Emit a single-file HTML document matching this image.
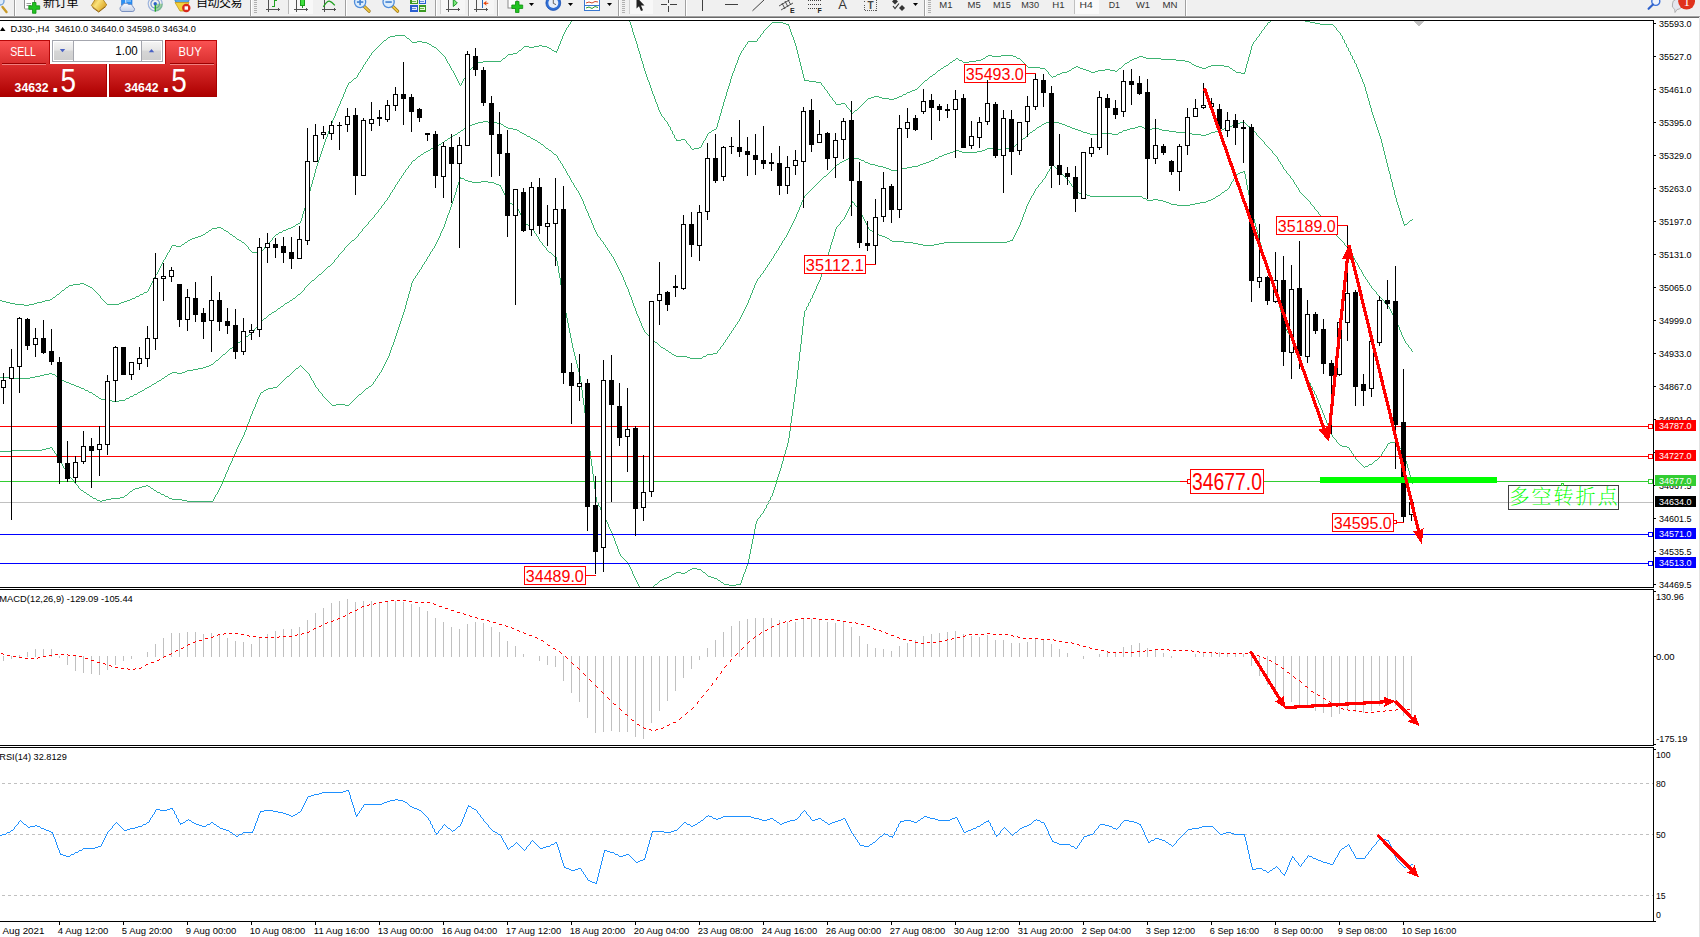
<!DOCTYPE html>
<html lang="zh"><head><meta charset="utf-8"><title>DJ30-,H4</title>
<style>
html,body{margin:0;padding:0;background:#fff;}
body{width:1700px;height:937px;overflow:hidden;position:relative;font-family:'Liberation Sans','Noto Sans CJK SC',sans-serif;}
text{white-space:pre;}
</style></head><body>
<svg width="1700" height="937" viewBox="0 0 1700 937" style="position:absolute;left:0;top:0;display:block" font-family="'Liberation Sans', sans-serif">
<defs><linearGradient id="gGold" x1="0" y1="0" x2="1" y2="0.6"><stop offset="0" stop-color="#c8901a"/><stop offset="0.45" stop-color="#fbe27a"/><stop offset="1" stop-color="#d9a322"/></linearGradient><linearGradient id="gCloud" x1="0" y1="0" x2="0" y2="1"><stop offset="0" stop-color="#fafcff"/><stop offset="1" stop-color="#c4d0e6"/></linearGradient><clipPath id="cpTb"><rect x="0" y="0" width="1700" height="16"/></clipPath><linearGradient id="gTop" x1="0" y1="0" x2="0" y2="1"><stop offset="0" stop-color="#fa5252"/><stop offset="1" stop-color="#d92f2f"/></linearGradient><linearGradient id="gBot" x1="0" y1="0" x2="0" y2="1"><stop offset="0" stop-color="#dc2e2e"/><stop offset="1" stop-color="#ad0000"/></linearGradient><linearGradient id="gBtn" x1="0" y1="0" x2="0" y2="1"><stop offset="0" stop-color="#f4f4f4"/><stop offset="0.45" stop-color="#e6e6e6"/><stop offset="0.5" stop-color="#d6d6d6"/><stop offset="1" stop-color="#cfcfcf"/></linearGradient><clipPath id="cpMain"><rect x="0" y="21" width="1653" height="566"/></clipPath></defs>
<g shape-rendering="crispEdges">
<rect x="0" y="0" width="1700" height="16" fill="#f0f0f0"/>
<rect x="0" y="15" width="1700" height="1" fill="#f4f4f4" />
<rect x="0" y="16" width="1700" height="1" fill="#a2a2a2" />
<rect x="0" y="17" width="1700" height="1" fill="#696969" />
<rect x="1699" y="17" width="1" height="920" fill="#e3e3e3"/>
<rect x="0" y="20" width="1654" height="1" fill="#000" />
<rect x="0" y="587" width="1654" height="1" fill="#000" />
<rect x="1653" y="20" width="1" height="568" fill="#000"/>
<rect x="0" y="589" width="1654" height="1" fill="#000" />
<rect x="0" y="745" width="1654" height="1" fill="#000" />
<rect x="1653" y="589" width="1" height="157" fill="#000"/>
<rect x="0" y="747" width="1654" height="1" fill="#000" />
<rect x="0" y="921" width="1654" height="1" fill="#000" />
<rect x="1653" y="747" width="1" height="175" fill="#000"/>
<g id="macdbars"><rect x="3" y="656" width="1" height="5" fill="#c0c0c0"/><rect x="11" y="656" width="1" height="3" fill="#c0c0c0"/><rect x="19" y="655" width="1" height="2" fill="#c0c0c0"/><rect x="27" y="652" width="1" height="5" fill="#c0c0c0"/><rect x="35" y="649" width="1" height="8" fill="#c0c0c0"/><rect x="43" y="649" width="1" height="8" fill="#c0c0c0"/><rect x="51" y="649" width="1" height="8" fill="#c0c0c0"/><rect x="59" y="656" width="1" height="2" fill="#c0c0c0"/><rect x="67" y="656" width="1" height="9" fill="#c0c0c0"/><rect x="75" y="656" width="1" height="15" fill="#c0c0c0"/><rect x="83" y="656" width="1" height="17" fill="#c0c0c0"/><rect x="91" y="656" width="1" height="18" fill="#c0c0c0"/><rect x="99" y="656" width="1" height="19" fill="#c0c0c0"/><rect x="107" y="656" width="1" height="14" fill="#c0c0c0"/><rect x="115" y="656" width="1" height="9" fill="#c0c0c0"/><rect x="123" y="656" width="1" height="5" fill="#c0c0c0"/><rect x="131" y="656" width="1" height="3" fill="#c0c0c0"/><rect x="147" y="652" width="1" height="5" fill="#c0c0c0"/><rect x="155" y="644" width="1" height="13" fill="#c0c0c0"/><rect x="163" y="638" width="1" height="19" fill="#c0c0c0"/><rect x="171" y="633" width="1" height="24" fill="#c0c0c0"/><rect x="179" y="633" width="1" height="24" fill="#c0c0c0"/><rect x="187" y="632" width="1" height="25" fill="#c0c0c0"/><rect x="195" y="632" width="1" height="25" fill="#c0c0c0"/><rect x="203" y="634" width="1" height="23" fill="#c0c0c0"/><rect x="211" y="633" width="1" height="24" fill="#c0c0c0"/><rect x="219" y="635" width="1" height="22" fill="#c0c0c0"/><rect x="227" y="638" width="1" height="19" fill="#c0c0c0"/><rect x="235" y="641" width="1" height="16" fill="#c0c0c0"/><rect x="243" y="642" width="1" height="15" fill="#c0c0c0"/><rect x="251" y="644" width="1" height="13" fill="#c0c0c0"/><rect x="259" y="638" width="1" height="19" fill="#c0c0c0"/><rect x="267" y="634" width="1" height="23" fill="#c0c0c0"/><rect x="275" y="631" width="1" height="26" fill="#c0c0c0"/><rect x="283" y="629" width="1" height="28" fill="#c0c0c0"/><rect x="291" y="629" width="1" height="28" fill="#c0c0c0"/><rect x="299" y="627" width="1" height="30" fill="#c0c0c0"/><rect x="307" y="620" width="1" height="37" fill="#c0c0c0"/><rect x="315" y="613" width="1" height="44" fill="#c0c0c0"/><rect x="323" y="608" width="1" height="49" fill="#c0c0c0"/><rect x="331" y="603" width="1" height="54" fill="#c0c0c0"/><rect x="339" y="601" width="1" height="56" fill="#c0c0c0"/><rect x="347" y="599" width="1" height="58" fill="#c0c0c0"/><rect x="355" y="602" width="1" height="55" fill="#c0c0c0"/><rect x="363" y="601" width="1" height="56" fill="#c0c0c0"/><rect x="371" y="601" width="1" height="56" fill="#c0c0c0"/><rect x="379" y="602" width="1" height="55" fill="#c0c0c0"/><rect x="387" y="601" width="1" height="56" fill="#c0c0c0"/><rect x="395" y="601" width="1" height="56" fill="#c0c0c0"/><rect x="403" y="602" width="1" height="55" fill="#c0c0c0"/><rect x="411" y="604" width="1" height="53" fill="#c0c0c0"/><rect x="419" y="607" width="1" height="50" fill="#c0c0c0"/><rect x="427" y="611" width="1" height="46" fill="#c0c0c0"/><rect x="435" y="618" width="1" height="39" fill="#c0c0c0"/><rect x="443" y="622" width="1" height="35" fill="#c0c0c0"/><rect x="451" y="627" width="1" height="30" fill="#c0c0c0"/><rect x="459" y="629" width="1" height="28" fill="#c0c0c0"/><rect x="467" y="624" width="1" height="33" fill="#c0c0c0"/><rect x="475" y="622" width="1" height="35" fill="#c0c0c0"/><rect x="483" y="623" width="1" height="34" fill="#c0c0c0"/><rect x="491" y="627" width="1" height="30" fill="#c0c0c0"/><rect x="499" y="632" width="1" height="25" fill="#c0c0c0"/><rect x="507" y="641" width="1" height="16" fill="#c0c0c0"/><rect x="515" y="646" width="1" height="11" fill="#c0c0c0"/><rect x="523" y="654" width="1" height="3" fill="#c0c0c0"/><rect x="539" y="656" width="1" height="5" fill="#c0c0c0"/><rect x="547" y="656" width="1" height="9" fill="#c0c0c0"/><rect x="555" y="656" width="1" height="11" fill="#c0c0c0"/><rect x="563" y="656" width="1" height="25" fill="#c0c0c0"/><rect x="571" y="656" width="1" height="37" fill="#c0c0c0"/><rect x="579" y="656" width="1" height="46" fill="#c0c0c0"/><rect x="587" y="656" width="1" height="62" fill="#c0c0c0"/><rect x="595" y="656" width="1" height="77" fill="#c0c0c0"/><rect x="603" y="656" width="1" height="76" fill="#c0c0c0"/><rect x="611" y="656" width="1" height="75" fill="#c0c0c0"/><rect x="619" y="656" width="1" height="76" fill="#c0c0c0"/><rect x="627" y="656" width="1" height="76" fill="#c0c0c0"/><rect x="635" y="656" width="1" height="81" fill="#c0c0c0"/><rect x="643" y="656" width="1" height="83" fill="#c0c0c0"/><rect x="651" y="656" width="1" height="67" fill="#c0c0c0"/><rect x="659" y="656" width="1" height="55" fill="#c0c0c0"/><rect x="667" y="656" width="1" height="45" fill="#c0c0c0"/><rect x="675" y="656" width="1" height="35" fill="#c0c0c0"/><rect x="683" y="656" width="1" height="22" fill="#c0c0c0"/><rect x="691" y="656" width="1" height="13" fill="#c0c0c0"/><rect x="699" y="656" width="1" height="4" fill="#c0c0c0"/><rect x="707" y="648" width="1" height="9" fill="#c0c0c0"/><rect x="715" y="640" width="1" height="17" fill="#c0c0c0"/><rect x="723" y="632" width="1" height="25" fill="#c0c0c0"/><rect x="731" y="626" width="1" height="31" fill="#c0c0c0"/><rect x="739" y="621" width="1" height="36" fill="#c0c0c0"/><rect x="747" y="619" width="1" height="38" fill="#c0c0c0"/><rect x="755" y="618" width="1" height="39" fill="#c0c0c0"/><rect x="763" y="618" width="1" height="39" fill="#c0c0c0"/><rect x="771" y="618" width="1" height="39" fill="#c0c0c0"/><rect x="779" y="620" width="1" height="37" fill="#c0c0c0"/><rect x="787" y="622" width="1" height="35" fill="#c0c0c0"/><rect x="795" y="622" width="1" height="35" fill="#c0c0c0"/><rect x="803" y="619" width="1" height="38" fill="#c0c0c0"/><rect x="811" y="619" width="1" height="38" fill="#c0c0c0"/><rect x="819" y="619" width="1" height="38" fill="#c0c0c0"/><rect x="827" y="622" width="1" height="35" fill="#c0c0c0"/><rect x="835" y="623" width="1" height="34" fill="#c0c0c0"/><rect x="843" y="621" width="1" height="36" fill="#c0c0c0"/><rect x="851" y="627" width="1" height="30" fill="#c0c0c0"/><rect x="859" y="636" width="1" height="21" fill="#c0c0c0"/><rect x="867" y="644" width="1" height="13" fill="#c0c0c0"/><rect x="875" y="648" width="1" height="9" fill="#c0c0c0"/><rect x="883" y="649" width="1" height="8" fill="#c0c0c0"/><rect x="891" y="651" width="1" height="6" fill="#c0c0c0"/><rect x="899" y="646" width="1" height="11" fill="#c0c0c0"/><rect x="907" y="643" width="1" height="14" fill="#c0c0c0"/><rect x="915" y="640" width="1" height="17" fill="#c0c0c0"/><rect x="923" y="636" width="1" height="21" fill="#c0c0c0"/><rect x="931" y="634" width="1" height="23" fill="#c0c0c0"/><rect x="939" y="633" width="1" height="24" fill="#c0c0c0"/><rect x="947" y="632" width="1" height="25" fill="#c0c0c0"/><rect x="955" y="631" width="1" height="26" fill="#c0c0c0"/><rect x="963" y="634" width="1" height="23" fill="#c0c0c0"/><rect x="971" y="636" width="1" height="21" fill="#c0c0c0"/><rect x="979" y="637" width="1" height="20" fill="#c0c0c0"/><rect x="987" y="635" width="1" height="22" fill="#c0c0c0"/><rect x="995" y="640" width="1" height="17" fill="#c0c0c0"/><rect x="1003" y="640" width="1" height="17" fill="#c0c0c0"/><rect x="1011" y="643" width="1" height="14" fill="#c0c0c0"/><rect x="1019" y="643" width="1" height="14" fill="#c0c0c0"/><rect x="1027" y="642" width="1" height="15" fill="#c0c0c0"/><rect x="1035" y="639" width="1" height="18" fill="#c0c0c0"/><rect x="1043" y="639" width="1" height="18" fill="#c0c0c0"/><rect x="1051" y="644" width="1" height="13" fill="#c0c0c0"/><rect x="1059" y="649" width="1" height="8" fill="#c0c0c0"/><rect x="1067" y="653" width="1" height="4" fill="#c0c0c0"/><rect x="1083" y="656" width="1" height="3" fill="#c0c0c0"/><rect x="1099" y="654" width="1" height="3" fill="#c0c0c0"/><rect x="1107" y="651" width="1" height="6" fill="#c0c0c0"/><rect x="1115" y="652" width="1" height="5" fill="#c0c0c0"/><rect x="1123" y="647" width="1" height="10" fill="#c0c0c0"/><rect x="1131" y="645" width="1" height="12" fill="#c0c0c0"/><rect x="1139" y="643" width="1" height="14" fill="#c0c0c0"/><rect x="1147" y="648" width="1" height="9" fill="#c0c0c0"/><rect x="1155" y="650" width="1" height="7" fill="#c0c0c0"/><rect x="1163" y="653" width="1" height="4" fill="#c0c0c0"/><rect x="1171" y="656" width="1" height="2" fill="#c0c0c0"/><rect x="1195" y="654" width="1" height="3" fill="#c0c0c0"/><rect x="1203" y="652" width="1" height="5" fill="#c0c0c0"/><rect x="1211" y="652" width="1" height="5" fill="#c0c0c0"/><rect x="1219" y="652" width="1" height="5" fill="#c0c0c0"/><rect x="1227" y="653" width="1" height="4" fill="#c0c0c0"/><rect x="1235" y="654" width="1" height="3" fill="#c0c0c0"/><rect x="1243" y="654" width="1" height="3" fill="#c0c0c0"/><rect x="1251" y="656" width="1" height="10" fill="#c0c0c0"/><rect x="1259" y="656" width="1" height="20" fill="#c0c0c0"/><rect x="1267" y="656" width="1" height="29" fill="#c0c0c0"/><rect x="1275" y="656" width="1" height="37" fill="#c0c0c0"/><rect x="1283" y="656" width="1" height="45" fill="#c0c0c0"/><rect x="1291" y="656" width="1" height="46" fill="#c0c0c0"/><rect x="1299" y="656" width="1" height="50" fill="#c0c0c0"/><rect x="1307" y="656" width="1" height="51" fill="#c0c0c0"/><rect x="1315" y="656" width="1" height="55" fill="#c0c0c0"/><rect x="1323" y="656" width="1" height="57" fill="#c0c0c0"/><rect x="1331" y="656" width="1" height="61" fill="#c0c0c0"/><rect x="1339" y="656" width="1" height="58" fill="#c0c0c0"/><rect x="1347" y="656" width="1" height="54" fill="#c0c0c0"/><rect x="1355" y="656" width="1" height="56" fill="#c0c0c0"/><rect x="1363" y="656" width="1" height="57" fill="#c0c0c0"/><rect x="1371" y="656" width="1" height="55" fill="#c0c0c0"/><rect x="1379" y="656" width="1" height="50" fill="#c0c0c0"/><rect x="1387" y="656" width="1" height="47" fill="#c0c0c0"/><rect x="1395" y="656" width="1" height="50" fill="#c0c0c0"/><rect x="1403" y="656" width="1" height="60" fill="#c0c0c0"/><rect x="1411" y="656" width="1" height="67" fill="#c0c0c0"/></g>
<g id="levels"><line x1="2" y1="783.5" x2="1653" y2="783.5" stroke="#c0c0c0" stroke-width="1" stroke-dasharray="3 3"/><line x1="2" y1="834.5" x2="1653" y2="834.5" stroke="#c0c0c0" stroke-width="1" stroke-dasharray="3 3"/><line x1="2" y1="895.5" x2="1653" y2="895.5" stroke="#c0c0c0" stroke-width="1" stroke-dasharray="3 3"/></g>
<g id="bands" clip-path="url(#cpMain)"><path d="M0.5 300v1M1.5 300v1M2.5 301v1M3.5 301v1M4.5 301v1M5.5 301v1M6.5 302v1M7.5 302v1M8.5 302v1M9.5 302v1M10.5 303v1M11.5 303v1M12.5 303v1M13.5 303v1M14.5 303v1M15.5 304v1M16.5 304v1M17.5 304v1M18.5 304v1M19.5 304v1M20.5 304v1M21.5 304v1M22.5 304v1M23.5 304v1M24.5 305v1M25.5 305v1M26.5 305v1M27.5 305v1M28.5 305v1M29.5 304v1M30.5 304v1M31.5 304v1M32.5 304v1M33.5 304v1M34.5 303v1M35.5 303v1M36.5 303v1M37.5 302v1M38.5 302v1M39.5 302v1M40.5 302v1M41.5 302v1M42.5 301v1M43.5 301v1M44.5 301v1M45.5 300v1M46.5 300v1M47.5 300v1M48.5 300v1M49.5 300v1M50.5 299v1M51.5 299v1M52.5 298v1M53.5 297v1M54.5 297v1M55.5 296v1M56.5 295v1M57.5 294v1M58.5 294v1M59.5 293v1M60.5 292v1M61.5 291v1M62.5 290v1M63.5 290v1M64.5 289v1M65.5 288v1M66.5 287v1M67.5 287v1M68.5 286v1M69.5 285v1M70.5 285v1M71.5 285v1M72.5 285v1M73.5 284v1M74.5 284v1M75.5 284v1M76.5 284v1M77.5 284v1M78.5 284v1M79.5 284v1M80.5 283v1M81.5 283v1M82.5 283v1M83.5 283v1M84.5 284v1M85.5 284v1M86.5 285v1M87.5 285v1M88.5 286v1M89.5 286v1M90.5 287v1M91.5 287v1M92.5 288v1M93.5 289v1M94.5 290v1M95.5 291v1M96.5 292v1M97.5 293v1M98.5 294v1M99.5 295v1M100.5 296v2M101.5 298v1M102.5 299v1M103.5 300v1M104.5 301v1M105.5 302v1M106.5 303v1M107.5 304v1M108.5 304v1M109.5 304v1M110.5 304v1M111.5 304v1M112.5 304v1M113.5 304v1M114.5 304v1M115.5 304v1M116.5 304v1M117.5 304v1M118.5 304v1M119.5 303v1M120.5 303v1M121.5 302v1M122.5 302v1M123.5 302v1M124.5 301v1M125.5 301v1M126.5 301v1M127.5 300v1M128.5 300v1M129.5 300v1M130.5 299v1M131.5 299v1M132.5 298v1M133.5 298v1M134.5 298v1M135.5 297v1M136.5 296v1M137.5 296v1M138.5 296v1M139.5 295v1M140.5 294v1M141.5 294v1M142.5 294v1M143.5 293v1M144.5 292v1M145.5 292v1M146.5 292v1M147.5 291v1M148.5 289v2M149.5 287v2M150.5 285v2M151.5 283v2M152.5 281v2M153.5 279v2M154.5 277v2M155.5 275v2M156.5 274v1M157.5 272v2M158.5 270v2M159.5 268v2M160.5 266v2M161.5 264v2M162.5 262v2M163.5 260v2M164.5 259v1M165.5 257v2M166.5 255v2M167.5 253v2M168.5 252v1M169.5 250v2M170.5 248v2M171.5 246v2M172.5 245v1M173.5 245v1M174.5 245v1M175.5 245v1M176.5 246v1M177.5 246v1M178.5 246v1M179.5 246v1M180.5 246v1M181.5 245v1M182.5 244v1M183.5 244v1M184.5 243v1M185.5 242v1M186.5 242v1M187.5 241v1M188.5 240v1M189.5 240v1M190.5 239v1M191.5 239v1M192.5 238v1M193.5 238v1M194.5 238v1M195.5 237v1M196.5 237v1M197.5 237v1M198.5 236v1M199.5 236v1M200.5 236v1M201.5 235v1M202.5 235v1M203.5 234v1M204.5 234v1M205.5 233v1M206.5 232v1M207.5 232v1M208.5 231v1M209.5 230v1M210.5 230v1M211.5 229v1M212.5 228v1M213.5 228v1M214.5 228v1M215.5 228v1M216.5 228v1M217.5 227v1M218.5 227v1M219.5 227v1M220.5 227v1M221.5 228v1M222.5 228v1M223.5 229v1M224.5 230v1M225.5 230v1M226.5 231v1M227.5 231v1M228.5 232v1M229.5 233v1M230.5 234v1M231.5 234v1M232.5 235v1M233.5 236v1M234.5 236v1M235.5 237v1M236.5 238v1M237.5 239v1M238.5 239v1M239.5 240v1M240.5 240v1M241.5 241v1M242.5 242v1M243.5 242v1M244.5 243v1M245.5 244v1M246.5 245v1M247.5 246v1M248.5 247v2M249.5 249v1M250.5 250v1M251.5 251v1M252.5 252v1M253.5 252v1M254.5 252v1M255.5 252v1M256.5 252v1M257.5 252v1M258.5 252v1M259.5 252v1M260.5 252v1M261.5 251v1M262.5 250v1M263.5 249v1M264.5 247v2M265.5 246v1M266.5 245v1M267.5 244v1M268.5 243v1M269.5 242v1M270.5 241v1M271.5 240v1M272.5 238v2M273.5 237v1M274.5 236v1M275.5 235v1M276.5 234v1M277.5 234v1M278.5 233v1M279.5 232v1M280.5 232v1M281.5 232v1M282.5 231v1M283.5 230v1M284.5 230v1M285.5 230v1M286.5 229v1M287.5 229v1M288.5 228v1M289.5 228v1M290.5 228v1M291.5 227v1M292.5 227v1M293.5 226v1M294.5 226v1M295.5 225v1M296.5 224v1M297.5 224v1M298.5 223v1M299.5 223v1M300.5 221v2M301.5 218v3M302.5 214v4M303.5 211v3M304.5 208v3M305.5 205v3M306.5 201v4M307.5 198v3M308.5 195v3M309.5 191v4M310.5 187v4M311.5 184v3M312.5 180v4M313.5 177v3M314.5 173v4M315.5 169v4M316.5 166v3M317.5 163v3M318.5 160v3M319.5 157v3M320.5 154v3M321.5 151v3M322.5 148v3M323.5 145v3M324.5 142v3M325.5 139v3M326.5 137v2M327.5 134v3M328.5 131v3M329.5 128v3M330.5 126v2M331.5 123v3M332.5 120v3M333.5 118v2M334.5 116v2M335.5 113v3M336.5 111v2M337.5 108v3M338.5 106v2M339.5 104v2M340.5 101v3M341.5 99v2M342.5 97v2M343.5 94v3M344.5 92v2M345.5 89v3M346.5 87v2M347.5 85v2M348.5 83v2M349.5 82v1M350.5 82v1M351.5 81v1M352.5 80v1M353.5 79v1M354.5 78v1M355.5 78v1M356.5 77v1M357.5 75v2M358.5 73v2M359.5 72v1M360.5 70v2M361.5 69v1M362.5 67v2M363.5 65v2M364.5 64v1M365.5 62v2M366.5 61v1M367.5 59v2M368.5 58v1M369.5 56v2M370.5 55v1M371.5 53v2M372.5 52v1M373.5 51v1M374.5 50v1M375.5 49v1M376.5 48v1M377.5 47v1M378.5 46v1M379.5 45v1M380.5 44v1M381.5 43v1M382.5 42v1M383.5 41v1M384.5 40v1M385.5 40v1M386.5 39v1M387.5 38v1M388.5 37v1M389.5 37v1M390.5 36v1M391.5 36v1M392.5 36v1M393.5 36v1M394.5 36v1M395.5 35v1M396.5 35v1M397.5 35v1M398.5 35v1M399.5 35v1M400.5 35v1M401.5 35v1M402.5 35v1M403.5 35v1M404.5 35v1M405.5 36v1M406.5 37v1M407.5 38v1M408.5 38v1M409.5 39v1M410.5 40v1M411.5 41v1M412.5 42v1M413.5 42v1M414.5 42v1M415.5 42v1M416.5 42v1M417.5 41v1M418.5 41v1M419.5 41v1M420.5 41v1M421.5 41v1M422.5 42v1M423.5 42v1M424.5 42v1M425.5 42v1M426.5 42v1M427.5 43v1M428.5 43v1M429.5 44v1M430.5 44v1M431.5 45v1M432.5 46v1M433.5 46v1M434.5 47v1M435.5 47v1M436.5 48v1M437.5 49v1M438.5 50v1M439.5 51v1M440.5 52v1M441.5 53v1M442.5 54v1M443.5 55v1M444.5 56v1M445.5 57v2M446.5 59v2M447.5 61v2M448.5 63v1M449.5 64v2M450.5 66v2M451.5 68v2M452.5 70v1M453.5 71v2M454.5 73v2M455.5 75v2M456.5 77v2M457.5 79v2M458.5 81v2M459.5 83v2M460.5 85v1M461.5 83v2M462.5 81v2M463.5 79v2M464.5 78v1M465.5 76v2M466.5 74v2M467.5 72v2M468.5 71v1M469.5 70v1M470.5 69v1M471.5 68v1M472.5 67v1M473.5 66v1M474.5 65v1M475.5 64v1M476.5 63v1M477.5 63v1M478.5 62v1M479.5 62v1M480.5 62v1M481.5 62v1M482.5 62v1M483.5 61v1M484.5 61v1M485.5 61v1M486.5 61v1M487.5 61v1M488.5 61v1M489.5 61v1M490.5 61v1M491.5 61v1M492.5 61v1M493.5 61v1M494.5 61v1M495.5 61v1M496.5 61v1M497.5 61v1M498.5 61v1M499.5 61v1M500.5 61v1M501.5 60v1M502.5 59v1M503.5 58v1M504.5 58v1M505.5 57v1M506.5 56v1M507.5 55v1M508.5 54v1M509.5 54v1M510.5 54v1M511.5 54v1M512.5 54v1M513.5 53v1M514.5 53v1M515.5 53v1M516.5 53v1M517.5 52v1M518.5 51v1M519.5 50v1M520.5 50v1M521.5 49v1M522.5 48v1M523.5 47v1M524.5 46v1M525.5 46v1M526.5 46v1M527.5 46v1M528.5 46v1M529.5 47v1M530.5 47v1M531.5 47v1M532.5 47v1M533.5 47v1M534.5 46v1M535.5 46v1M536.5 46v1M537.5 46v1M538.5 46v1M539.5 45v1M540.5 45v1M541.5 45v1M542.5 46v1M543.5 46v1M544.5 46v1M545.5 46v1M546.5 46v1M547.5 47v1M548.5 47v1M549.5 48v1M550.5 48v1M551.5 49v1M552.5 50v1M553.5 50v1M554.5 51v1M555.5 51v1M556.5 51v2M557.5 49v2M558.5 46v3M559.5 44v2M560.5 41v3M561.5 39v2M562.5 36v3M563.5 34v2M564.5 32v2M565.5 30v2M566.5 28v2M567.5 27v1M568.5 25v2M569.5 24v1M570.5 22v2M571.5 21v1M629.5 21v1M630.5 22v3M631.5 25v3M632.5 28v4M633.5 32v3M634.5 35v3M635.5 38v3M636.5 41v3M637.5 44v4M638.5 48v3M639.5 51v3M640.5 54v4M641.5 58v3M642.5 61v3M643.5 64v4M644.5 68v3M645.5 71v3M646.5 74v3M647.5 77v3M648.5 80v2M649.5 82v3M650.5 85v3M651.5 88v3M652.5 91v3M653.5 94v2M654.5 96v3M655.5 99v3M656.5 102v2M657.5 104v3M658.5 107v3M659.5 110v2M660.5 112v2M661.5 114v2M662.5 116v1M663.5 117v1M664.5 118v2M665.5 120v1M666.5 121v1M667.5 122v2M668.5 124v2M669.5 126v1M670.5 127v3M671.5 130v1M672.5 131v3M673.5 134v1M674.5 135v3M675.5 138v1M676.5 139v2M677.5 140v1M678.5 140v1M679.5 140v1M680.5 140v1M681.5 139v1M682.5 139v1M683.5 139v1M684.5 139v1M685.5 140v1M686.5 141v2M687.5 143v1M688.5 144v1M689.5 145v1M690.5 146v2M691.5 148v1M692.5 149v1M693.5 149v1M694.5 148v1M695.5 148v1M696.5 148v1M697.5 148v1M698.5 148v1M699.5 147v1M700.5 147v1M701.5 145v2M702.5 143v2M703.5 141v2M704.5 140v1M705.5 138v2M706.5 136v2M707.5 134v2M708.5 133v1M709.5 132v1M710.5 132v1M711.5 131v1M712.5 130v1M713.5 130v1M714.5 129v1M715.5 129v1M716.5 127v2M717.5 123v4M718.5 120v3M719.5 116v4M720.5 113v3M721.5 109v4M722.5 106v3M723.5 102v4M724.5 99v3M725.5 96v3M726.5 92v4M727.5 89v3M728.5 86v3M729.5 83v3M730.5 79v4M731.5 76v3M732.5 73v3M733.5 71v2M734.5 68v3M735.5 65v3M736.5 63v2M737.5 60v3M738.5 57v3M739.5 55v2M740.5 53v2M741.5 51v2M742.5 50v1M743.5 48v2M744.5 47v1M745.5 45v2M746.5 44v1M747.5 42v2M748.5 41v1M749.5 41v1M750.5 41v1M751.5 41v1M752.5 41v1M753.5 41v1M754.5 41v1M755.5 41v1M756.5 41v1M757.5 39v2M758.5 38v1M759.5 37v1M760.5 35v2M761.5 34v1M762.5 33v1M763.5 31v2M764.5 30v1M765.5 29v1M766.5 28v1M767.5 27v1M768.5 26v1M769.5 25v1M770.5 24v1M771.5 23v1M772.5 22v1M773.5 22v1M774.5 22v1M775.5 22v1M776.5 22v1M777.5 22v1M778.5 22v1M779.5 22v1M780.5 22v1M781.5 22v1M782.5 22v1M783.5 23v1M784.5 23v1M785.5 23v1M786.5 24v1M787.5 24v1M788.5 24v2M789.5 26v3M790.5 29v3M791.5 32v3M792.5 35v2M793.5 37v3M794.5 40v3M795.5 43v3M796.5 46v4M797.5 50v4M798.5 54v4M799.5 58v4M800.5 62v4M801.5 66v4M802.5 70v4M803.5 74v4M804.5 78v3M805.5 80v1M806.5 80v1M807.5 80v1M808.5 80v1M809.5 81v1M810.5 81v1M811.5 81v1M812.5 81v1M813.5 81v1M814.5 81v1M815.5 81v1M816.5 82v1M817.5 82v1M818.5 82v1M819.5 82v1M820.5 82v1M821.5 83v2M822.5 85v1M823.5 86v1M824.5 87v2M825.5 89v1M826.5 90v1M827.5 91v2M828.5 93v1M829.5 94v2M830.5 96v1M831.5 97v1M832.5 98v2M833.5 100v1M834.5 101v1M835.5 102v2M836.5 104v1M837.5 104v1M838.5 104v1M839.5 104v1M840.5 104v1M841.5 103v1M842.5 103v1M843.5 103v1M844.5 103v1M845.5 104v1M846.5 105v2M847.5 107v1M848.5 108v1M849.5 109v1M850.5 110v2M851.5 112v1M852.5 113v1M853.5 112v1M854.5 111v1M855.5 110v1M856.5 110v1M857.5 109v1M858.5 108v1M859.5 107v1M860.5 106v1M861.5 105v1M862.5 104v1M863.5 103v1M864.5 102v1M865.5 101v1M866.5 100v1M867.5 99v1M868.5 98v1M869.5 98v1M870.5 98v1M871.5 97v1M872.5 97v1M873.5 97v1M874.5 96v1M875.5 96v1M876.5 96v1M877.5 96v1M878.5 96v1M879.5 97v1M880.5 97v1M881.5 97v1M882.5 98v1M883.5 98v1M884.5 98v1M885.5 98v1M886.5 98v1M887.5 98v1M888.5 98v1M889.5 99v1M890.5 99v1M891.5 99v1M892.5 99v1M893.5 99v1M894.5 98v1M895.5 98v1M896.5 98v1M897.5 97v1M898.5 97v1M899.5 96v1M900.5 96v1M901.5 96v1M902.5 95v1M903.5 94v1M904.5 94v1M905.5 94v1M906.5 93v1M907.5 92v1M908.5 92v1M909.5 92v1M910.5 91v1M911.5 91v1M912.5 90v1M913.5 90v1M914.5 90v1M915.5 89v1M916.5 89v1M917.5 88v1M918.5 87v1M919.5 86v1M920.5 85v1M921.5 84v1M922.5 83v1M923.5 82v1M924.5 81v1M925.5 80v1M926.5 80v1M927.5 79v1M928.5 78v1M929.5 77v1M930.5 76v1M931.5 76v1M932.5 75v1M933.5 74v1M934.5 74v1M935.5 73v1M936.5 72v1M937.5 71v1M938.5 70v1M939.5 70v1M940.5 69v1M941.5 68v1M942.5 68v1M943.5 67v1M944.5 66v1M945.5 66v1M946.5 65v1M947.5 65v1M948.5 64v1M949.5 63v1M950.5 62v1M951.5 62v1M952.5 61v1M953.5 60v1M954.5 60v1M955.5 59v1M956.5 58v1M957.5 58v1M958.5 59v1M959.5 60v1M960.5 60v1M961.5 60v1M962.5 61v1M963.5 62v1M964.5 62v1M965.5 62v1M966.5 62v1M967.5 62v1M968.5 62v1M969.5 61v1M970.5 61v1M971.5 61v1M972.5 61v1M973.5 61v1M974.5 61v1M975.5 61v1M976.5 60v1M977.5 60v1M978.5 60v1M979.5 60v1M980.5 60v1M981.5 59v1M982.5 59v1M983.5 58v1M984.5 58v1M985.5 57v1M986.5 56v1M987.5 56v1M988.5 55v1M989.5 55v1M990.5 55v1M991.5 55v1M992.5 56v1M993.5 56v1M994.5 56v1M995.5 56v1M996.5 56v1M997.5 56v1M998.5 56v1M999.5 56v1M1000.5 56v1M1001.5 55v1M1002.5 55v1M1003.5 55v1M1004.5 55v1M1005.5 55v1M1006.5 55v1M1007.5 55v1M1008.5 55v1M1009.5 55v1M1010.5 55v1M1011.5 55v1M1012.5 55v1M1013.5 56v1M1014.5 56v1M1015.5 56v1M1016.5 57v1M1017.5 58v1M1018.5 58v1M1019.5 58v1M1020.5 59v1M1021.5 60v1M1022.5 61v1M1023.5 62v1M1024.5 63v1M1025.5 64v1M1026.5 65v1M1027.5 66v1M1028.5 67v1M1029.5 67v1M1030.5 67v1M1031.5 67v1M1032.5 67v1M1033.5 67v1M1034.5 67v1M1035.5 67v1M1036.5 67v1M1037.5 67v1M1038.5 67v1M1039.5 67v1M1040.5 68v1M1041.5 68v1M1042.5 68v1M1043.5 68v1M1044.5 68v1M1045.5 69v1M1046.5 70v1M1047.5 71v1M1048.5 72v2M1049.5 74v1M1050.5 75v1M1051.5 76v1M1052.5 77v1M1053.5 76v1M1054.5 76v1M1055.5 76v1M1056.5 75v1M1057.5 74v1M1058.5 74v1M1059.5 74v1M1060.5 73v1M1061.5 73v1M1062.5 72v1M1063.5 72v1M1064.5 72v1M1065.5 72v1M1066.5 72v1M1067.5 71v1M1068.5 71v1M1069.5 70v1M1070.5 70v1M1071.5 69v1M1072.5 68v1M1073.5 68v1M1074.5 67v1M1075.5 67v1M1076.5 66v1M1077.5 66v1M1078.5 67v1M1079.5 67v1M1080.5 68v1M1081.5 68v1M1082.5 68v1M1083.5 69v1M1084.5 69v1M1085.5 69v1M1086.5 70v1M1087.5 70v1M1088.5 70v1M1089.5 71v1M1090.5 71v1M1091.5 72v1M1092.5 72v1M1093.5 72v1M1094.5 72v1M1095.5 71v1M1096.5 71v1M1097.5 71v1M1098.5 70v1M1099.5 70v1M1100.5 70v1M1101.5 70v1M1102.5 70v1M1103.5 70v1M1104.5 70v1M1105.5 69v1M1106.5 69v1M1107.5 69v1M1108.5 69v1M1109.5 69v1M1110.5 70v1M1111.5 70v1M1112.5 70v1M1113.5 70v1M1114.5 70v1M1115.5 71v1M1116.5 71v1M1117.5 70v1M1118.5 69v1M1119.5 68v1M1120.5 68v1M1121.5 67v1M1122.5 66v1M1123.5 65v1M1124.5 64v1M1125.5 63v1M1126.5 63v1M1127.5 62v1M1128.5 62v1M1129.5 61v1M1130.5 60v1M1131.5 60v1M1132.5 59v1M1133.5 59v1M1134.5 58v1M1135.5 58v1M1136.5 58v1M1137.5 57v1M1138.5 57v1M1139.5 56v1M1140.5 56v1M1141.5 56v1M1142.5 56v1M1143.5 57v1M1144.5 57v1M1145.5 57v1M1146.5 58v1M1147.5 58v1M1148.5 58v1M1149.5 58v1M1150.5 58v1M1151.5 58v1M1152.5 58v1M1153.5 58v1M1154.5 58v1M1155.5 58v1M1156.5 58v1M1157.5 58v1M1158.5 58v1M1159.5 58v1M1160.5 58v1M1161.5 59v1M1162.5 59v1M1163.5 59v1M1164.5 59v1M1165.5 59v1M1166.5 59v1M1167.5 59v1M1168.5 59v1M1169.5 59v1M1170.5 59v1M1171.5 59v1M1172.5 59v1M1173.5 59v1M1174.5 59v1M1175.5 59v1M1176.5 60v1M1177.5 60v1M1178.5 60v1M1179.5 60v1M1180.5 60v1M1181.5 60v1M1182.5 60v1M1183.5 60v1M1184.5 60v1M1185.5 61v1M1186.5 61v1M1187.5 61v1M1188.5 61v1M1189.5 62v1M1190.5 62v1M1191.5 63v1M1192.5 64v1M1193.5 64v1M1194.5 65v1M1195.5 65v1M1196.5 66v1M1197.5 66v1M1198.5 66v1M1199.5 67v1M1200.5 67v1M1201.5 67v1M1202.5 68v1M1203.5 68v1M1204.5 68v1M1205.5 68v1M1206.5 67v1M1207.5 67v1M1208.5 66v1M1209.5 66v1M1210.5 66v1M1211.5 65v1M1212.5 65v1M1213.5 65v1M1214.5 65v1M1215.5 65v1M1216.5 65v1M1217.5 65v1M1218.5 65v1M1219.5 65v1M1220.5 65v1M1221.5 65v1M1222.5 65v1M1223.5 65v1M1224.5 66v1M1225.5 66v1M1226.5 66v1M1227.5 66v1M1228.5 66v1M1229.5 67v1M1230.5 68v1M1231.5 68v1M1232.5 69v1M1233.5 70v1M1234.5 70v1M1235.5 71v1M1236.5 72v1M1237.5 72v1M1238.5 72v1M1239.5 72v1M1240.5 72v1M1241.5 73v1M1242.5 73v1M1243.5 73v1M1244.5 72v2M1245.5 68v4M1246.5 64v4M1247.5 61v3M1248.5 57v4M1249.5 54v3M1250.5 50v4M1251.5 46v4M1252.5 44v2M1253.5 42v2M1254.5 41v1M1255.5 40v1M1256.5 38v2M1257.5 37v1M1258.5 36v1M1259.5 34v2M1260.5 33v1M1261.5 31v2M1262.5 30v1M1263.5 29v1M1264.5 27v2M1265.5 26v1M1266.5 25v1M1267.5 23v2M1268.5 22v1M1269.5 22v1M1270.5 21v1M1305.5 21v1M1306.5 21v1M1307.5 21v1M1308.5 21v1M1309.5 21v1M1310.5 22v1M1311.5 22v1M1312.5 22v1M1313.5 22v1M1314.5 22v1M1315.5 23v1M1316.5 23v1M1317.5 23v1M1318.5 23v1M1319.5 23v1M1320.5 24v1M1321.5 24v1M1322.5 24v1M1323.5 24v1M1324.5 24v1M1325.5 24v1M1326.5 24v1M1327.5 24v1M1328.5 24v1M1329.5 24v1M1330.5 24v1M1331.5 24v1M1332.5 24v1M1333.5 25v1M1334.5 26v1M1335.5 27v1M1336.5 28v2M1337.5 30v1M1338.5 31v1M1339.5 32v1M1340.5 33v2M1341.5 35v1M1342.5 36v3M1343.5 39v1M1344.5 40v3M1345.5 43v1M1346.5 44v3M1347.5 47v1M1348.5 48v3M1349.5 51v1M1350.5 52v3M1351.5 55v1M1352.5 56v3M1353.5 59v1M1354.5 60v3M1355.5 63v1M1356.5 64v3M1357.5 67v2M1358.5 69v3M1359.5 72v2M1360.5 74v3M1361.5 77v2M1362.5 79v3M1363.5 82v2M1364.5 84v3M1365.5 87v4M1366.5 91v3M1367.5 94v4M1368.5 98v3M1369.5 101v4M1370.5 105v3M1371.5 108v4M1372.5 112v3M1373.5 115v3M1374.5 118v3M1375.5 121v3M1376.5 124v3M1377.5 127v3M1378.5 130v3M1379.5 133v3M1380.5 136v3M1381.5 139v4M1382.5 143v4M1383.5 147v4M1384.5 151v4M1385.5 155v4M1386.5 159v4M1387.5 163v4M1388.5 167v4M1389.5 171v3M1390.5 174v5M1391.5 179v3M1392.5 182v5M1393.5 187v3M1394.5 190v5M1395.5 195v3M1396.5 198v4M1397.5 202v3M1398.5 205v3M1399.5 208v3M1400.5 211v4M1401.5 215v3M1402.5 218v3M1403.5 221v3M1404.5 224v2M1405.5 224v1M1406.5 224v1M1407.5 223v1M1408.5 222v1M1409.5 221v1M1410.5 220v1M1411.5 220v1M1412.5 219v1" stroke="#3CB371" stroke-width="1" fill="none"/><path d="M0.5 377v1M1.5 377v1M2.5 377v1M3.5 377v1M4.5 377v1M5.5 377v1M6.5 377v1M7.5 377v1M8.5 377v1M9.5 377v1M10.5 377v1M11.5 377v1M12.5 377v1M13.5 377v1M14.5 378v1M15.5 378v1M16.5 378v1M17.5 378v1M18.5 378v1M19.5 378v1M20.5 378v1M21.5 378v1M22.5 378v1M23.5 378v1M24.5 378v1M25.5 378v1M26.5 378v1M27.5 378v1M28.5 378v1M29.5 378v1M30.5 377v1M31.5 377v1M32.5 377v1M33.5 377v1M34.5 377v1M35.5 376v1M36.5 376v1M37.5 376v1M38.5 376v1M39.5 376v1M40.5 375v1M41.5 375v1M42.5 375v1M43.5 375v1M44.5 374v1M45.5 374v1M46.5 374v1M47.5 374v1M48.5 374v1M49.5 373v1M50.5 373v1M51.5 373v1M52.5 374v1M53.5 374v1M54.5 374v1M55.5 375v1M56.5 376v1M57.5 376v1M58.5 377v1M59.5 377v1M60.5 378v1M61.5 379v1M62.5 380v1M63.5 380v1M64.5 381v1M65.5 381v1M66.5 382v1M67.5 382v1M68.5 382v1M69.5 383v1M70.5 383v1M71.5 384v1M72.5 384v1M73.5 384v1M74.5 385v1M75.5 385v1M76.5 386v1M77.5 386v1M78.5 386v1M79.5 387v1M80.5 387v1M81.5 388v1M82.5 388v1M83.5 388v1M84.5 389v1M85.5 390v1M86.5 390v1M87.5 390v1M88.5 391v1M89.5 392v1M90.5 392v1M91.5 392v1M92.5 393v1M93.5 394v1M94.5 394v1M95.5 395v1M96.5 396v1M97.5 396v1M98.5 397v1M99.5 398v1M100.5 398v1M101.5 399v1M102.5 399v1M103.5 399v1M104.5 399v1M105.5 400v1M106.5 400v1M107.5 400v1M108.5 400v1M109.5 400v1M110.5 400v1M111.5 400v1M112.5 401v1M113.5 401v1M114.5 401v1M115.5 401v1M116.5 401v1M117.5 401v1M118.5 401v1M119.5 400v1M120.5 400v1M121.5 400v1M122.5 400v1M123.5 400v1M124.5 400v1M125.5 399v1M126.5 398v1M127.5 398v1M128.5 398v1M129.5 397v1M130.5 396v1M131.5 396v1M132.5 396v1M133.5 395v1M134.5 394v1M135.5 394v1M136.5 394v1M137.5 393v1M138.5 392v1M139.5 392v1M140.5 391v1M141.5 391v1M142.5 390v1M143.5 390v1M144.5 389v1M145.5 388v1M146.5 388v1M147.5 387v1M148.5 387v1M149.5 386v1M150.5 386v1M151.5 385v1M152.5 384v1M153.5 384v1M154.5 383v1M155.5 383v1M156.5 382v1M157.5 381v1M158.5 381v1M159.5 380v1M160.5 380v1M161.5 379v1M162.5 378v1M163.5 378v1M164.5 377v1M165.5 376v1M166.5 376v1M167.5 375v1M168.5 374v1M169.5 374v1M170.5 373v1M171.5 373v1M172.5 372v1M173.5 372v1M174.5 372v1M175.5 372v1M176.5 372v1M177.5 373v1M178.5 373v1M179.5 373v1M180.5 373v1M181.5 373v1M182.5 372v1M183.5 372v1M184.5 372v1M185.5 371v1M186.5 371v1M187.5 370v1M188.5 370v1M189.5 370v1M190.5 370v1M191.5 370v1M192.5 370v1M193.5 369v1M194.5 369v1M195.5 369v1M196.5 369v1M197.5 369v1M198.5 368v1M199.5 368v1M200.5 368v1M201.5 368v1M202.5 368v1M203.5 367v1M204.5 367v1M205.5 367v1M206.5 366v1M207.5 366v1M208.5 366v1M209.5 365v1M210.5 365v1M211.5 364v1M212.5 364v1M213.5 363v1M214.5 362v1M215.5 361v1M216.5 360v1M217.5 360v1M218.5 359v1M219.5 358v1M220.5 357v1M221.5 356v1M222.5 355v1M223.5 354v1M224.5 354v1M225.5 353v1M226.5 352v1M227.5 351v1M228.5 350v1M229.5 349v1M230.5 348v1M231.5 348v1M232.5 347v1M233.5 346v1M234.5 346v1M235.5 345v1M236.5 344v1M237.5 343v1M238.5 342v1M239.5 342v1M240.5 341v1M241.5 340v1M242.5 340v1M243.5 339v1M244.5 338v1M245.5 337v1M246.5 336v1M247.5 336v1M248.5 335v1M249.5 334v1M250.5 334v1M251.5 333v1M252.5 332v1M253.5 331v1M254.5 329v2M255.5 328v1M256.5 327v1M257.5 326v1M258.5 324v2M259.5 323v1M260.5 322v1M261.5 321v1M262.5 320v1M263.5 319v1M264.5 318v1M265.5 318v1M266.5 317v1M267.5 316v1M268.5 315v1M269.5 314v1M270.5 314v1M271.5 313v1M272.5 312v1M273.5 312v1M274.5 311v1M275.5 311v1M276.5 310v1M277.5 309v1M278.5 308v1M279.5 308v1M280.5 307v1M281.5 306v1M282.5 306v1M283.5 305v1M284.5 304v1M285.5 303v1M286.5 303v1M287.5 302v1M288.5 302v1M289.5 301v1M290.5 300v1M291.5 300v1M292.5 299v1M293.5 298v1M294.5 298v1M295.5 297v1M296.5 296v1M297.5 295v1M298.5 294v1M299.5 294v1M300.5 293v1M301.5 292v1M302.5 291v1M303.5 290v1M304.5 288v2M305.5 287v1M306.5 286v1M307.5 285v1M308.5 284v1M309.5 283v1M310.5 282v1M311.5 281v1M312.5 280v1M313.5 280v1M314.5 279v1M315.5 278v1M316.5 277v1M317.5 276v1M318.5 275v1M319.5 274v1M320.5 274v1M321.5 273v1M322.5 272v1M323.5 271v1M324.5 270v1M325.5 269v1M326.5 268v1M327.5 267v1M328.5 266v1M329.5 266v1M330.5 265v1M331.5 264v1M332.5 263v1M333.5 262v1M334.5 260v2M335.5 259v1M336.5 258v1M337.5 257v1M338.5 255v2M339.5 254v1M340.5 253v1M341.5 252v1M342.5 251v1M343.5 250v1M344.5 248v2M345.5 247v1M346.5 246v1M347.5 245v1M348.5 244v1M349.5 243v1M350.5 242v1M351.5 241v1M352.5 240v1M353.5 240v1M354.5 239v1M355.5 238v1M356.5 237v1M357.5 236v1M358.5 234v2M359.5 233v1M360.5 232v1M361.5 231v1M362.5 229v2M363.5 228v1M364.5 227v1M365.5 226v1M366.5 225v1M367.5 224v1M368.5 222v2M369.5 221v1M370.5 220v1M371.5 219v1M372.5 218v1M373.5 217v1M374.5 215v2M375.5 214v1M376.5 213v1M377.5 212v1M378.5 210v2M379.5 209v1M380.5 208v1M381.5 206v2M382.5 205v1M383.5 204v1M384.5 202v2M385.5 201v1M386.5 200v1M387.5 198v2M388.5 197v1M389.5 195v2M390.5 193v2M391.5 192v1M392.5 190v2M393.5 189v1M394.5 187v2M395.5 185v2M396.5 184v1M397.5 182v2M398.5 181v1M399.5 179v2M400.5 178v1M401.5 176v2M402.5 175v1M403.5 173v2M404.5 172v1M405.5 170v2M406.5 169v1M407.5 168v1M408.5 166v2M409.5 165v1M410.5 164v1M411.5 162v2M412.5 161v1M413.5 160v1M414.5 160v1M415.5 159v1M416.5 158v1M417.5 157v1M418.5 156v1M419.5 156v1M420.5 155v1M421.5 154v1M422.5 154v1M423.5 153v1M424.5 152v1M425.5 152v1M426.5 151v1M427.5 151v1M428.5 150v1M429.5 150v1M430.5 149v1M431.5 148v1M432.5 148v1M433.5 148v1M434.5 147v1M435.5 146v1M436.5 146v1M437.5 145v1M438.5 145v1M439.5 144v1M440.5 144v1M441.5 143v1M442.5 142v1M443.5 142v1M444.5 141v1M445.5 140v1M446.5 140v1M447.5 139v1M448.5 138v1M449.5 138v1M450.5 137v1M451.5 137v1M452.5 136v1M453.5 135v1M454.5 135v1M455.5 134v1M456.5 134v1M457.5 133v1M458.5 132v1M459.5 132v1M460.5 131v1M461.5 130v1M462.5 130v1M463.5 129v1M464.5 128v1M465.5 128v1M466.5 127v1M467.5 127v1M468.5 126v1M469.5 126v1M470.5 125v1M471.5 125v1M472.5 124v1M473.5 124v1M474.5 124v1M475.5 123v1M476.5 123v1M477.5 123v1M478.5 122v1M479.5 122v1M480.5 122v1M481.5 122v1M482.5 122v1M483.5 121v1M484.5 121v1M485.5 121v1M486.5 121v1M487.5 121v1M488.5 122v1M489.5 122v1M490.5 122v1M491.5 122v1M492.5 122v1M493.5 122v1M494.5 122v1M495.5 122v1M496.5 122v1M497.5 123v1M498.5 123v1M499.5 123v1M500.5 123v1M501.5 124v1M502.5 124v1M503.5 125v1M504.5 126v1M505.5 126v1M506.5 127v1M507.5 127v1M508.5 128v1M509.5 128v1M510.5 128v1M511.5 128v1M512.5 128v1M513.5 129v1M514.5 129v1M515.5 129v1M516.5 129v1M517.5 130v1M518.5 130v1M519.5 131v1M520.5 132v1M521.5 132v1M522.5 133v1M523.5 133v1M524.5 134v1M525.5 134v1M526.5 135v1M527.5 136v1M528.5 136v1M529.5 136v1M530.5 137v1M531.5 138v1M532.5 138v1M533.5 139v1M534.5 139v1M535.5 140v1M536.5 140v1M537.5 141v1M538.5 142v1M539.5 142v1M540.5 143v1M541.5 144v1M542.5 144v1M543.5 145v1M544.5 146v1M545.5 147v1M546.5 148v1M547.5 148v1M548.5 149v1M549.5 150v1M550.5 150v1M551.5 151v1M552.5 152v1M553.5 153v1M554.5 154v1M555.5 154v1M556.5 155v1M557.5 156v2M558.5 158v2M559.5 160v1M560.5 161v2M561.5 163v1M562.5 164v2M563.5 166v2M564.5 168v1M565.5 169v2M566.5 171v2M567.5 173v2M568.5 175v1M569.5 176v2M570.5 178v2M571.5 180v2M572.5 182v1M573.5 183v2M574.5 185v2M575.5 187v1M576.5 188v2M577.5 190v1M578.5 191v2M579.5 193v2M580.5 195v2M581.5 197v2M582.5 199v2M583.5 201v3M584.5 204v2M585.5 206v3M586.5 209v2M587.5 211v2M588.5 213v3M589.5 216v2M590.5 218v2M591.5 220v3M592.5 223v2M593.5 225v3M594.5 228v2M595.5 230v2M596.5 232v2M597.5 234v2M598.5 236v1M599.5 237v1M600.5 238v2M601.5 240v1M602.5 241v1M603.5 242v2M604.5 244v1M605.5 245v2M606.5 247v1M607.5 248v2M608.5 250v1M609.5 251v2M610.5 253v1M611.5 254v2M612.5 256v1M613.5 257v2M614.5 259v2M615.5 261v2M616.5 263v2M617.5 265v2M618.5 267v2M619.5 269v2M620.5 271v2M621.5 273v2M622.5 275v2M623.5 277v3M624.5 280v2M625.5 282v3M626.5 285v2M627.5 287v2M628.5 289v3M629.5 292v3M630.5 295v2M631.5 297v3M632.5 300v3M633.5 303v3M634.5 306v2M635.5 308v3M636.5 311v3M637.5 314v2M638.5 316v2M639.5 318v3M640.5 321v2M641.5 323v3M642.5 326v2M643.5 328v2M644.5 330v2M645.5 332v1M646.5 333v1M647.5 334v1M648.5 335v1M649.5 336v1M650.5 337v1M651.5 338v1M652.5 339v1M653.5 340v1M654.5 341v1M655.5 342v1M656.5 342v1M657.5 343v1M658.5 344v1M659.5 345v1M660.5 346v1M661.5 347v1M662.5 347v1M663.5 348v1M664.5 348v1M665.5 349v1M666.5 350v1M667.5 350v1M668.5 351v1M669.5 352v1M670.5 352v1M671.5 353v1M672.5 354v1M673.5 354v1M674.5 355v1M675.5 355v1M676.5 356v1M677.5 356v1M678.5 356v1M679.5 356v1M680.5 356v1M681.5 356v1M682.5 356v1M683.5 356v1M684.5 356v1M685.5 356v1M686.5 356v1M687.5 357v1M688.5 357v1M689.5 357v1M690.5 358v1M691.5 358v1M692.5 358v1M693.5 358v1M694.5 358v1M695.5 358v1M696.5 358v1M697.5 358v1M698.5 358v1M699.5 358v1M700.5 358v1M701.5 358v1M702.5 357v1M703.5 356v1M704.5 356v1M705.5 356v1M706.5 355v1M707.5 354v1M708.5 354v1M709.5 354v1M710.5 354v1M711.5 354v1M712.5 354v1M713.5 353v1M714.5 353v1M715.5 353v1M716.5 353v1M717.5 351v2M718.5 350v1M719.5 349v1M720.5 347v2M721.5 346v1M722.5 345v1M723.5 343v2M724.5 342v1M725.5 340v2M726.5 339v1M727.5 337v2M728.5 336v1M729.5 334v2M730.5 333v1M731.5 331v2M732.5 330v1M733.5 328v2M734.5 327v1M735.5 325v2M736.5 324v1M737.5 322v2M738.5 321v1M739.5 319v2M740.5 317v2M741.5 315v2M742.5 313v2M743.5 311v2M744.5 309v2M745.5 307v2M746.5 305v2M747.5 303v2M748.5 300v3M749.5 298v2M750.5 295v3M751.5 293v2M752.5 290v3M753.5 288v2M754.5 285v3M755.5 283v2M756.5 281v2M757.5 279v2M758.5 278v1M759.5 277v1M760.5 275v2M761.5 274v1M762.5 273v1M763.5 271v2M764.5 270v1M765.5 268v2M766.5 267v1M767.5 265v2M768.5 264v1M769.5 262v2M770.5 261v1M771.5 259v2M772.5 258v1M773.5 256v2M774.5 254v2M775.5 253v1M776.5 251v2M777.5 250v1M778.5 248v2M779.5 246v2M780.5 245v1M781.5 243v2M782.5 241v2M783.5 240v1M784.5 238v2M785.5 237v1M786.5 235v2M787.5 233v2M788.5 231v2M789.5 229v2M790.5 227v2M791.5 225v2M792.5 223v2M793.5 221v2M794.5 219v2M795.5 217v2M796.5 214v3M797.5 212v2M798.5 210v2M799.5 207v3M800.5 205v2M801.5 202v3M802.5 200v2M803.5 198v2M804.5 196v2M805.5 195v1M806.5 194v1M807.5 193v1M808.5 192v1M809.5 191v1M810.5 190v1M811.5 189v1M812.5 188v1M813.5 187v1M814.5 186v1M815.5 185v1M816.5 184v1M817.5 183v1M818.5 182v1M819.5 181v1M820.5 180v1M821.5 179v1M822.5 178v1M823.5 177v1M824.5 176v1M825.5 176v1M826.5 175v1M827.5 174v1M828.5 173v1M829.5 172v1M830.5 171v1M831.5 170v1M832.5 169v1M833.5 168v1M834.5 167v1M835.5 166v1M836.5 165v1M837.5 164v1M838.5 164v1M839.5 163v1M840.5 162v1M841.5 162v1M842.5 161v1M843.5 161v1M844.5 160v1M845.5 160v1M846.5 159v1M847.5 159v1M848.5 158v1M849.5 158v1M850.5 158v1M851.5 157v1M852.5 157v1M853.5 157v1M854.5 158v1M855.5 158v1M856.5 158v1M857.5 158v1M858.5 158v1M859.5 159v1M860.5 159v1M861.5 160v1M862.5 160v1M863.5 160v1M864.5 161v1M865.5 162v1M866.5 162v1M867.5 162v1M868.5 163v1M869.5 163v1M870.5 164v1M871.5 164v1M872.5 164v1M873.5 164v1M874.5 164v1M875.5 165v1M876.5 165v1M877.5 165v1M878.5 166v1M879.5 166v1M880.5 166v1M881.5 166v1M882.5 166v1M883.5 167v1M884.5 167v1M885.5 167v1M886.5 168v1M887.5 168v1M888.5 168v1M889.5 169v1M890.5 169v1M891.5 170v1M892.5 170v1M893.5 170v1M894.5 170v1M895.5 170v1M896.5 170v1M897.5 169v1M898.5 169v1M899.5 169v1M900.5 169v1M901.5 169v1M902.5 168v1M903.5 168v1M904.5 168v1M905.5 168v1M906.5 168v1M907.5 167v1M908.5 167v1M909.5 167v1M910.5 167v1M911.5 167v1M912.5 166v1M913.5 166v1M914.5 166v1M915.5 166v1M916.5 166v1M917.5 166v1M918.5 165v1M919.5 165v1M920.5 164v1M921.5 164v1M922.5 164v1M923.5 163v1M924.5 163v1M925.5 163v1M926.5 162v1M927.5 162v1M928.5 162v1M929.5 161v1M930.5 161v1M931.5 160v1M932.5 160v1M933.5 160v1M934.5 159v1M935.5 158v1M936.5 158v1M937.5 158v1M938.5 157v1M939.5 156v1M940.5 156v1M941.5 156v1M942.5 155v1M943.5 155v1M944.5 154v1M945.5 154v1M946.5 154v1M947.5 153v1M948.5 153v1M949.5 153v1M950.5 152v1M951.5 152v1M952.5 152v1M953.5 151v1M954.5 151v1M955.5 150v1M956.5 150v1M957.5 150v1M958.5 150v1M959.5 151v1M960.5 151v1M961.5 151v1M962.5 152v1M963.5 152v1M964.5 152v1M965.5 152v1M966.5 152v1M967.5 152v1M968.5 152v1M969.5 152v1M970.5 152v1M971.5 152v1M972.5 152v1M973.5 152v1M974.5 152v1M975.5 152v1M976.5 152v1M977.5 151v1M978.5 151v1M979.5 151v1M980.5 151v1M981.5 151v1M982.5 150v1M983.5 150v1M984.5 150v1M985.5 149v1M986.5 149v1M987.5 148v1M988.5 148v1M989.5 148v1M990.5 148v1M991.5 148v1M992.5 148v1M993.5 149v1M994.5 149v1M995.5 149v1M996.5 149v1M997.5 149v1M998.5 149v1M999.5 149v1M1000.5 149v1M1001.5 149v1M1002.5 149v1M1003.5 149v1M1004.5 149v1M1005.5 149v1M1006.5 148v1M1007.5 148v1M1008.5 148v1M1009.5 148v1M1010.5 148v1M1011.5 147v1M1012.5 147v1M1013.5 146v1M1014.5 146v1M1015.5 145v1M1016.5 144v1M1017.5 143v1M1018.5 142v1M1019.5 142v1M1020.5 141v1M1021.5 140v1M1022.5 139v1M1023.5 138v1M1024.5 138v1M1025.5 137v1M1026.5 136v1M1027.5 135v1M1028.5 134v1M1029.5 133v1M1030.5 132v1M1031.5 132v1M1032.5 131v1M1033.5 130v1M1034.5 130v1M1035.5 129v1M1036.5 128v1M1037.5 127v1M1038.5 127v1M1039.5 126v1M1040.5 126v1M1041.5 125v1M1042.5 124v1M1043.5 124v1M1044.5 123v1M1045.5 123v1M1046.5 122v1M1047.5 122v1M1048.5 122v1M1049.5 122v1M1050.5 122v1M1051.5 121v1M1052.5 121v1M1053.5 121v1M1054.5 122v1M1055.5 122v1M1056.5 122v1M1057.5 122v1M1058.5 122v1M1059.5 123v1M1060.5 123v1M1061.5 123v1M1062.5 124v1M1063.5 124v1M1064.5 124v1M1065.5 125v1M1066.5 125v1M1067.5 126v1M1068.5 126v1M1069.5 126v1M1070.5 127v1M1071.5 127v1M1072.5 128v1M1073.5 128v1M1074.5 128v1M1075.5 129v1M1076.5 129v1M1077.5 129v1M1078.5 130v1M1079.5 130v1M1080.5 130v1M1081.5 131v1M1082.5 131v1M1083.5 132v1M1084.5 132v1M1085.5 132v1M1086.5 132v1M1087.5 133v1M1088.5 133v1M1089.5 133v1M1090.5 134v1M1091.5 134v1M1092.5 134v1M1093.5 134v1M1094.5 134v1M1095.5 134v1M1096.5 134v1M1097.5 133v1M1098.5 133v1M1099.5 133v1M1100.5 133v1M1101.5 133v1M1102.5 133v1M1103.5 133v1M1104.5 133v1M1105.5 133v1M1106.5 133v1M1107.5 133v1M1108.5 133v1M1109.5 133v1M1110.5 133v1M1111.5 133v1M1112.5 134v1M1113.5 134v1M1114.5 134v1M1115.5 134v1M1116.5 134v1M1117.5 134v1M1118.5 133v1M1119.5 132v1M1120.5 132v1M1121.5 132v1M1122.5 131v1M1123.5 130v1M1124.5 130v1M1125.5 130v1M1126.5 130v1M1127.5 129v1M1128.5 129v1M1129.5 129v1M1130.5 128v1M1131.5 128v1M1132.5 128v1M1133.5 128v1M1134.5 128v1M1135.5 127v1M1136.5 127v1M1137.5 127v1M1138.5 126v1M1139.5 126v1M1140.5 126v1M1141.5 126v1M1142.5 127v1M1143.5 127v1M1144.5 128v1M1145.5 128v1M1146.5 128v1M1147.5 129v1M1148.5 129v1M1149.5 129v1M1150.5 129v1M1151.5 129v1M1152.5 128v1M1153.5 128v1M1154.5 128v1M1155.5 128v1M1156.5 128v1M1157.5 128v1M1158.5 128v1M1159.5 129v1M1160.5 129v1M1161.5 129v1M1162.5 130v1M1163.5 130v1M1164.5 130v1M1165.5 130v1M1166.5 130v1M1167.5 130v1M1168.5 130v1M1169.5 131v1M1170.5 131v1M1171.5 131v1M1172.5 131v1M1173.5 131v1M1174.5 131v1M1175.5 131v1M1176.5 132v1M1177.5 132v1M1178.5 132v1M1179.5 132v1M1180.5 132v1M1181.5 132v1M1182.5 132v1M1183.5 132v1M1184.5 132v1M1185.5 133v1M1186.5 133v1M1187.5 133v1M1188.5 133v1M1189.5 133v1M1190.5 133v1M1191.5 133v1M1192.5 134v1M1193.5 134v1M1194.5 134v1M1195.5 134v1M1196.5 134v1M1197.5 134v1M1198.5 134v1M1199.5 134v1M1200.5 134v1M1201.5 135v1M1202.5 135v1M1203.5 135v1M1204.5 135v1M1205.5 135v1M1206.5 134v1M1207.5 134v1M1208.5 134v1M1209.5 133v1M1210.5 133v1M1211.5 132v1M1212.5 132v1M1213.5 132v1M1214.5 132v1M1215.5 131v1M1216.5 131v1M1217.5 131v1M1218.5 130v1M1219.5 130v1M1220.5 130v1M1221.5 130v1M1222.5 129v1M1223.5 129v1M1224.5 128v1M1225.5 128v1M1226.5 128v1M1227.5 127v1M1228.5 127v1M1229.5 126v1M1230.5 126v1M1231.5 126v1M1232.5 125v1M1233.5 124v1M1234.5 124v1M1235.5 124v1M1236.5 123v1M1237.5 123v1M1238.5 123v1M1239.5 123v1M1240.5 122v1M1241.5 122v1M1242.5 122v1M1243.5 122v1M1244.5 122v1M1245.5 123v1M1246.5 124v1M1247.5 125v1M1248.5 126v1M1249.5 126v1M1250.5 127v1M1251.5 128v1M1252.5 129v1M1253.5 130v1M1254.5 131v1M1255.5 132v1M1256.5 133v2M1257.5 135v1M1258.5 136v1M1259.5 137v1M1260.5 138v1M1261.5 139v1M1262.5 140v1M1263.5 141v1M1264.5 142v2M1265.5 144v1M1266.5 145v1M1267.5 146v1M1268.5 147v1M1269.5 148v1M1270.5 149v1M1271.5 150v1M1272.5 151v2M1273.5 153v1M1274.5 154v1M1275.5 155v1M1276.5 156v1M1277.5 157v2M1278.5 159v2M1279.5 161v1M1280.5 162v2M1281.5 164v1M1282.5 165v2M1283.5 167v2M1284.5 169v1M1285.5 170v1M1286.5 171v2M1287.5 173v1M1288.5 174v1M1289.5 175v1M1290.5 176v2M1291.5 178v1M1292.5 179v1M1293.5 180v2M1294.5 182v2M1295.5 184v1M1296.5 185v2M1297.5 187v1M1298.5 188v2M1299.5 190v2M1300.5 192v1M1301.5 193v1M1302.5 194v1M1303.5 195v1M1304.5 196v1M1305.5 197v1M1306.5 198v1M1307.5 199v1M1308.5 200v1M1309.5 201v1M1310.5 202v2M1311.5 204v1M1312.5 205v1M1313.5 206v1M1314.5 207v2M1315.5 209v1M1316.5 210v1M1317.5 211v1M1318.5 212v2M1319.5 214v1M1320.5 215v1M1321.5 216v1M1322.5 217v2M1323.5 219v1M1324.5 220v1M1325.5 221v1M1326.5 222v2M1327.5 224v1M1328.5 225v1M1329.5 226v1M1330.5 227v2M1331.5 229v1M1332.5 230v1M1333.5 231v1M1334.5 232v1M1335.5 233v1M1336.5 234v2M1337.5 236v1M1338.5 237v1M1339.5 238v1M1340.5 239v1M1341.5 240v1M1342.5 241v1M1343.5 242v1M1344.5 243v2M1345.5 245v1M1346.5 246v1M1347.5 247v1M1348.5 248v1M1349.5 249v2M1350.5 251v2M1351.5 253v2M1352.5 255v1M1353.5 256v2M1354.5 258v2M1355.5 260v2M1356.5 262v1M1357.5 263v2M1358.5 265v2M1359.5 267v2M1360.5 269v1M1361.5 270v2M1362.5 272v2M1363.5 274v2M1364.5 276v1M1365.5 277v2M1366.5 279v1M1367.5 280v2M1368.5 282v1M1369.5 283v2M1370.5 285v1M1371.5 286v2M1372.5 288v1M1373.5 289v1M1374.5 290v1M1375.5 291v1M1376.5 292v2M1377.5 294v1M1378.5 295v1M1379.5 296v1M1380.5 297v1M1381.5 298v1M1382.5 299v1M1383.5 300v1M1384.5 301v2M1385.5 303v1M1386.5 304v1M1387.5 305v1M1388.5 306v1M1389.5 307v2M1390.5 309v2M1391.5 311v2M1392.5 313v2M1393.5 315v2M1394.5 317v2M1395.5 319v2M1396.5 321v2M1397.5 323v2M1398.5 325v2M1399.5 327v3M1400.5 330v2M1401.5 332v3M1402.5 335v2M1403.5 337v2M1404.5 339v2M1405.5 341v2M1406.5 343v1M1407.5 344v1M1408.5 345v2M1409.5 347v1M1410.5 348v1M1411.5 349v2M1412.5 351v1" stroke="#3CB371" stroke-width="1" fill="none"/><path d="M0.5 451v1M1.5 451v1M2.5 451v1M3.5 451v1M4.5 451v1M5.5 451v1M6.5 451v1M7.5 451v1M8.5 451v1M9.5 451v1M10.5 451v1M11.5 451v1M12.5 450v1M13.5 450v1M14.5 450v1M15.5 450v1M16.5 450v1M17.5 450v1M18.5 450v1M19.5 450v1M20.5 450v1M21.5 450v1M22.5 450v1M23.5 450v1M24.5 450v1M25.5 450v1M26.5 450v1M27.5 450v1M28.5 450v1M29.5 450v1M30.5 450v1M31.5 450v1M32.5 450v1M33.5 450v1M34.5 450v1M35.5 450v1M36.5 450v1M37.5 450v1M38.5 450v1M39.5 450v1M40.5 450v1M41.5 450v1M42.5 449v1M43.5 449v1M44.5 449v1M45.5 449v1M46.5 448v1M47.5 448v1M48.5 448v1M49.5 448v1M50.5 447v1M51.5 447v1M52.5 448v2M53.5 450v1M54.5 451v2M55.5 453v1M56.5 454v2M57.5 456v1M58.5 457v2M59.5 459v2M60.5 461v1M61.5 462v2M62.5 464v2M63.5 466v2M64.5 468v1M65.5 469v2M66.5 471v2M67.5 473v1M68.5 474v1M69.5 475v2M70.5 477v1M71.5 478v1M72.5 479v1M73.5 480v1M74.5 481v2M75.5 483v1M76.5 484v1M77.5 485v1M78.5 486v2M79.5 488v1M80.5 489v1M81.5 490v1M82.5 490v1M83.5 491v1M84.5 492v1M85.5 492v1M86.5 493v1M87.5 494v1M88.5 494v1M89.5 495v1M90.5 496v1M91.5 496v1M92.5 497v1M93.5 498v1M94.5 498v1M95.5 498v1M96.5 499v1M97.5 500v1M98.5 500v1M99.5 500v1M100.5 501v1M101.5 501v1M102.5 500v1M103.5 500v1M104.5 500v1M105.5 500v1M106.5 499v1M107.5 499v1M108.5 499v1M109.5 499v1M110.5 499v1M111.5 498v1M112.5 498v1M113.5 498v1M114.5 498v1M115.5 498v1M116.5 498v1M117.5 498v1M118.5 498v1M119.5 498v1M120.5 497v1M121.5 497v1M122.5 497v1M123.5 497v1M124.5 496v1M125.5 495v1M126.5 495v1M127.5 494v1M128.5 493v1M129.5 492v1M130.5 491v1M131.5 491v1M132.5 490v1M133.5 489v1M134.5 489v1M135.5 488v1M136.5 488v1M137.5 488v1M138.5 488v1M139.5 487v1M140.5 487v1M141.5 487v1M142.5 486v1M143.5 486v1M144.5 486v1M145.5 486v1M146.5 485v1M147.5 485v1M148.5 486v1M149.5 486v1M150.5 487v1M151.5 488v1M152.5 488v1M153.5 489v1M154.5 490v1M155.5 490v1M156.5 491v1M157.5 492v1M158.5 492v1M159.5 492v1M160.5 493v1M161.5 494v1M162.5 494v1M163.5 494v1M164.5 495v1M165.5 496v1M166.5 496v1M167.5 496v1M168.5 497v1M169.5 498v1M170.5 498v1M171.5 498v1M172.5 499v1M173.5 499v1M174.5 499v1M175.5 499v1M176.5 499v1M177.5 499v1M178.5 499v1M179.5 499v1M180.5 499v1M181.5 499v1M182.5 500v1M183.5 500v1M184.5 500v1M185.5 500v1M186.5 500v1M187.5 501v1M188.5 501v1M189.5 501v1M190.5 501v1M191.5 501v1M192.5 501v1M193.5 501v1M194.5 501v1M195.5 501v1M196.5 501v1M197.5 501v1M198.5 501v1M199.5 501v1M200.5 501v1M201.5 501v1M202.5 501v1M203.5 501v1M204.5 501v1M205.5 501v1M206.5 501v1M207.5 501v1M208.5 501v1M209.5 501v1M210.5 501v1M211.5 501v1M212.5 501v1M213.5 499v2M214.5 497v2M215.5 495v2M216.5 494v1M217.5 492v2M218.5 490v2M219.5 488v2M220.5 486v2M221.5 484v2M222.5 482v2M223.5 479v3M224.5 477v2M225.5 474v3M226.5 472v2M227.5 470v2M228.5 467v3M229.5 465v2M230.5 463v2M231.5 461v2M232.5 458v3M233.5 456v2M234.5 454v2M235.5 452v2M236.5 449v3M237.5 447v2M238.5 445v2M239.5 443v2M240.5 441v2M241.5 439v2M242.5 437v2M243.5 435v2M244.5 432v3M245.5 430v2M246.5 427v3M247.5 424v3M248.5 422v2M249.5 419v3M250.5 416v3M251.5 414v2M252.5 411v3M253.5 409v2M254.5 407v2M255.5 404v3M256.5 402v2M257.5 399v3M258.5 397v2M259.5 395v2M260.5 393v2M261.5 392v1M262.5 392v1M263.5 391v1M264.5 390v1M265.5 390v1M266.5 389v1M267.5 389v1M268.5 388v1M269.5 388v1M270.5 388v1M271.5 388v1M272.5 388v1M273.5 387v1M274.5 387v1M275.5 387v1M276.5 387v1M277.5 386v1M278.5 385v1M279.5 384v1M280.5 383v1M281.5 382v1M282.5 381v1M283.5 380v1M284.5 379v1M285.5 378v1M286.5 377v1M287.5 376v1M288.5 376v1M289.5 375v1M290.5 374v1M291.5 373v1M292.5 372v1M293.5 371v1M294.5 370v1M295.5 369v1M296.5 368v1M297.5 368v1M298.5 367v1M299.5 366v1M300.5 365v1M301.5 366v1M302.5 367v1M303.5 368v1M304.5 369v1M305.5 370v1M306.5 371v1M307.5 372v1M308.5 373v1M309.5 374v2M310.5 376v2M311.5 378v2M312.5 380v1M313.5 381v2M314.5 383v2M315.5 385v2M316.5 387v1M317.5 388v1M318.5 389v2M319.5 391v1M320.5 392v1M321.5 393v1M322.5 394v2M323.5 396v1M324.5 397v1M325.5 398v1M326.5 399v1M327.5 400v1M328.5 401v1M329.5 402v1M330.5 403v1M331.5 404v1M332.5 405v1M333.5 405v1M334.5 405v1M335.5 405v1M336.5 404v1M337.5 404v1M338.5 404v1M339.5 404v1M340.5 404v1M341.5 404v1M342.5 404v1M343.5 404v1M344.5 404v1M345.5 405v1M346.5 405v1M347.5 405v1M348.5 405v1M349.5 404v1M350.5 403v1M351.5 402v1M352.5 401v1M353.5 400v1M354.5 399v1M355.5 398v1M356.5 397v1M357.5 396v1M358.5 395v1M359.5 394v1M360.5 394v1M361.5 393v1M362.5 392v1M363.5 391v1M364.5 390v1M365.5 389v1M366.5 388v1M367.5 388v1M368.5 387v1M369.5 386v1M370.5 386v1M371.5 385v1M372.5 384v1M373.5 382v2M374.5 381v1M375.5 379v2M376.5 378v1M377.5 376v2M378.5 375v1M379.5 373v2M380.5 372v1M381.5 370v2M382.5 368v2M383.5 366v2M384.5 364v2M385.5 362v2M386.5 360v2M387.5 358v2M388.5 356v2M389.5 353v3M390.5 350v3M391.5 347v3M392.5 345v2M393.5 342v3M394.5 339v3M395.5 336v3M396.5 333v3M397.5 330v3M398.5 327v3M399.5 324v3M400.5 321v3M401.5 318v3M402.5 315v3M403.5 312v3M404.5 309v3M405.5 305v4M406.5 301v4M407.5 298v3M408.5 294v4M409.5 291v3M410.5 287v4M411.5 283v4M412.5 281v2M413.5 279v2M414.5 278v1M415.5 276v2M416.5 275v1M417.5 273v2M418.5 272v1M419.5 270v2M420.5 269v1M421.5 267v2M422.5 265v2M423.5 264v1M424.5 262v2M425.5 261v1M426.5 259v2M427.5 257v2M428.5 256v1M429.5 254v2M430.5 252v2M431.5 251v1M432.5 249v2M433.5 248v1M434.5 246v2M435.5 244v2M436.5 242v2M437.5 240v2M438.5 238v2M439.5 236v2M440.5 233v3M441.5 231v2M442.5 229v2M443.5 227v2M444.5 224v3M445.5 221v3M446.5 218v3M447.5 215v3M448.5 213v2M449.5 210v3M450.5 207v3M451.5 204v3M452.5 201v3M453.5 198v3M454.5 195v3M455.5 192v3M456.5 188v4M457.5 185v3M458.5 182v3M459.5 179v3M460.5 177v2M461.5 178v1M462.5 178v1M463.5 178v1M464.5 179v1M465.5 180v1M466.5 180v1M467.5 180v1M468.5 181v1M469.5 181v1M470.5 181v1M471.5 181v1M472.5 182v1M473.5 182v1M474.5 182v1M475.5 182v1M476.5 182v1M477.5 182v1M478.5 182v1M479.5 182v1M480.5 182v1M481.5 181v1M482.5 181v1M483.5 181v1M484.5 181v1M485.5 181v1M486.5 181v1M487.5 181v1M488.5 182v1M489.5 182v1M490.5 182v1M491.5 182v1M492.5 182v1M493.5 182v1M494.5 183v1M495.5 183v1M496.5 184v1M497.5 184v1M498.5 184v1M499.5 185v1M500.5 185v2M501.5 187v2M502.5 189v2M503.5 191v2M504.5 193v2M505.5 195v2M506.5 197v2M507.5 199v2M508.5 201v2M509.5 202v1M510.5 203v1M511.5 203v1M512.5 204v1M513.5 204v1M514.5 204v1M515.5 205v1M516.5 205v2M517.5 207v2M518.5 209v2M519.5 211v2M520.5 213v2M521.5 215v2M522.5 217v2M523.5 219v2M524.5 221v2M525.5 223v1M526.5 224v1M527.5 224v1M528.5 225v1M529.5 226v1M530.5 226v1M531.5 227v1M532.5 228v1M533.5 229v2M534.5 231v2M535.5 233v1M536.5 234v2M537.5 236v1M538.5 237v2M539.5 239v2M540.5 241v1M541.5 242v1M542.5 243v2M543.5 245v1M544.5 246v1M545.5 247v1M546.5 248v2M547.5 250v1M548.5 251v1M549.5 252v1M550.5 252v1M551.5 253v1M552.5 254v1M553.5 255v1M554.5 256v1M555.5 256v1M556.5 257v4M557.5 261v5M558.5 266v7M559.5 273v5M560.5 278v7M561.5 285v5M562.5 290v7M563.5 297v5M564.5 302v6M565.5 308v5M566.5 313v5M567.5 318v5M568.5 323v5M569.5 328v5M570.5 333v5M571.5 338v5M572.5 343v5M573.5 348v4M574.5 352v4M575.5 356v4M576.5 360v4M577.5 364v4M578.5 368v4M579.5 372v4M580.5 376v6M581.5 382v8M582.5 390v8M583.5 398v7M584.5 405v8M585.5 413v7M586.5 420v8M587.5 428v8M588.5 436v7M589.5 443v8M590.5 451v8M591.5 459v7M592.5 466v8M593.5 474v7M594.5 481v8M595.5 489v8M596.5 497v5M597.5 502v1M598.5 503v3M599.5 506v1M600.5 507v3M601.5 510v1M602.5 511v3M603.5 514v1M604.5 515v3M605.5 518v2M606.5 520v2M607.5 522v2M608.5 524v3M609.5 527v2M610.5 529v2M611.5 531v2M612.5 533v3M613.5 536v2M614.5 538v3M615.5 541v3M616.5 544v2M617.5 546v3M618.5 549v3M619.5 552v2M620.5 554v2M621.5 556v1M622.5 557v1M623.5 558v1M624.5 559v1M625.5 560v1M626.5 561v1M627.5 562v1M628.5 563v2M629.5 565v2M630.5 567v2M631.5 569v2M632.5 571v3M633.5 574v2M634.5 576v2M635.5 578v2M636.5 580v2M637.5 582v2M638.5 584v2M639.5 586v1M653.5 586v1M654.5 585v1M655.5 584v1M656.5 584v1M657.5 583v1M658.5 582v1M659.5 581v1M660.5 580v1M661.5 580v1M662.5 579v1M663.5 579v1M664.5 578v1M665.5 578v1M666.5 578v1M667.5 577v1M668.5 577v1M669.5 576v1M670.5 576v1M671.5 575v1M672.5 574v1M673.5 574v1M674.5 573v1M675.5 573v1M676.5 572v1M677.5 572v1M678.5 572v1M679.5 572v1M680.5 572v1M681.5 573v1M682.5 573v1M683.5 573v1M684.5 573v1M685.5 572v1M686.5 572v1M687.5 571v1M688.5 570v1M689.5 570v1M690.5 569v1M691.5 569v1M692.5 568v1M693.5 568v1M694.5 568v1M695.5 568v1M696.5 568v1M697.5 569v1M698.5 569v1M699.5 569v1M700.5 569v1M701.5 570v1M702.5 571v1M703.5 572v1M704.5 572v1M705.5 573v1M706.5 574v1M707.5 575v1M708.5 576v1M709.5 576v1M710.5 576v1M711.5 577v1M712.5 577v1M713.5 577v1M714.5 578v1M715.5 578v1M716.5 578v1M717.5 579v1M718.5 580v1M719.5 580v1M720.5 581v1M721.5 582v1M722.5 582v1M723.5 583v1M724.5 584v1M725.5 584v1M726.5 584v1M727.5 584v1M728.5 584v1M729.5 585v1M730.5 585v1M731.5 585v1M732.5 585v1M733.5 585v1M734.5 585v1M735.5 585v1M736.5 584v1M737.5 584v1M738.5 584v1M739.5 584v1M740.5 583v2M741.5 580v3M742.5 577v3M743.5 574v3M744.5 572v2M745.5 569v3M746.5 566v3M747.5 563v3M748.5 559v4M749.5 554v5M750.5 549v5M751.5 544v5M752.5 539v5M753.5 534v5M754.5 529v5M755.5 524v5M756.5 521v3M757.5 519v2M758.5 518v1M759.5 517v1M760.5 515v2M761.5 514v1M762.5 513v1M763.5 511v2M764.5 509v2M765.5 508v1M766.5 505v3M767.5 504v1M768.5 501v3M769.5 500v1M770.5 497v3M771.5 496v1M772.5 493v3M773.5 490v3M774.5 487v3M775.5 484v3M776.5 480v4M777.5 477v3M778.5 474v3M779.5 471v3M780.5 468v3M781.5 464v4M782.5 461v3M783.5 457v4M784.5 454v3M785.5 450v4M786.5 447v3M787.5 443v4M788.5 438v5M789.5 431v7M790.5 423v8M791.5 416v7M792.5 409v7M793.5 402v7M794.5 394v8M795.5 387v7M796.5 379v8M797.5 370v9M798.5 361v9M799.5 352v9M800.5 344v8M801.5 335v9M802.5 326v9M803.5 317v9M804.5 311v6M805.5 310v1M806.5 307v3M807.5 306v1M808.5 303v3M809.5 302v1M810.5 299v3M811.5 298v1M812.5 295v3M813.5 293v2M814.5 291v2M815.5 289v2M816.5 286v3M817.5 284v2M818.5 282v2M819.5 280v2M820.5 277v3M821.5 274v3M822.5 271v3M823.5 268v3M824.5 264v4M825.5 261v3M826.5 258v3M827.5 255v3M828.5 252v3M829.5 249v3M830.5 245v4M831.5 242v3M832.5 239v3M833.5 236v3M834.5 232v4M835.5 229v3M836.5 227v2M837.5 226v1M838.5 225v1M839.5 224v1M840.5 222v2M841.5 221v1M842.5 220v1M843.5 219v1M844.5 217v2M845.5 215v2M846.5 213v2M847.5 211v2M848.5 209v2M849.5 207v2M850.5 205v2M851.5 203v2M852.5 201v2M853.5 202v1M854.5 203v2M855.5 205v1M856.5 206v1M857.5 207v1M858.5 208v2M859.5 210v1M860.5 211v2M861.5 213v2M862.5 215v2M863.5 217v2M864.5 219v2M865.5 221v2M866.5 223v2M867.5 225v2M868.5 227v2M869.5 229v1M870.5 230v1M871.5 230v1M872.5 231v1M873.5 232v1M874.5 232v1M875.5 233v1M876.5 234v1M877.5 234v1M878.5 234v1M879.5 235v1M880.5 235v1M881.5 235v1M882.5 236v1M883.5 236v1M884.5 236v1M885.5 237v1M886.5 237v1M887.5 238v1M888.5 238v1M889.5 239v1M890.5 240v1M891.5 240v1M892.5 241v1M893.5 241v1M894.5 241v1M895.5 241v1M896.5 241v1M897.5 241v1M898.5 241v1M899.5 241v1M900.5 241v1M901.5 241v1M902.5 241v1M903.5 241v1M904.5 242v1M905.5 242v1M906.5 242v1M907.5 242v1M908.5 242v1M909.5 242v1M910.5 242v1M911.5 242v1M912.5 242v1M913.5 243v1M914.5 243v1M915.5 243v1M916.5 243v1M917.5 243v1M918.5 244v1M919.5 244v1M920.5 244v1M921.5 244v1M922.5 244v1M923.5 245v1M924.5 245v1M925.5 245v1M926.5 245v1M927.5 245v1M928.5 245v1M929.5 245v1M930.5 245v1M931.5 245v1M932.5 245v1M933.5 245v1M934.5 244v1M935.5 244v1M936.5 244v1M937.5 244v1M938.5 244v1M939.5 243v1M940.5 243v1M941.5 243v1M942.5 243v1M943.5 243v1M944.5 242v1M945.5 242v1M946.5 242v1M947.5 242v1M948.5 242v1M949.5 242v1M950.5 242v1M951.5 242v1M952.5 242v1M953.5 242v1M954.5 242v1M955.5 242v1M956.5 242v1M957.5 242v1M958.5 242v1M959.5 242v1M960.5 242v1M961.5 242v1M962.5 242v1M963.5 242v1M964.5 242v1M965.5 242v1M966.5 242v1M967.5 242v1M968.5 242v1M969.5 242v1M970.5 242v1M971.5 242v1M972.5 242v1M973.5 242v1M974.5 242v1M975.5 242v1M976.5 242v1M977.5 242v1M978.5 242v1M979.5 242v1M980.5 242v1M981.5 242v1M982.5 242v1M983.5 242v1M984.5 242v1M985.5 242v1M986.5 242v1M987.5 242v1M988.5 242v1M989.5 242v1M990.5 242v1M991.5 242v1M992.5 242v1M993.5 242v1M994.5 242v1M995.5 242v1M996.5 242v1M997.5 242v1M998.5 242v1M999.5 242v1M1000.5 242v1M1001.5 242v1M1002.5 242v1M1003.5 242v1M1004.5 242v1M1005.5 242v1M1006.5 242v1M1007.5 241v1M1008.5 241v1M1009.5 241v1M1010.5 240v1M1011.5 240v1M1012.5 239v2M1013.5 237v2M1014.5 235v2M1015.5 233v2M1016.5 231v2M1017.5 229v2M1018.5 227v2M1019.5 225v2M1020.5 222v3M1021.5 220v2M1022.5 217v3M1023.5 214v3M1024.5 212v2M1025.5 209v3M1026.5 206v3M1027.5 204v2M1028.5 202v2M1029.5 200v2M1030.5 198v2M1031.5 196v2M1032.5 195v1M1033.5 193v2M1034.5 191v2M1035.5 189v2M1036.5 188v1M1037.5 187v1M1038.5 185v2M1039.5 184v1M1040.5 183v1M1041.5 182v1M1042.5 180v2M1043.5 179v1M1044.5 178v1M1045.5 176v2M1046.5 174v2M1047.5 172v2M1048.5 171v1M1049.5 169v2M1050.5 167v2M1051.5 165v2M1052.5 164v1M1053.5 165v1M1054.5 166v1M1055.5 167v1M1056.5 168v1M1057.5 169v1M1058.5 170v1M1059.5 171v1M1060.5 172v1M1061.5 173v1M1062.5 174v1M1063.5 175v1M1064.5 176v1M1065.5 177v1M1066.5 178v1M1067.5 179v1M1068.5 180v1M1069.5 181v2M1070.5 183v1M1071.5 184v2M1072.5 186v1M1073.5 187v2M1074.5 189v1M1075.5 190v2M1076.5 192v1M1077.5 192v1M1078.5 192v1M1079.5 193v1M1080.5 193v1M1081.5 193v1M1082.5 194v1M1083.5 194v1M1084.5 194v1M1085.5 194v1M1086.5 194v1M1087.5 195v1M1088.5 195v1M1089.5 195v1M1090.5 196v1M1091.5 196v1M1092.5 196v1M1093.5 196v1M1094.5 196v1M1095.5 196v1M1096.5 196v1M1097.5 196v1M1098.5 196v1M1099.5 196v1M1100.5 196v1M1101.5 196v1M1102.5 196v1M1103.5 196v1M1104.5 196v1M1105.5 196v1M1106.5 196v1M1107.5 196v1M1108.5 196v1M1109.5 196v1M1110.5 196v1M1111.5 196v1M1112.5 196v1M1113.5 196v1M1114.5 196v1M1115.5 196v1M1116.5 196v1M1117.5 196v1M1118.5 196v1M1119.5 196v1M1120.5 196v1M1121.5 196v1M1122.5 196v1M1123.5 196v1M1124.5 196v1M1125.5 196v1M1126.5 196v1M1127.5 196v1M1128.5 196v1M1129.5 196v1M1130.5 196v1M1131.5 196v1M1132.5 196v1M1133.5 196v1M1134.5 196v1M1135.5 196v1M1136.5 196v1M1137.5 196v1M1138.5 196v1M1139.5 196v1M1140.5 196v1M1141.5 196v1M1142.5 197v1M1143.5 198v1M1144.5 198v1M1145.5 198v1M1146.5 199v1M1147.5 200v1M1148.5 200v1M1149.5 200v1M1150.5 200v1M1151.5 200v1M1152.5 200v1M1153.5 199v1M1154.5 199v1M1155.5 199v1M1156.5 199v1M1157.5 199v1M1158.5 200v1M1159.5 200v1M1160.5 200v1M1161.5 200v1M1162.5 200v1M1163.5 201v1M1164.5 201v1M1165.5 201v1M1166.5 202v1M1167.5 202v1M1168.5 202v1M1169.5 203v1M1170.5 203v1M1171.5 204v1M1172.5 204v1M1173.5 204v1M1174.5 204v1M1175.5 204v1M1176.5 204v1M1177.5 205v1M1178.5 205v1M1179.5 205v1M1180.5 205v1M1181.5 205v1M1182.5 205v1M1183.5 205v1M1184.5 205v1M1185.5 205v1M1186.5 205v1M1187.5 205v1M1188.5 205v1M1189.5 205v1M1190.5 204v1M1191.5 204v1M1192.5 204v1M1193.5 204v1M1194.5 204v1M1195.5 203v1M1196.5 203v1M1197.5 203v1M1198.5 203v1M1199.5 203v1M1200.5 202v1M1201.5 202v1M1202.5 202v1M1203.5 202v1M1204.5 202v1M1205.5 202v1M1206.5 201v1M1207.5 201v1M1208.5 200v1M1209.5 200v1M1210.5 200v1M1211.5 199v1M1212.5 199v1M1213.5 198v1M1214.5 198v1M1215.5 197v1M1216.5 196v1M1217.5 196v1M1218.5 195v1M1219.5 195v1M1220.5 194v1M1221.5 193v1M1222.5 192v1M1223.5 192v1M1224.5 191v1M1225.5 190v1M1226.5 190v1M1227.5 189v1M1228.5 188v1M1229.5 186v2M1230.5 184v2M1231.5 182v2M1232.5 181v1M1233.5 179v2M1234.5 177v2M1235.5 175v2M1236.5 174v1M1237.5 174v1M1238.5 173v1M1239.5 173v1M1240.5 172v1M1241.5 172v1M1242.5 172v1M1243.5 171v1M1244.5 171v3M1245.5 174v5M1246.5 179v6M1247.5 185v5M1248.5 190v5M1249.5 195v5M1250.5 200v6M1251.5 206v5M1252.5 211v4M1253.5 215v4M1254.5 219v4M1255.5 223v4M1256.5 227v3M1257.5 230v4M1258.5 234v4M1259.5 238v4M1260.5 242v3M1261.5 245v4M1262.5 249v4M1263.5 253v4M1264.5 257v3M1265.5 260v4M1266.5 264v4M1267.5 268v4M1268.5 272v3M1269.5 275v2M1270.5 277v3M1271.5 280v2M1272.5 282v3M1273.5 285v2M1274.5 287v3M1275.5 290v2M1276.5 292v4M1277.5 296v4M1278.5 300v4M1279.5 304v4M1280.5 308v4M1281.5 312v4M1282.5 316v4M1283.5 320v4M1284.5 324v3M1285.5 327v2M1286.5 329v2M1287.5 331v2M1288.5 333v1M1289.5 334v2M1290.5 336v2M1291.5 338v2M1292.5 340v2M1293.5 342v3M1294.5 345v3M1295.5 348v3M1296.5 351v4M1297.5 355v3M1298.5 358v3M1299.5 361v3M1300.5 364v2M1301.5 366v2M1302.5 368v2M1303.5 370v2M1304.5 372v2M1305.5 374v2M1306.5 376v2M1307.5 378v2M1308.5 380v2M1309.5 382v1M1310.5 383v3M1311.5 386v1M1312.5 387v3M1313.5 390v1M1314.5 391v3M1315.5 394v1M1316.5 395v3M1317.5 398v2M1318.5 400v3M1319.5 403v2M1320.5 405v3M1321.5 408v2M1322.5 410v3M1323.5 413v2M1324.5 415v3M1325.5 418v2M1326.5 420v3M1327.5 423v2M1328.5 425v3M1329.5 428v2M1330.5 430v3M1331.5 433v2M1332.5 435v2M1333.5 437v1M1334.5 438v1M1335.5 439v1M1336.5 440v2M1337.5 442v1M1338.5 443v1M1339.5 444v1M1340.5 445v1M1341.5 445v1M1342.5 446v1M1343.5 446v1M1344.5 446v1M1345.5 446v1M1346.5 446v1M1347.5 447v1M1348.5 447v1M1349.5 448v2M1350.5 450v1M1351.5 451v2M1352.5 453v1M1353.5 454v2M1354.5 456v1M1355.5 457v2M1356.5 459v1M1357.5 460v1M1358.5 461v1M1359.5 462v1M1360.5 463v1M1361.5 464v1M1362.5 465v1M1363.5 466v1M1364.5 467v1M1365.5 466v1M1366.5 466v1M1367.5 466v1M1368.5 465v1M1369.5 464v1M1370.5 464v1M1371.5 464v1M1372.5 463v1M1373.5 462v1M1374.5 461v1M1375.5 460v1M1376.5 460v1M1377.5 459v1M1378.5 458v1M1379.5 457v1M1380.5 456v1M1381.5 454v2M1382.5 452v2M1383.5 451v1M1384.5 449v2M1385.5 448v1M1386.5 446v2M1387.5 444v2M1388.5 443v1M1389.5 443v1M1390.5 442v1M1391.5 442v1M1392.5 442v1M1393.5 442v1M1394.5 442v1M1395.5 441v1M1396.5 441v1M1397.5 442v2M1398.5 444v2M1399.5 446v2M1400.5 448v1M1401.5 449v2M1402.5 451v2M1403.5 453v2M1404.5 455v2M1405.5 457v4M1406.5 461v3M1407.5 464v4M1408.5 468v3M1409.5 471v4M1410.5 475v3M1411.5 478v4M1412.5 482v2" stroke="#3CB371" stroke-width="1" fill="none"/></g>
<g id="hl"><rect x="0" y="426" width="1653" height="1" fill="#ff0000" /><rect x="0" y="456" width="1653" height="1" fill="#ff0000" /><rect x="0" y="481" width="1653" height="1" fill="#32cd32" /><rect x="0" y="534" width="1653" height="1" fill="#0000ff" /><rect x="0" y="563" width="1653" height="1" fill="#0000ff" /><rect x="0" y="502" width="1653" height="1" fill="#c0c0c0" /></g>
<g id="cand" fill="#000"><rect x="3" y="373" width="1" height="31"/><rect x="1" y="380" width="5" height="8"/><rect x="2" y="381" width="3" height="6" fill="#fff"/><rect x="11" y="349" width="1" height="171"/><rect x="9" y="367" width="5" height="12"/><rect x="10" y="368" width="3" height="10" fill="#fff"/><rect x="19" y="317" width="1" height="76"/><rect x="17" y="318" width="5" height="49"/><rect x="18" y="319" width="3" height="47" fill="#fff"/><rect x="27" y="318" width="1" height="32"/><rect x="25" y="319" width="5" height="27"/><rect x="35" y="328" width="1" height="29"/><rect x="33" y="338" width="5" height="7"/><rect x="34" y="339" width="3" height="5" fill="#fff"/><rect x="43" y="320" width="1" height="34"/><rect x="41" y="338" width="5" height="15"/><rect x="51" y="329" width="1" height="36"/><rect x="49" y="351" width="5" height="11"/><rect x="59" y="357" width="1" height="127"/><rect x="57" y="362" width="5" height="101"/><rect x="67" y="441" width="1" height="41"/><rect x="65" y="463" width="5" height="16"/><rect x="75" y="456" width="1" height="27"/><rect x="73" y="462" width="5" height="16"/><rect x="74" y="463" width="3" height="14" fill="#fff"/><rect x="83" y="431" width="1" height="33"/><rect x="81" y="446" width="5" height="16"/><rect x="82" y="447" width="3" height="14" fill="#fff"/><rect x="91" y="438" width="1" height="50"/><rect x="89" y="446" width="5" height="5"/><rect x="99" y="426" width="1" height="50"/><rect x="97" y="444" width="5" height="6"/><rect x="98" y="445" width="3" height="4" fill="#fff"/><rect x="107" y="375" width="1" height="80"/><rect x="105" y="381" width="5" height="64"/><rect x="106" y="382" width="3" height="62" fill="#fff"/><rect x="115" y="346" width="1" height="56"/><rect x="113" y="347" width="5" height="34"/><rect x="114" y="348" width="3" height="32" fill="#fff"/><rect x="123" y="347" width="1" height="28"/><rect x="121" y="347" width="5" height="28"/><rect x="131" y="362" width="1" height="18"/><rect x="129" y="362" width="5" height="13"/><rect x="130" y="363" width="3" height="11" fill="#fff"/><rect x="139" y="347" width="1" height="23"/><rect x="137" y="358" width="5" height="6"/><rect x="138" y="359" width="3" height="4" fill="#fff"/><rect x="147" y="326" width="1" height="41"/><rect x="145" y="338" width="5" height="21"/><rect x="146" y="339" width="3" height="19" fill="#fff"/><rect x="155" y="253" width="1" height="97"/><rect x="153" y="278" width="5" height="61"/><rect x="154" y="279" width="3" height="59" fill="#fff"/><rect x="163" y="263" width="1" height="38"/><rect x="161" y="276" width="5" height="3"/><rect x="162" y="277" width="3" height="1" fill="#fff"/><rect x="171" y="267" width="1" height="15"/><rect x="169" y="270" width="5" height="7"/><rect x="170" y="271" width="3" height="5" fill="#fff"/><rect x="179" y="284" width="1" height="43"/><rect x="177" y="284" width="5" height="36"/><rect x="187" y="289" width="1" height="42"/><rect x="185" y="297" width="5" height="23"/><rect x="186" y="298" width="3" height="21" fill="#fff"/><rect x="195" y="282" width="1" height="40"/><rect x="193" y="298" width="5" height="17"/><rect x="203" y="308" width="1" height="31"/><rect x="201" y="313" width="5" height="9"/><rect x="211" y="276" width="1" height="76"/><rect x="209" y="300" width="5" height="21"/><rect x="210" y="301" width="3" height="19" fill="#fff"/><rect x="219" y="292" width="1" height="39"/><rect x="217" y="300" width="5" height="22"/><rect x="227" y="308" width="1" height="26"/><rect x="225" y="321" width="5" height="5"/><rect x="235" y="309" width="1" height="50"/><rect x="233" y="325" width="5" height="27"/><rect x="243" y="318" width="1" height="37"/><rect x="241" y="331" width="5" height="21"/><rect x="242" y="332" width="3" height="19" fill="#fff"/><rect x="251" y="324" width="1" height="16"/><rect x="249" y="330" width="5" height="3"/><rect x="250" y="331" width="3" height="1" fill="#fff"/><rect x="259" y="238" width="1" height="99"/><rect x="257" y="247" width="5" height="83"/><rect x="258" y="248" width="3" height="81" fill="#fff"/><rect x="267" y="233" width="1" height="30"/><rect x="265" y="243" width="5" height="5"/><rect x="266" y="244" width="3" height="3" fill="#fff"/><rect x="275" y="238" width="1" height="20"/><rect x="273" y="244" width="5" height="4"/><rect x="283" y="237" width="1" height="26"/><rect x="281" y="246" width="5" height="7"/><rect x="291" y="237" width="1" height="32"/><rect x="289" y="252" width="5" height="7"/><rect x="299" y="226" width="1" height="33"/><rect x="297" y="239" width="5" height="20"/><rect x="298" y="240" width="3" height="18" fill="#fff"/><rect x="307" y="128" width="1" height="117"/><rect x="305" y="161" width="5" height="80"/><rect x="306" y="162" width="3" height="78" fill="#fff"/><rect x="315" y="124" width="1" height="38"/><rect x="313" y="135" width="5" height="27"/><rect x="314" y="136" width="3" height="25" fill="#fff"/><rect x="323" y="126" width="1" height="13"/><rect x="321" y="132" width="5" height="3"/><rect x="322" y="133" width="3" height="1" fill="#fff"/><rect x="331" y="121" width="1" height="19"/><rect x="329" y="125" width="5" height="9"/><rect x="330" y="126" width="3" height="7" fill="#fff"/><rect x="339" y="122" width="1" height="28"/><rect x="337" y="125" width="5" height="1"/><rect x="347" y="108" width="1" height="24"/><rect x="345" y="116" width="5" height="9"/><rect x="346" y="117" width="3" height="7" fill="#fff"/><rect x="355" y="108" width="1" height="87"/><rect x="353" y="115" width="5" height="61"/><rect x="363" y="118" width="1" height="58"/><rect x="361" y="120" width="5" height="56"/><rect x="362" y="121" width="3" height="54" fill="#fff"/><rect x="371" y="102" width="1" height="29"/><rect x="369" y="119" width="5" height="5"/><rect x="370" y="120" width="3" height="3" fill="#fff"/><rect x="379" y="110" width="1" height="16"/><rect x="377" y="117" width="5" height="2"/><rect x="387" y="100" width="1" height="22"/><rect x="385" y="105" width="5" height="15"/><rect x="386" y="106" width="3" height="13" fill="#fff"/><rect x="395" y="87" width="1" height="24"/><rect x="393" y="94" width="5" height="12"/><rect x="394" y="95" width="3" height="10" fill="#fff"/><rect x="403" y="62" width="1" height="63"/><rect x="401" y="94" width="5" height="5"/><rect x="411" y="94" width="1" height="38"/><rect x="409" y="97" width="5" height="15"/><rect x="419" y="108" width="1" height="14"/><rect x="417" y="109" width="5" height="9"/><rect x="427" y="133" width="1" height="8"/><rect x="425" y="133" width="5" height="2"/><rect x="435" y="131" width="1" height="57"/><rect x="433" y="134" width="5" height="42"/><rect x="443" y="142" width="1" height="56"/><rect x="441" y="146" width="5" height="31"/><rect x="442" y="147" width="3" height="29" fill="#fff"/><rect x="451" y="134" width="1" height="69"/><rect x="449" y="147" width="5" height="17"/><rect x="459" y="137" width="1" height="111"/><rect x="457" y="145" width="5" height="19"/><rect x="458" y="146" width="3" height="17" fill="#fff"/><rect x="467" y="51" width="1" height="95"/><rect x="465" y="54" width="5" height="92"/><rect x="466" y="55" width="3" height="90" fill="#fff"/><rect x="475" y="48" width="1" height="28"/><rect x="473" y="56" width="5" height="14"/><rect x="483" y="67" width="1" height="39"/><rect x="481" y="70" width="5" height="33"/><rect x="491" y="96" width="1" height="81"/><rect x="489" y="103" width="5" height="32"/><rect x="499" y="112" width="1" height="64"/><rect x="497" y="134" width="5" height="20"/><rect x="507" y="130" width="1" height="107"/><rect x="505" y="153" width="5" height="63"/><rect x="515" y="189" width="1" height="116"/><rect x="513" y="189" width="5" height="27"/><rect x="514" y="190" width="3" height="25" fill="#fff"/><rect x="523" y="188" width="1" height="44"/><rect x="521" y="192" width="5" height="39"/><rect x="531" y="182" width="1" height="54"/><rect x="529" y="187" width="5" height="43"/><rect x="530" y="188" width="3" height="41" fill="#fff"/><rect x="539" y="178" width="1" height="56"/><rect x="537" y="187" width="5" height="39"/><rect x="547" y="205" width="1" height="41"/><rect x="545" y="223" width="5" height="4"/><rect x="546" y="224" width="3" height="2" fill="#fff"/><rect x="555" y="178" width="1" height="88"/><rect x="553" y="209" width="5" height="15"/><rect x="554" y="210" width="3" height="13" fill="#fff"/><rect x="563" y="186" width="1" height="198"/><rect x="561" y="209" width="5" height="164"/><rect x="571" y="363" width="1" height="61"/><rect x="569" y="372" width="5" height="14"/><rect x="579" y="354" width="1" height="47"/><rect x="577" y="383" width="5" height="4"/><rect x="578" y="384" width="3" height="2" fill="#fff"/><rect x="587" y="379" width="1" height="152"/><rect x="585" y="383" width="5" height="124"/><rect x="595" y="476" width="1" height="98"/><rect x="593" y="505" width="5" height="47"/><rect x="603" y="360" width="1" height="212"/><rect x="601" y="380" width="5" height="168"/><rect x="602" y="381" width="3" height="166" fill="#fff"/><rect x="611" y="355" width="1" height="147"/><rect x="609" y="380" width="5" height="25"/><rect x="619" y="383" width="1" height="63"/><rect x="617" y="406" width="5" height="32"/><rect x="627" y="388" width="1" height="84"/><rect x="625" y="429" width="5" height="8"/><rect x="626" y="430" width="3" height="6" fill="#fff"/><rect x="635" y="426" width="1" height="110"/><rect x="633" y="428" width="5" height="81"/><rect x="643" y="455" width="1" height="66"/><rect x="641" y="492" width="5" height="16"/><rect x="642" y="493" width="3" height="14" fill="#fff"/><rect x="651" y="301" width="1" height="196"/><rect x="649" y="301" width="5" height="191"/><rect x="650" y="302" width="3" height="189" fill="#fff"/><rect x="659" y="262" width="1" height="63"/><rect x="657" y="294" width="5" height="7"/><rect x="658" y="295" width="3" height="5" fill="#fff"/><rect x="667" y="291" width="1" height="20"/><rect x="665" y="292" width="5" height="13"/><rect x="675" y="275" width="1" height="22"/><rect x="673" y="286" width="5" height="2"/><rect x="683" y="215" width="1" height="75"/><rect x="681" y="224" width="5" height="65"/><rect x="682" y="225" width="3" height="63" fill="#fff"/><rect x="691" y="212" width="1" height="45"/><rect x="689" y="224" width="5" height="21"/><rect x="699" y="205" width="1" height="56"/><rect x="697" y="212" width="5" height="34"/><rect x="698" y="213" width="3" height="32" fill="#fff"/><rect x="707" y="143" width="1" height="77"/><rect x="705" y="158" width="5" height="54"/><rect x="706" y="159" width="3" height="52" fill="#fff"/><rect x="715" y="134" width="1" height="49"/><rect x="713" y="158" width="5" height="23"/><rect x="723" y="146" width="1" height="35"/><rect x="721" y="147" width="5" height="30"/><rect x="722" y="148" width="3" height="28" fill="#fff"/><rect x="731" y="137" width="1" height="17"/><rect x="729" y="146" width="5" height="1"/><rect x="739" y="120" width="1" height="37"/><rect x="737" y="147" width="5" height="5"/><rect x="747" y="137" width="1" height="39"/><rect x="745" y="151" width="5" height="4"/><rect x="755" y="134" width="1" height="41"/><rect x="753" y="155" width="5" height="5"/><rect x="763" y="126" width="1" height="43"/><rect x="761" y="160" width="5" height="4"/><rect x="771" y="153" width="1" height="18"/><rect x="769" y="162" width="5" height="2"/><rect x="779" y="146" width="1" height="49"/><rect x="777" y="163" width="5" height="23"/><rect x="787" y="156" width="1" height="38"/><rect x="785" y="167" width="5" height="19"/><rect x="786" y="168" width="3" height="17" fill="#fff"/><rect x="795" y="150" width="1" height="25"/><rect x="793" y="160" width="5" height="6"/><rect x="794" y="161" width="3" height="4" fill="#fff"/><rect x="803" y="107" width="1" height="101"/><rect x="801" y="111" width="5" height="51"/><rect x="802" y="112" width="3" height="49" fill="#fff"/><rect x="811" y="99" width="1" height="53"/><rect x="809" y="110" width="5" height="35"/><rect x="819" y="120" width="1" height="23"/><rect x="817" y="134" width="5" height="9"/><rect x="818" y="135" width="3" height="7" fill="#fff"/><rect x="827" y="132" width="1" height="38"/><rect x="825" y="133" width="5" height="26"/><rect x="835" y="133" width="1" height="45"/><rect x="833" y="140" width="5" height="18"/><rect x="834" y="141" width="3" height="16" fill="#fff"/><rect x="843" y="118" width="1" height="41"/><rect x="841" y="121" width="5" height="19"/><rect x="842" y="122" width="3" height="17" fill="#fff"/><rect x="851" y="101" width="1" height="115"/><rect x="849" y="120" width="5" height="61"/><rect x="859" y="162" width="1" height="86"/><rect x="857" y="181" width="5" height="62"/><rect x="867" y="221" width="1" height="30"/><rect x="865" y="243" width="5" height="3"/><rect x="875" y="199" width="1" height="65"/><rect x="873" y="217" width="5" height="29"/><rect x="874" y="218" width="3" height="27" fill="#fff"/><rect x="883" y="172" width="1" height="50"/><rect x="881" y="188" width="5" height="29"/><rect x="882" y="189" width="3" height="27" fill="#fff"/><rect x="891" y="184" width="1" height="39"/><rect x="889" y="186" width="5" height="24"/><rect x="899" y="115" width="1" height="103"/><rect x="897" y="128" width="5" height="82"/><rect x="898" y="129" width="3" height="80" fill="#fff"/><rect x="907" y="108" width="1" height="30"/><rect x="905" y="122" width="5" height="7"/><rect x="906" y="123" width="3" height="5" fill="#fff"/><rect x="915" y="115" width="1" height="16"/><rect x="913" y="118" width="5" height="12"/><rect x="923" y="89" width="1" height="25"/><rect x="921" y="101" width="5" height="11"/><rect x="922" y="102" width="3" height="9" fill="#fff"/><rect x="931" y="94" width="1" height="46"/><rect x="929" y="100" width="5" height="8"/><rect x="939" y="104" width="1" height="17"/><rect x="937" y="106" width="5" height="4"/><rect x="947" y="104" width="1" height="14"/><rect x="945" y="109" width="5" height="2"/><rect x="955" y="90" width="1" height="68"/><rect x="953" y="99" width="5" height="11"/><rect x="954" y="100" width="3" height="9" fill="#fff"/><rect x="963" y="94" width="1" height="54"/><rect x="961" y="98" width="5" height="50"/><rect x="971" y="121" width="1" height="28"/><rect x="969" y="136" width="5" height="10"/><rect x="970" y="137" width="3" height="8" fill="#fff"/><rect x="979" y="117" width="1" height="31"/><rect x="977" y="122" width="5" height="16"/><rect x="978" y="123" width="3" height="14" fill="#fff"/><rect x="987" y="80" width="1" height="45"/><rect x="985" y="103" width="5" height="19"/><rect x="986" y="104" width="3" height="17" fill="#fff"/><rect x="995" y="102" width="1" height="56"/><rect x="993" y="104" width="5" height="52"/><rect x="1003" y="110" width="1" height="83"/><rect x="1001" y="118" width="5" height="38"/><rect x="1002" y="119" width="3" height="36" fill="#fff"/><rect x="1011" y="110" width="1" height="65"/><rect x="1009" y="119" width="5" height="33"/><rect x="1019" y="122" width="1" height="33"/><rect x="1017" y="122" width="5" height="29"/><rect x="1018" y="123" width="3" height="27" fill="#fff"/><rect x="1027" y="96" width="1" height="41"/><rect x="1025" y="106" width="5" height="16"/><rect x="1026" y="107" width="3" height="14" fill="#fff"/><rect x="1035" y="73" width="1" height="37"/><rect x="1033" y="79" width="5" height="28"/><rect x="1034" y="80" width="3" height="26" fill="#fff"/><rect x="1043" y="74" width="1" height="33"/><rect x="1041" y="80" width="5" height="13"/><rect x="1051" y="86" width="1" height="102"/><rect x="1049" y="93" width="5" height="73"/><rect x="1059" y="134" width="1" height="51"/><rect x="1057" y="165" width="5" height="10"/><rect x="1067" y="167" width="1" height="18"/><rect x="1065" y="173" width="5" height="4"/><rect x="1075" y="166" width="1" height="46"/><rect x="1073" y="177" width="5" height="22"/><rect x="1083" y="152" width="1" height="47"/><rect x="1081" y="152" width="5" height="47"/><rect x="1082" y="153" width="3" height="45" fill="#fff"/><rect x="1091" y="138" width="1" height="19"/><rect x="1089" y="147" width="5" height="7"/><rect x="1090" y="148" width="3" height="5" fill="#fff"/><rect x="1099" y="91" width="1" height="59"/><rect x="1097" y="97" width="5" height="51"/><rect x="1098" y="98" width="3" height="49" fill="#fff"/><rect x="1107" y="94" width="1" height="61"/><rect x="1105" y="98" width="5" height="10"/><rect x="1115" y="100" width="1" height="19"/><rect x="1113" y="108" width="5" height="7"/><rect x="1123" y="70" width="1" height="47"/><rect x="1121" y="81" width="5" height="31"/><rect x="1122" y="82" width="3" height="29" fill="#fff"/><rect x="1131" y="69" width="1" height="36"/><rect x="1129" y="81" width="5" height="4"/><rect x="1139" y="76" width="1" height="19"/><rect x="1137" y="83" width="5" height="11"/><rect x="1147" y="79" width="1" height="120"/><rect x="1145" y="92" width="5" height="67"/><rect x="1155" y="119" width="1" height="45"/><rect x="1153" y="145" width="5" height="14"/><rect x="1154" y="146" width="3" height="12" fill="#fff"/><rect x="1163" y="144" width="1" height="11"/><rect x="1161" y="146" width="5" height="7"/><rect x="1171" y="160" width="1" height="15"/><rect x="1169" y="161" width="5" height="11"/><rect x="1179" y="144" width="1" height="47"/><rect x="1177" y="146" width="5" height="26"/><rect x="1178" y="147" width="3" height="24" fill="#fff"/><rect x="1187" y="108" width="1" height="47"/><rect x="1185" y="117" width="5" height="29"/><rect x="1186" y="118" width="3" height="27" fill="#fff"/><rect x="1195" y="99" width="1" height="18"/><rect x="1193" y="108" width="5" height="9"/><rect x="1194" y="109" width="3" height="7" fill="#fff"/><rect x="1203" y="83" width="1" height="26"/><rect x="1201" y="105" width="5" height="3"/><rect x="1202" y="106" width="3" height="1" fill="#fff"/><rect x="1211" y="98" width="1" height="9"/><rect x="1209" y="103" width="5" height="4"/><rect x="1210" y="104" width="3" height="2" fill="#fff"/><rect x="1219" y="104" width="1" height="26"/><rect x="1217" y="109" width="5" height="20"/><rect x="1227" y="112" width="1" height="25"/><rect x="1225" y="120" width="5" height="11"/><rect x="1226" y="121" width="3" height="9" fill="#fff"/><rect x="1235" y="114" width="1" height="31"/><rect x="1233" y="120" width="5" height="8"/><rect x="1243" y="120" width="1" height="43"/><rect x="1241" y="127" width="5" height="2"/><rect x="1251" y="124" width="1" height="178"/><rect x="1249" y="127" width="5" height="154"/><rect x="1259" y="224" width="1" height="64"/><rect x="1257" y="277" width="5" height="5"/><rect x="1258" y="278" width="3" height="3" fill="#fff"/><rect x="1267" y="276" width="1" height="29"/><rect x="1265" y="277" width="5" height="24"/><rect x="1275" y="252" width="1" height="51"/><rect x="1273" y="280" width="5" height="22"/><rect x="1274" y="281" width="3" height="20" fill="#fff"/><rect x="1283" y="256" width="1" height="110"/><rect x="1281" y="280" width="5" height="72"/><rect x="1291" y="265" width="1" height="114"/><rect x="1289" y="289" width="5" height="64"/><rect x="1290" y="290" width="3" height="62" fill="#fff"/><rect x="1299" y="241" width="1" height="128"/><rect x="1297" y="288" width="5" height="68"/><rect x="1307" y="300" width="1" height="63"/><rect x="1305" y="314" width="5" height="43"/><rect x="1306" y="315" width="3" height="41" fill="#fff"/><rect x="1315" y="312" width="1" height="22"/><rect x="1313" y="314" width="5" height="17"/><rect x="1323" y="319" width="1" height="55"/><rect x="1321" y="329" width="5" height="35"/><rect x="1331" y="360" width="1" height="74"/><rect x="1329" y="363" width="5" height="13"/><rect x="1339" y="322" width="1" height="54"/><rect x="1337" y="322" width="5" height="53"/><rect x="1338" y="323" width="3" height="51" fill="#fff"/><rect x="1347" y="225" width="1" height="116"/><rect x="1345" y="293" width="5" height="30"/><rect x="1346" y="294" width="3" height="28" fill="#fff"/><rect x="1355" y="290" width="1" height="116"/><rect x="1353" y="292" width="5" height="95"/><rect x="1363" y="374" width="1" height="32"/><rect x="1361" y="384" width="5" height="7"/><rect x="1371" y="341" width="1" height="56"/><rect x="1369" y="341" width="5" height="48"/><rect x="1370" y="342" width="3" height="46" fill="#fff"/><rect x="1379" y="296" width="1" height="50"/><rect x="1377" y="300" width="5" height="43"/><rect x="1378" y="301" width="3" height="41" fill="#fff"/><rect x="1387" y="280" width="1" height="29"/><rect x="1385" y="300" width="5" height="4"/><rect x="1395" y="266" width="1" height="203"/><rect x="1393" y="301" width="5" height="124"/><rect x="1403" y="369" width="1" height="153"/><rect x="1401" y="422" width="5" height="95"/><rect x="1411" y="499" width="1" height="22"/><rect x="1409" y="502" width="5" height="13"/><rect x="1410" y="503" width="3" height="11" fill="#fff"/></g>
<g id="ind"><path d="M1.5 653v1M2.5 653v1M3.5 654v1M7.5 655v1M8.5 655v1M9.5 655v1M13.5 656v1M14.5 656v1M15.5 656v1M19.5 657v1M20.5 657v1M21.5 657v1M25.5 658v1M26.5 658v1M27.5 658v1M31.5 658v1M32.5 658v1M33.5 658v1M37.5 658v1M38.5 657v1M39.5 657v1M43.5 656v1M44.5 656v1M45.5 656v1M49.5 655v1M50.5 655v1M51.5 655v1M55.5 654v1M56.5 654v1M57.5 654v1M61.5 654v1M62.5 654v1M63.5 654v1M67.5 654v1M68.5 655v1M69.5 655v1M73.5 655v1M74.5 655v1M75.5 655v1M79.5 656v1M80.5 656v1M81.5 656v1M85.5 658v1M86.5 658v1M87.5 658v1M91.5 660v1M92.5 660v1M93.5 660v1M97.5 662v1M98.5 662v1M99.5 662v1M103.5 663v1M104.5 663v1M105.5 664v1M109.5 665v1M110.5 665v1M111.5 666v1M115.5 667v1M116.5 667v1M117.5 667v1M121.5 668v1M122.5 668v1M123.5 668v1M127.5 668v1M128.5 669v1M129.5 669v1M133.5 669v1M134.5 669v1M135.5 668v1M139.5 668v1M140.5 668v1M141.5 667v1M145.5 665v1M146.5 664v1M147.5 664v1M151.5 662v1M152.5 662v1M153.5 662v1M157.5 660v1M158.5 660v1M159.5 659v1M163.5 657v1M164.5 656v1M165.5 656v1M169.5 654v1M170.5 654v1M171.5 653v1M175.5 651v1M176.5 650v1M177.5 650v1M181.5 648v1M182.5 648v1M183.5 647v1M187.5 645v1M188.5 644v1M189.5 644v1M193.5 642v1M194.5 642v1M195.5 641v1M199.5 640v1M200.5 640v1M201.5 640v1M205.5 638v1M206.5 638v1M207.5 638v1M211.5 637v1M212.5 637v1M213.5 636v1M217.5 635v1M218.5 634v1M219.5 634v1M223.5 634v1M224.5 633v1M225.5 633v1M229.5 633v1M230.5 633v1M231.5 633v1M235.5 633v1M236.5 633v1M237.5 633v1M241.5 634v1M242.5 634v1M243.5 634v1M247.5 635v1M248.5 635v1M249.5 636v1M253.5 636v1M254.5 636v1M255.5 636v1M259.5 637v1M260.5 637v1M261.5 637v1M265.5 637v1M266.5 637v1M267.5 637v1M271.5 637v1M272.5 637v1M273.5 637v1M277.5 637v1M278.5 637v1M279.5 636v1M283.5 636v1M284.5 636v1M285.5 636v1M289.5 636v1M290.5 636v1M291.5 636v1M295.5 635v1M296.5 635v1M297.5 634v1M301.5 634v1M302.5 633v1M303.5 633v1M307.5 632v1M308.5 632v1M309.5 631v1M313.5 629v1M314.5 628v1M315.5 628v1M319.5 626v1M320.5 626v1M321.5 625v1M325.5 623v1M326.5 623v1M327.5 622v1M331.5 621v1M332.5 621v1M333.5 620v1M337.5 619v1M338.5 618v1M339.5 618v1M343.5 616v1M344.5 616v1M345.5 615v1M349.5 613v1M350.5 612v1M351.5 612v1M355.5 610v1M356.5 610v1M357.5 609v1M361.5 607v1M362.5 606v1M363.5 606v1M367.5 605v1M368.5 605v1M369.5 604v1M373.5 604v1M374.5 603v1M375.5 603v1M379.5 602v1M380.5 602v1M381.5 602v1M385.5 601v1M386.5 601v1M387.5 601v1M391.5 600v1M392.5 600v1M393.5 600v1M397.5 600v1M398.5 600v1M399.5 600v1M403.5 600v1M404.5 600v1M405.5 600v1M409.5 601v1M410.5 601v1M411.5 601v1M415.5 602v1M416.5 602v1M417.5 602v1M421.5 602v1M422.5 602v1M423.5 602v1M427.5 602v1M428.5 602v1M429.5 602v1M433.5 603v1M434.5 604v1M435.5 604v1M439.5 606v1M440.5 606v1M441.5 606v1M445.5 608v1M446.5 608v1M447.5 608v1M451.5 610v1M452.5 610v1M453.5 610v1M457.5 612v1M458.5 612v1M459.5 612v1M463.5 613v1M464.5 614v1M465.5 614v1M469.5 615v1M470.5 616v1M471.5 616v1M475.5 617v1M476.5 617v1M477.5 618v1M481.5 619v1M482.5 619v1M483.5 619v1M487.5 620v1M488.5 620v1M489.5 621v1M493.5 622v1M494.5 622v1M495.5 622v1M499.5 624v1M500.5 624v1M501.5 624v1M505.5 625v1M506.5 626v1M507.5 626v1M511.5 627v1M512.5 628v1M513.5 628v1M517.5 630v1M518.5 630v1M519.5 631v1M523.5 632v1M524.5 633v1M525.5 633v1M529.5 635v1M530.5 635v1M531.5 635v1M535.5 637v1M536.5 637v1M537.5 638v1M541.5 640v1M542.5 640v1M543.5 641v1M547.5 644v1M548.5 645v1M549.5 645v1M553.5 648v1M554.5 648v1M555.5 649v1M559.5 651v1M560.5 652v1M561.5 653v1M565.5 656v1M566.5 657v1M567.5 658v1M571.5 662v1M572.5 663v1M573.5 664v1M577.5 667v1M578.5 668v1M579.5 669v1M583.5 673v1M584.5 674v1M585.5 675v1M589.5 679v1M590.5 680v1M591.5 681v1M595.5 685v1M596.5 686v1M597.5 687v1M601.5 691v1M602.5 692v1M603.5 693v1M607.5 697v1M608.5 698v1M609.5 699v1M613.5 703v1M614.5 704v1M615.5 704v1M619.5 708v1M620.5 709v1M621.5 710v1M625.5 714v1M626.5 714v1M627.5 715v1M631.5 719v1M632.5 720v1M633.5 720v1M637.5 724v1M638.5 724v1M639.5 725v1M643.5 727v1M644.5 728v1M645.5 728v1M649.5 729v1M650.5 729v1M651.5 730v1M655.5 730v1M656.5 729v1M657.5 729v1M661.5 728v1M662.5 728v1M663.5 727v1M667.5 725v1M668.5 725v1M669.5 724v1M673.5 722v1M674.5 722v1M675.5 722v1M679.5 719v1M680.5 718v1M681.5 717v1M685.5 714v1M686.5 713v1M687.5 712v1M691.5 709v1M692.5 708v1M693.5 707v1M697.5 702v2M698.5 701v1M701.5 697v1M702.5 696v1M703.5 695v1M706.5 691v1M707.5 690v1M708.5 689v1M711.5 685v1M712.5 683v2M716.5 678v2M717.5 677v1M720.5 673v1M721.5 671v2M724.5 667v1M725.5 666v1M726.5 665v1M730.5 660v2M731.5 659v1M735.5 655v1M736.5 654v1M737.5 653v1M741.5 649v1M742.5 648v1M743.5 647v1M747.5 643v1M748.5 642v1M749.5 641v1M753.5 638v1M754.5 637v1M755.5 636v1M759.5 634v1M760.5 633v1M761.5 632v1M765.5 630v1M766.5 630v1M767.5 629v1M771.5 627v1M772.5 626v1M773.5 626v1M777.5 624v1M778.5 624v1M779.5 623v1M783.5 622v1M784.5 622v1M785.5 621v1M789.5 621v1M790.5 620v1M791.5 620v1M795.5 619v1M796.5 619v1M797.5 619v1M801.5 618v1M802.5 618v1M803.5 618v1M807.5 618v1M808.5 618v1M809.5 618v1M813.5 618v1M814.5 618v1M815.5 618v1M819.5 619v1M820.5 619v1M821.5 619v1M825.5 619v1M826.5 619v1M827.5 619v1M831.5 619v1M832.5 619v1M833.5 619v1M837.5 620v1M838.5 620v1M839.5 620v1M843.5 621v1M844.5 621v1M845.5 621v1M849.5 622v1M850.5 622v1M851.5 622v1M855.5 622v1M856.5 623v1M857.5 623v1M861.5 624v1M862.5 624v1M863.5 624v1M867.5 626v1M868.5 626v1M869.5 626v1M873.5 628v1M874.5 629v1M875.5 629v1M879.5 630v1M880.5 630v1M881.5 631v1M885.5 632v1M886.5 633v1M887.5 633v1M891.5 635v1M892.5 635v1M893.5 635v1M897.5 637v1M898.5 637v1M899.5 638v1M903.5 639v1M904.5 639v1M905.5 639v1M909.5 640v1M910.5 640v1M911.5 640v1M915.5 642v1M916.5 642v1M917.5 642v1M921.5 643v1M922.5 643v1M923.5 643v1M927.5 642v1M928.5 642v1M929.5 642v1M933.5 642v1M934.5 642v1M935.5 642v1M939.5 641v1M940.5 641v1M941.5 641v1M945.5 640v1M946.5 640v1M947.5 639v1M951.5 639v1M952.5 638v1M953.5 638v1M957.5 637v1M958.5 637v1M959.5 637v1M963.5 636v1M964.5 636v1M965.5 635v1M969.5 634v1M970.5 634v1M971.5 634v1M975.5 634v1M976.5 634v1M977.5 634v1M981.5 634v1M982.5 634v1M983.5 634v1M987.5 633v1M988.5 633v1M989.5 633v1M993.5 634v1M994.5 634v1M995.5 634v1M999.5 634v1M1000.5 634v1M1001.5 634v1M1005.5 634v1M1006.5 634v1M1007.5 634v1M1011.5 635v1M1012.5 635v1M1013.5 636v1M1017.5 636v1M1018.5 637v1M1019.5 637v1M1023.5 638v1M1024.5 638v1M1025.5 638v1M1029.5 638v1M1030.5 638v1M1031.5 638v1M1035.5 638v1M1036.5 638v1M1037.5 638v1M1041.5 639v1M1042.5 639v1M1043.5 639v1M1047.5 639v1M1048.5 639v1M1049.5 639v1M1053.5 639v1M1054.5 640v1M1055.5 640v1M1059.5 641v1M1060.5 641v1M1061.5 641v1M1065.5 642v1M1066.5 642v1M1067.5 642v1M1071.5 642v1M1072.5 643v1M1073.5 643v1M1077.5 644v1M1078.5 644v1M1079.5 645v1M1083.5 646v1M1084.5 646v1M1085.5 646v1M1089.5 647v1M1090.5 648v1M1091.5 648v1M1095.5 649v1M1096.5 649v1M1097.5 649v1M1101.5 650v1M1102.5 650v1M1103.5 650v1M1107.5 651v1M1108.5 652v1M1109.5 652v1M1113.5 652v1M1114.5 652v1M1115.5 652v1M1119.5 652v1M1120.5 652v1M1121.5 652v1M1125.5 652v1M1126.5 652v1M1127.5 652v1M1131.5 652v1M1132.5 652v1M1133.5 652v1M1137.5 651v1M1138.5 651v1M1139.5 651v1M1143.5 651v1M1144.5 651v1M1145.5 650v1M1149.5 650v1M1150.5 650v1M1151.5 650v1M1155.5 649v1M1156.5 649v1M1157.5 649v1M1161.5 649v1M1162.5 649v1M1163.5 649v1M1167.5 649v1M1168.5 649v1M1169.5 650v1M1173.5 650v1M1174.5 650v1M1175.5 650v1M1179.5 650v1M1180.5 650v1M1181.5 650v1M1185.5 650v1M1186.5 650v1M1187.5 650v1M1191.5 650v1M1192.5 651v1M1193.5 651v1M1197.5 651v1M1198.5 651v1M1199.5 652v1M1203.5 652v1M1204.5 652v1M1205.5 652v1M1209.5 652v1M1210.5 652v1M1211.5 652v1M1215.5 652v1M1216.5 653v1M1217.5 653v1M1221.5 653v1M1222.5 653v1M1223.5 653v1M1227.5 653v1M1228.5 653v1M1229.5 653v1M1233.5 653v1M1234.5 653v1M1235.5 653v1M1239.5 653v1M1240.5 653v1M1241.5 653v1M1245.5 653v1M1246.5 653v1M1247.5 653v1M1251.5 653v1M1252.5 654v1M1253.5 654v1M1257.5 655v1M1258.5 655v1M1259.5 656v1M1263.5 657v1M1264.5 658v1M1265.5 658v1M1269.5 660v1M1270.5 660v1M1271.5 661v1M1275.5 663v1M1276.5 664v1M1277.5 664v1M1281.5 667v1M1282.5 668v1M1283.5 668v1M1287.5 672v1M1288.5 672v1M1289.5 673v1M1293.5 676v1M1294.5 677v1M1295.5 678v1M1299.5 680v1M1300.5 681v1M1301.5 682v1M1305.5 686v1M1306.5 686v1M1307.5 687v1M1311.5 691v1M1312.5 691v1M1313.5 692v1M1317.5 694v1M1318.5 695v1M1319.5 695v1M1323.5 698v1M1324.5 698v1M1325.5 699v1M1329.5 701v1M1330.5 702v1M1331.5 703v1M1335.5 705v1M1336.5 706v1M1337.5 706v1M1341.5 708v1M1342.5 708v1M1343.5 709v1M1347.5 709v1M1348.5 710v1M1349.5 710v1M1353.5 710v1M1354.5 710v1M1355.5 710v1M1359.5 711v1M1360.5 711v1M1361.5 711v1M1365.5 712v1M1366.5 712v1M1367.5 712v1M1371.5 712v1M1372.5 712v1M1373.5 712v1M1377.5 711v1M1378.5 711v1M1379.5 711v1M1383.5 711v1M1384.5 711v1M1385.5 710v1M1389.5 710v1M1390.5 710v1M1391.5 710v1M1395.5 710v1M1396.5 709v1M1397.5 709v1M1401.5 709v1M1402.5 709v1M1403.5 709v1M1407.5 709v1M1408.5 709v1M1409.5 709v1" stroke="#ff0000" stroke-width="1" fill="none"/><path d="M0.5 835v1M1.5 835v1M2.5 834v1M3.5 834v1M4.5 834v1M5.5 834v1M6.5 833v1M7.5 832v1M8.5 832v1M9.5 832v1M10.5 831v1M11.5 830v1M12.5 830v1M13.5 829v1M14.5 827v2M15.5 826v1M16.5 825v1M17.5 824v1M18.5 822v2M19.5 821v1M20.5 820v1M21.5 821v1M22.5 822v1M23.5 823v1M24.5 824v1M25.5 824v1M26.5 825v1M27.5 826v1M28.5 827v1M29.5 827v1M30.5 826v1M31.5 826v1M32.5 826v1M33.5 826v1M34.5 826v1M35.5 825v1M36.5 825v1M37.5 826v1M38.5 826v1M39.5 826v1M40.5 827v1M41.5 828v1M42.5 828v1M43.5 828v1M44.5 829v1M45.5 829v1M46.5 830v1M47.5 830v1M48.5 830v1M49.5 831v1M50.5 831v1M51.5 832v1M52.5 832v2M53.5 834v3M54.5 837v2M55.5 839v3M56.5 842v3M57.5 845v3M58.5 848v2M59.5 850v3M60.5 853v2M61.5 854v1M62.5 854v1M63.5 855v1M64.5 855v1M65.5 855v1M66.5 856v1M67.5 856v1M68.5 856v1M69.5 856v1M70.5 855v1M71.5 854v1M72.5 854v1M73.5 854v1M74.5 853v1M75.5 852v1M76.5 852v1M77.5 852v1M78.5 851v1M79.5 850v1M80.5 850v1M81.5 850v1M82.5 849v1M83.5 848v1M84.5 848v1M85.5 848v1M86.5 848v1M87.5 848v1M88.5 848v1M89.5 848v1M90.5 848v1M91.5 848v1M92.5 848v1M93.5 848v1M94.5 848v1M95.5 847v1M96.5 847v1M97.5 847v1M98.5 846v1M99.5 846v1M100.5 846v1M101.5 844v2M102.5 842v2M103.5 840v2M104.5 838v2M105.5 836v2M106.5 834v2M107.5 832v2M108.5 831v1M109.5 830v1M110.5 829v1M111.5 828v1M112.5 826v2M113.5 825v1M114.5 824v1M115.5 823v1M116.5 822v1M117.5 823v1M118.5 824v1M119.5 825v1M120.5 826v1M121.5 827v1M122.5 828v1M123.5 829v1M124.5 830v1M125.5 830v1M126.5 830v1M127.5 829v1M128.5 829v1M129.5 829v1M130.5 828v1M131.5 828v1M132.5 828v1M133.5 828v1M134.5 828v1M135.5 827v1M136.5 827v1M137.5 827v1M138.5 826v1M139.5 826v1M140.5 826v1M141.5 826v1M142.5 825v1M143.5 824v1M144.5 824v1M145.5 824v1M146.5 823v1M147.5 822v1M148.5 822v1M149.5 820v2M150.5 818v2M151.5 817v1M152.5 815v2M153.5 814v1M154.5 812v2M155.5 810v2M156.5 809v1M157.5 809v1M158.5 809v1M159.5 809v1M160.5 810v1M161.5 810v1M162.5 810v1M163.5 810v1M164.5 810v1M165.5 810v1M166.5 810v1M167.5 809v1M168.5 809v1M169.5 809v1M170.5 808v1M171.5 808v1M172.5 808v2M173.5 810v1M174.5 811v3M175.5 814v1M176.5 815v3M177.5 818v1M178.5 819v3M179.5 822v1M180.5 823v2M181.5 823v1M182.5 823v1M183.5 822v1M184.5 822v1M185.5 821v1M186.5 820v1M187.5 820v1M188.5 819v1M189.5 820v1M190.5 820v1M191.5 821v1M192.5 822v1M193.5 822v1M194.5 823v1M195.5 823v1M196.5 824v1M197.5 824v1M198.5 824v1M199.5 825v1M200.5 825v1M201.5 825v1M202.5 826v1M203.5 826v1M204.5 826v1M205.5 826v1M206.5 825v1M207.5 824v1M208.5 824v1M209.5 824v1M210.5 823v1M211.5 822v1M212.5 822v1M213.5 823v1M214.5 824v1M215.5 824v1M216.5 825v1M217.5 826v1M218.5 826v1M219.5 827v1M220.5 828v1M221.5 828v1M222.5 828v1M223.5 829v1M224.5 829v1M225.5 829v1M226.5 830v1M227.5 830v1M228.5 830v1M229.5 831v1M230.5 832v1M231.5 832v1M232.5 833v1M233.5 834v1M234.5 834v1M235.5 835v1M236.5 836v1M237.5 836v1M238.5 835v1M239.5 834v1M240.5 834v1M241.5 834v1M242.5 833v1M243.5 832v1M244.5 832v1M245.5 832v1M246.5 832v1M247.5 832v1M248.5 832v1M249.5 832v1M250.5 832v1M251.5 832v1M252.5 831v2M253.5 829v2M254.5 826v3M255.5 823v3M256.5 821v2M257.5 818v3M258.5 815v3M259.5 813v2M260.5 811v2M261.5 811v1M262.5 811v1M263.5 811v1M264.5 810v1M265.5 810v1M266.5 810v1M267.5 810v1M268.5 810v1M269.5 810v1M270.5 810v1M271.5 810v1M272.5 810v1M273.5 811v1M274.5 811v1M275.5 811v1M276.5 811v1M277.5 811v1M278.5 812v1M279.5 812v1M280.5 812v1M281.5 812v1M282.5 812v1M283.5 813v1M284.5 813v1M285.5 813v1M286.5 814v1M287.5 814v1M288.5 814v1M289.5 815v1M290.5 815v1M291.5 816v1M292.5 816v1M293.5 815v1M294.5 815v1M295.5 814v1M296.5 814v1M297.5 813v1M298.5 812v1M299.5 812v1M300.5 811v1M301.5 809v2M302.5 807v2M303.5 805v2M304.5 803v2M305.5 801v2M306.5 799v2M307.5 797v2M308.5 796v1M309.5 796v1M310.5 796v1M311.5 795v1M312.5 795v1M313.5 795v1M314.5 794v1M315.5 794v1M316.5 794v1M317.5 794v1M318.5 794v1M319.5 793v1M320.5 793v1M321.5 793v1M322.5 792v1M323.5 792v1M324.5 792v1M325.5 792v1M326.5 792v1M327.5 792v1M328.5 792v1M329.5 792v1M330.5 792v1M331.5 792v1M332.5 792v1M333.5 792v1M334.5 792v1M335.5 792v1M336.5 792v1M337.5 792v1M338.5 792v1M339.5 792v1M340.5 792v1M341.5 792v1M342.5 792v1M343.5 791v1M344.5 791v1M345.5 791v1M346.5 790v1M347.5 790v1M348.5 790v2M349.5 792v3M350.5 795v4M351.5 799v3M352.5 802v3M353.5 805v3M354.5 808v4M355.5 812v3M356.5 815v2M357.5 814v2M358.5 813v1M359.5 811v2M360.5 810v1M361.5 808v2M362.5 807v1M363.5 805v2M364.5 804v1M365.5 804v1M366.5 804v1M367.5 804v1M368.5 804v1M369.5 804v1M370.5 804v1M371.5 804v1M372.5 804v1M373.5 804v1M374.5 804v1M375.5 804v1M376.5 804v1M377.5 804v1M378.5 804v1M379.5 804v1M380.5 804v1M381.5 804v1M382.5 803v1M383.5 803v1M384.5 802v1M385.5 802v1M386.5 802v1M387.5 801v1M388.5 801v1M389.5 801v1M390.5 800v1M391.5 800v1M392.5 800v1M393.5 800v1M394.5 800v1M395.5 799v1M396.5 799v1M397.5 799v1M398.5 800v1M399.5 800v1M400.5 800v1M401.5 800v1M402.5 800v1M403.5 801v1M404.5 801v1M405.5 802v1M406.5 802v1M407.5 803v1M408.5 804v1M409.5 805v1M410.5 806v1M411.5 806v1M412.5 807v1M413.5 807v1M414.5 808v1M415.5 808v1M416.5 808v1M417.5 809v1M418.5 809v1M419.5 810v1M420.5 810v1M421.5 811v1M422.5 812v1M423.5 813v1M424.5 814v1M425.5 815v1M426.5 816v1M427.5 817v1M428.5 818v2M429.5 820v1M430.5 821v3M431.5 824v1M432.5 825v3M433.5 828v1M434.5 829v3M435.5 832v1M436.5 833v2M437.5 833v1M438.5 831v2M439.5 830v1M440.5 829v1M441.5 828v1M442.5 826v2M443.5 825v1M444.5 824v1M445.5 825v1M446.5 826v1M447.5 827v1M448.5 828v1M449.5 828v1M450.5 829v1M451.5 830v1M452.5 831v1M453.5 830v1M454.5 830v1M455.5 829v1M456.5 828v1M457.5 827v1M458.5 826v1M459.5 826v1M460.5 824v2M461.5 822v2M462.5 819v3M463.5 817v2M464.5 814v3M465.5 812v2M466.5 809v3M467.5 807v2M468.5 805v2M469.5 806v1M470.5 806v1M471.5 807v1M472.5 808v1M473.5 808v1M474.5 809v1M475.5 809v1M476.5 810v1M477.5 811v2M478.5 813v1M479.5 814v1M480.5 815v2M481.5 817v1M482.5 818v1M483.5 819v2M484.5 821v1M485.5 822v1M486.5 823v1M487.5 824v1M488.5 825v2M489.5 827v1M490.5 828v1M491.5 829v1M492.5 830v1M493.5 831v1M494.5 831v1M495.5 832v1M496.5 832v1M497.5 833v1M498.5 834v1M499.5 834v1M500.5 835v1M501.5 836v2M502.5 838v2M503.5 840v2M504.5 842v1M505.5 843v2M506.5 845v2M507.5 847v2M508.5 849v1M509.5 848v1M510.5 847v1M511.5 846v1M512.5 846v1M513.5 845v1M514.5 844v1M515.5 843v1M516.5 842v1M517.5 843v1M518.5 844v1M519.5 845v1M520.5 846v1M521.5 847v1M522.5 848v1M523.5 849v1M524.5 850v1M525.5 849v1M526.5 847v2M527.5 846v1M528.5 845v1M529.5 844v1M530.5 842v2M531.5 841v1M532.5 840v1M533.5 841v1M534.5 842v1M535.5 843v1M536.5 844v1M537.5 845v1M538.5 846v1M539.5 847v1M540.5 848v1M541.5 848v1M542.5 848v1M543.5 847v1M544.5 847v1M545.5 847v1M546.5 846v1M547.5 846v1M548.5 846v1M549.5 846v1M550.5 845v1M551.5 844v1M552.5 844v1M553.5 844v1M554.5 843v1M555.5 842v1M556.5 842v2M557.5 844v3M558.5 847v3M559.5 850v3M560.5 853v4M561.5 857v3M562.5 860v3M563.5 863v3M564.5 866v2M565.5 867v1M566.5 868v1M567.5 868v1M568.5 868v1M569.5 869v1M570.5 869v1M571.5 870v1M572.5 870v1M573.5 870v1M574.5 870v1M575.5 869v1M576.5 869v1M577.5 869v1M578.5 868v1M579.5 868v1M580.5 868v1M581.5 869v2M582.5 871v1M583.5 872v2M584.5 874v1M585.5 875v2M586.5 877v1M587.5 878v2M588.5 880v1M589.5 880v1M590.5 881v1M591.5 881v1M592.5 882v1M593.5 882v1M594.5 882v1M595.5 883v1M596.5 881v3M597.5 877v4M598.5 873v4M599.5 869v4M600.5 865v4M601.5 861v4M602.5 857v4M603.5 853v4M604.5 850v3M605.5 850v1M606.5 850v1M607.5 851v1M608.5 851v1M609.5 851v1M610.5 852v1M611.5 852v1M612.5 852v1M613.5 852v1M614.5 853v1M615.5 854v1M616.5 854v1M617.5 854v1M618.5 855v1M619.5 856v1M620.5 856v1M621.5 856v1M622.5 856v1M623.5 855v1M624.5 855v1M625.5 855v1M626.5 854v1M627.5 854v1M628.5 854v1M629.5 855v1M630.5 856v1M631.5 857v1M632.5 858v1M633.5 859v1M634.5 860v1M635.5 861v1M636.5 862v1M637.5 862v1M638.5 861v1M639.5 861v1M640.5 860v1M641.5 860v1M642.5 860v1M643.5 859v1M644.5 858v2M645.5 854v4M646.5 851v3M647.5 847v4M648.5 844v3M649.5 840v4M650.5 837v3M651.5 833v4M652.5 831v2M653.5 831v1M654.5 831v1M655.5 831v1M656.5 831v1M657.5 831v1M658.5 831v1M659.5 831v1M660.5 831v1M661.5 831v1M662.5 831v1M663.5 831v1M664.5 832v1M665.5 832v1M666.5 832v1M667.5 832v1M668.5 832v1M669.5 832v1M670.5 832v1M671.5 831v1M672.5 831v1M673.5 831v1M674.5 830v1M675.5 830v1M676.5 830v1M677.5 829v1M678.5 828v1M679.5 827v1M680.5 826v1M681.5 825v1M682.5 824v1M683.5 823v1M684.5 822v1M685.5 822v1M686.5 823v1M687.5 824v1M688.5 824v1M689.5 824v1M690.5 825v1M691.5 826v1M692.5 826v1M693.5 825v1M694.5 825v1M695.5 824v1M696.5 824v1M697.5 823v1M698.5 822v1M699.5 822v1M700.5 821v1M701.5 820v1M702.5 820v1M703.5 819v1M704.5 818v1M705.5 817v1M706.5 816v1M707.5 816v1M708.5 815v1M709.5 816v1M710.5 816v1M711.5 816v1M712.5 817v1M713.5 818v1M714.5 818v1M715.5 818v1M716.5 819v1M717.5 819v1M718.5 818v1M719.5 818v1M720.5 818v1M721.5 817v1M722.5 817v1M723.5 816v1M724.5 816v1M725.5 816v1M726.5 816v1M727.5 816v1M728.5 816v1M729.5 816v1M730.5 816v1M731.5 816v1M732.5 816v1M733.5 816v1M734.5 816v1M735.5 816v1M736.5 816v1M737.5 816v1M738.5 816v1M739.5 816v1M740.5 816v1M741.5 816v1M742.5 816v1M743.5 816v1M744.5 816v1M745.5 816v1M746.5 816v1M747.5 816v1M748.5 816v1M749.5 816v1M750.5 816v1M751.5 817v1M752.5 817v1M753.5 817v1M754.5 818v1M755.5 818v1M756.5 818v1M757.5 818v1M758.5 818v1M759.5 819v1M760.5 819v1M761.5 819v1M762.5 820v1M763.5 820v1M764.5 820v1M765.5 820v1M766.5 820v1M767.5 819v1M768.5 819v1M769.5 819v1M770.5 818v1M771.5 818v1M772.5 818v1M773.5 819v1M774.5 820v1M775.5 820v1M776.5 821v1M777.5 822v1M778.5 822v1M779.5 823v1M780.5 824v1M781.5 824v1M782.5 823v1M783.5 823v1M784.5 822v1M785.5 822v1M786.5 822v1M787.5 821v1M788.5 821v1M789.5 821v1M790.5 820v1M791.5 820v1M792.5 820v1M793.5 820v1M794.5 820v1M795.5 819v1M796.5 819v1M797.5 818v1M798.5 817v1M799.5 816v1M800.5 814v2M801.5 813v1M802.5 812v1M803.5 811v1M804.5 810v1M805.5 811v1M806.5 812v2M807.5 814v1M808.5 815v1M809.5 816v1M810.5 817v2M811.5 819v1M812.5 820v1M813.5 820v1M814.5 820v1M815.5 819v1M816.5 819v1M817.5 819v1M818.5 818v1M819.5 818v1M820.5 818v1M821.5 819v1M822.5 820v1M823.5 820v1M824.5 821v1M825.5 822v1M826.5 822v1M827.5 823v1M828.5 824v1M829.5 824v1M830.5 823v1M831.5 823v1M832.5 822v1M833.5 822v1M834.5 822v1M835.5 821v1M836.5 821v1M837.5 821v1M838.5 820v1M839.5 820v1M840.5 820v1M841.5 819v1M842.5 819v1M843.5 818v1M844.5 818v1M845.5 819v2M846.5 821v2M847.5 823v2M848.5 825v2M849.5 827v2M850.5 829v2M851.5 831v2M852.5 833v1M853.5 834v2M854.5 836v1M855.5 837v2M856.5 839v1M857.5 840v2M858.5 842v1M859.5 843v2M860.5 845v1M861.5 845v1M862.5 845v1M863.5 845v1M864.5 846v1M865.5 846v1M866.5 846v1M867.5 846v1M868.5 846v1M869.5 845v1M870.5 844v1M871.5 844v1M872.5 843v1M873.5 842v1M874.5 842v1M875.5 841v1M876.5 840v1M877.5 839v1M878.5 838v1M879.5 837v1M880.5 836v1M881.5 836v1M882.5 835v1M883.5 834v1M884.5 833v1M885.5 834v1M886.5 834v1M887.5 834v1M888.5 835v1M889.5 836v1M890.5 836v1M891.5 836v1M892.5 836v2M893.5 835v1M894.5 832v3M895.5 831v1M896.5 828v3M897.5 827v1M898.5 824v3M899.5 823v1M900.5 821v2M901.5 821v1M902.5 821v1M903.5 821v1M904.5 820v1M905.5 820v1M906.5 820v1M907.5 820v1M908.5 820v1M909.5 820v1M910.5 820v1M911.5 821v1M912.5 821v1M913.5 821v1M914.5 822v1M915.5 822v1M916.5 822v1M917.5 821v1M918.5 820v1M919.5 820v1M920.5 819v1M921.5 818v1M922.5 818v1M923.5 817v1M924.5 816v1M925.5 816v1M926.5 816v1M927.5 817v1M928.5 817v1M929.5 817v1M930.5 818v1M931.5 818v1M932.5 818v1M933.5 818v1M934.5 818v1M935.5 819v1M936.5 819v1M937.5 819v1M938.5 820v1M939.5 820v1M940.5 820v1M941.5 820v1M942.5 820v1M943.5 820v1M944.5 820v1M945.5 820v1M946.5 820v1M947.5 820v1M948.5 820v1M949.5 820v1M950.5 819v1M951.5 819v1M952.5 818v1M953.5 818v1M954.5 818v1M955.5 817v1M956.5 817v1M957.5 818v2M958.5 820v2M959.5 822v2M960.5 824v2M961.5 826v2M962.5 828v2M963.5 830v2M964.5 832v1M965.5 832v1M966.5 831v1M967.5 831v1M968.5 830v1M969.5 830v1M970.5 830v1M971.5 829v1M972.5 829v1M973.5 828v1M974.5 828v1M975.5 828v1M976.5 827v1M977.5 826v1M978.5 826v1M979.5 826v1M980.5 825v1M981.5 824v1M982.5 824v1M983.5 823v1M984.5 822v1M985.5 822v1M986.5 821v1M987.5 821v1M988.5 820v2M989.5 822v1M990.5 823v3M991.5 826v1M992.5 827v3M993.5 830v1M994.5 831v3M995.5 834v1M996.5 835v2M997.5 835v1M998.5 834v1M999.5 833v1M1000.5 831v2M1001.5 830v1M1002.5 829v1M1003.5 828v1M1004.5 827v1M1005.5 828v1M1006.5 829v1M1007.5 830v1M1008.5 831v1M1009.5 832v1M1010.5 833v1M1011.5 834v1M1012.5 835v1M1013.5 834v1M1014.5 833v1M1015.5 832v1M1016.5 832v1M1017.5 831v1M1018.5 830v1M1019.5 829v1M1020.5 828v1M1021.5 828v1M1022.5 827v1M1023.5 827v1M1024.5 826v1M1025.5 826v1M1026.5 826v1M1027.5 825v1M1028.5 825v1M1029.5 824v1M1030.5 824v1M1031.5 823v1M1032.5 822v1M1033.5 821v1M1034.5 820v1M1035.5 820v1M1036.5 819v1M1037.5 820v1M1038.5 820v1M1039.5 820v1M1040.5 821v1M1041.5 822v1M1042.5 822v1M1043.5 822v1M1044.5 823v2M1045.5 825v2M1046.5 827v2M1047.5 829v2M1048.5 831v3M1049.5 834v2M1050.5 836v2M1051.5 838v2M1052.5 840v2M1053.5 841v1M1054.5 842v1M1055.5 842v1M1056.5 842v1M1057.5 843v1M1058.5 843v1M1059.5 844v1M1060.5 844v1M1061.5 844v1M1062.5 844v1M1063.5 844v1M1064.5 844v1M1065.5 844v1M1066.5 844v1M1067.5 844v1M1068.5 844v1M1069.5 844v1M1070.5 845v1M1071.5 846v1M1072.5 846v1M1073.5 846v1M1074.5 847v1M1075.5 848v1M1076.5 848v1M1077.5 846v2M1078.5 845v1M1079.5 843v2M1080.5 842v1M1081.5 840v2M1082.5 839v1M1083.5 837v2M1084.5 836v1M1085.5 836v1M1086.5 836v1M1087.5 835v1M1088.5 835v1M1089.5 835v1M1090.5 834v1M1091.5 834v1M1092.5 834v1M1093.5 833v1M1094.5 831v2M1095.5 830v1M1096.5 829v1M1097.5 828v1M1098.5 826v2M1099.5 825v1M1100.5 824v1M1101.5 824v1M1102.5 824v1M1103.5 824v1M1104.5 824v1M1105.5 825v1M1106.5 825v1M1107.5 825v1M1108.5 825v1M1109.5 826v1M1110.5 826v1M1111.5 826v1M1112.5 827v1M1113.5 828v1M1114.5 828v1M1115.5 828v1M1116.5 829v1M1117.5 828v1M1118.5 827v1M1119.5 826v1M1120.5 824v2M1121.5 823v1M1122.5 822v1M1123.5 821v1M1124.5 820v1M1125.5 820v1M1126.5 820v1M1127.5 820v1M1128.5 820v1M1129.5 821v1M1130.5 821v1M1131.5 821v1M1132.5 821v1M1133.5 821v1M1134.5 822v1M1135.5 822v1M1136.5 822v1M1137.5 823v1M1138.5 823v1M1139.5 824v1M1140.5 824v2M1141.5 826v2M1142.5 828v2M1143.5 830v2M1144.5 832v3M1145.5 835v2M1146.5 837v2M1147.5 839v2M1148.5 841v2M1149.5 842v1M1150.5 841v1M1151.5 840v1M1152.5 840v1M1153.5 840v1M1154.5 839v1M1155.5 838v1M1156.5 838v1M1157.5 838v1M1158.5 838v1M1159.5 839v1M1160.5 839v1M1161.5 839v1M1162.5 840v1M1163.5 840v1M1164.5 840v1M1165.5 841v1M1166.5 842v1M1167.5 842v1M1168.5 843v1M1169.5 844v1M1170.5 844v1M1171.5 845v1M1172.5 846v1M1173.5 845v1M1174.5 844v1M1175.5 843v1M1176.5 841v2M1177.5 840v1M1178.5 839v1M1179.5 838v1M1180.5 837v1M1181.5 836v1M1182.5 835v1M1183.5 834v1M1184.5 833v1M1185.5 832v1M1186.5 831v1M1187.5 830v1M1188.5 829v1M1189.5 829v1M1190.5 829v1M1191.5 829v1M1192.5 828v1M1193.5 828v1M1194.5 828v1M1195.5 828v1M1196.5 828v1M1197.5 828v1M1198.5 828v1M1199.5 827v1M1200.5 827v1M1201.5 827v1M1202.5 826v1M1203.5 826v1M1204.5 826v1M1205.5 826v1M1206.5 826v1M1207.5 826v1M1208.5 826v1M1209.5 826v1M1210.5 826v1M1211.5 826v1M1212.5 826v1M1213.5 827v1M1214.5 828v1M1215.5 829v1M1216.5 830v1M1217.5 831v1M1218.5 832v1M1219.5 833v1M1220.5 834v1M1221.5 834v1M1222.5 834v1M1223.5 833v1M1224.5 833v1M1225.5 833v1M1226.5 832v1M1227.5 832v1M1228.5 832v1M1229.5 832v1M1230.5 832v1M1231.5 833v1M1232.5 833v1M1233.5 833v1M1234.5 834v1M1235.5 834v1M1236.5 834v1M1237.5 834v1M1238.5 834v1M1239.5 834v1M1240.5 834v1M1241.5 834v1M1242.5 834v1M1243.5 834v1M1244.5 834v3M1245.5 837v4M1246.5 841v4M1247.5 845v5M1248.5 850v4M1249.5 854v5M1250.5 859v4M1251.5 863v4M1252.5 867v3M1253.5 869v1M1254.5 869v1M1255.5 869v1M1256.5 868v1M1257.5 868v1M1258.5 868v1M1259.5 868v1M1260.5 868v1M1261.5 868v1M1262.5 869v1M1263.5 870v1M1264.5 870v1M1265.5 870v1M1266.5 871v1M1267.5 872v1M1268.5 872v1M1269.5 871v1M1270.5 870v1M1271.5 870v1M1272.5 869v1M1273.5 868v1M1274.5 868v1M1275.5 867v1M1276.5 866v1M1277.5 867v1M1278.5 868v1M1279.5 869v1M1280.5 870v2M1281.5 872v1M1282.5 873v1M1283.5 874v1M1284.5 874v2M1285.5 872v2M1286.5 870v2M1287.5 867v3M1288.5 865v2M1289.5 862v3M1290.5 860v2M1291.5 858v2M1292.5 856v2M1293.5 857v1M1294.5 858v2M1295.5 860v1M1296.5 861v1M1297.5 862v1M1298.5 863v2M1299.5 865v1M1300.5 866v1M1301.5 864v2M1302.5 863v1M1303.5 862v1M1304.5 860v2M1305.5 859v1M1306.5 858v1M1307.5 856v2M1308.5 855v1M1309.5 856v1M1310.5 856v1M1311.5 856v1M1312.5 857v1M1313.5 858v1M1314.5 858v1M1315.5 858v1M1316.5 859v1M1317.5 859v1M1318.5 860v1M1319.5 860v1M1320.5 860v1M1321.5 861v1M1322.5 861v1M1323.5 862v1M1324.5 862v1M1325.5 862v1M1326.5 862v1M1327.5 863v1M1328.5 863v1M1329.5 863v1M1330.5 864v1M1331.5 864v1M1332.5 864v1M1333.5 862v2M1334.5 860v2M1335.5 858v2M1336.5 857v1M1337.5 855v2M1338.5 853v2M1339.5 851v2M1340.5 850v1M1341.5 849v1M1342.5 848v1M1343.5 848v1M1344.5 847v1M1345.5 846v1M1346.5 846v1M1347.5 845v1M1348.5 844v1M1349.5 845v2M1350.5 847v2M1351.5 849v2M1352.5 851v1M1353.5 852v2M1354.5 854v2M1355.5 856v2M1356.5 858v1M1357.5 858v1M1358.5 858v1M1359.5 858v1M1360.5 858v1M1361.5 858v1M1362.5 858v1M1363.5 858v1M1364.5 858v1M1365.5 856v2M1366.5 855v1M1367.5 854v1M1368.5 852v2M1369.5 851v1M1370.5 850v1M1371.5 848v2M1372.5 847v1M1373.5 846v1M1374.5 845v1M1375.5 844v1M1376.5 842v2M1377.5 841v1M1378.5 840v1M1379.5 839v1M1380.5 838v1M1381.5 838v1M1382.5 838v1M1383.5 839v1M1384.5 839v1M1385.5 839v1M1386.5 840v1M1387.5 840v1M1388.5 840v2M1389.5 842v2M1390.5 844v2M1391.5 846v3M1392.5 849v2M1393.5 851v3M1394.5 854v2M1395.5 856v2M1396.5 858v2M1397.5 860v1M1398.5 861v1M1399.5 862v1M1400.5 863v1M1401.5 864v1M1402.5 865v1M1403.5 866v1M1404.5 867v1M1405.5 867v1M1406.5 866v1M1407.5 866v1M1408.5 866v1M1409.5 865v1M1410.5 865v1M1411.5 864v1M1412.5 864v1" stroke="#1e90ff" stroke-width="1" fill="none"/></g>
<g id="ticks"><rect x="1654" y="23" width="2" height="1" fill="#000" /><rect x="1654" y="56" width="2" height="1" fill="#000" /><rect x="1654" y="89" width="2" height="1" fill="#000" /><rect x="1654" y="122" width="2" height="1" fill="#000" /><rect x="1654" y="155" width="2" height="1" fill="#000" /><rect x="1654" y="188" width="2" height="1" fill="#000" /><rect x="1654" y="221" width="2" height="1" fill="#000" /><rect x="1654" y="254" width="2" height="1" fill="#000" /><rect x="1654" y="287" width="2" height="1" fill="#000" /><rect x="1654" y="320" width="2" height="1" fill="#000" /><rect x="1654" y="353" width="2" height="1" fill="#000" /><rect x="1654" y="386" width="2" height="1" fill="#000" /><rect x="1654" y="419" width="2" height="1" fill="#000" /><rect x="1654" y="452" width="2" height="1" fill="#000" /><rect x="1654" y="485" width="2" height="1" fill="#000" /><rect x="1654" y="518" width="2" height="1" fill="#000" /><rect x="1654" y="551" width="2" height="1" fill="#000" /><rect x="1654" y="584" width="2" height="1" fill="#000" /><rect x="1654" y="591" width="2" height="1" fill="#000" /><rect x="1654" y="656" width="2" height="1" fill="#000" /><rect x="1654" y="744" width="2" height="1" fill="#000" /><rect x="1654" y="749" width="2" height="1" fill="#000" /><rect x="1654" y="921" width="2" height="1" fill="#000" /><rect x="59" y="922" width="1" height="3" fill="#000"/><rect x="123" y="922" width="1" height="3" fill="#000"/><rect x="187" y="922" width="1" height="3" fill="#000"/><rect x="251" y="922" width="1" height="3" fill="#000"/><rect x="315" y="922" width="1" height="3" fill="#000"/><rect x="379" y="922" width="1" height="3" fill="#000"/><rect x="443" y="922" width="1" height="3" fill="#000"/><rect x="507" y="922" width="1" height="3" fill="#000"/><rect x="571" y="922" width="1" height="3" fill="#000"/><rect x="635" y="922" width="1" height="3" fill="#000"/><rect x="699" y="922" width="1" height="3" fill="#000"/><rect x="763" y="922" width="1" height="3" fill="#000"/><rect x="827" y="922" width="1" height="3" fill="#000"/><rect x="891" y="922" width="1" height="3" fill="#000"/><rect x="955" y="922" width="1" height="3" fill="#000"/><rect x="1019" y="922" width="1" height="3" fill="#000"/><rect x="1083" y="922" width="1" height="3" fill="#000"/><rect x="1147" y="922" width="1" height="3" fill="#000"/><rect x="1211" y="922" width="1" height="3" fill="#000"/><rect x="1275" y="922" width="1" height="3" fill="#000"/><rect x="1339" y="922" width="1" height="3" fill="#000"/><rect x="1403" y="922" width="1" height="3" fill="#000"/><path d="M0 31 L2.5 27 L5.5 31 Z" fill="#000" shape-rendering="auto"/></g>
<g id="tbshape"><rect x="14" y="0" width="1" height="16" fill="#a0a0a0"/><rect x="15" y="0" width="1" height="16" fill="#fff"/><rect x="250" y="0" width="1" height="16" fill="#a0a0a0"/><rect x="251" y="0" width="1" height="16" fill="#fff"/><rect x="254" y="0" width="3" height="1" fill="#b0b0b0"/><rect x="254" y="2" width="3" height="1" fill="#b0b0b0"/><rect x="254" y="4" width="3" height="1" fill="#b0b0b0"/><rect x="254" y="6" width="3" height="1" fill="#b0b0b0"/><rect x="254" y="8" width="3" height="1" fill="#b0b0b0"/><rect x="254" y="10" width="3" height="1" fill="#b0b0b0"/><rect x="254" y="12" width="3" height="1" fill="#b0b0b0"/><rect x="268" y="0" width="1" height="12" fill="#505050"/><rect x="266" y="9" width="14" height="1" fill="#505050" /><rect x="278" y="8" width="1" height="3" fill="#505050"/><polyline points="272,6.5 274.5,6.5 274.5,0.5 277,0.5" fill="none" stroke="#1fa01f" stroke-width="1.6"/><rect x="289" y="0" width="24" height="14" fill="#f8f8f8"/><rect x="288" y="0" width="1" height="14" fill="#b8b8b8"/><rect x="296" y="0" width="1" height="12" fill="#505050"/><rect x="294" y="9" width="14" height="1" fill="#505050" /><rect x="306" y="8" width="1" height="3" fill="#505050"/><rect x="302" y="0" width="1" height="8" fill="#1d8d1d"/><rect x="300" y="0" width="5" height="6" fill="#1d9d1d"/><rect x="301" y="0" width="3" height="5" fill="#3fe03f"/><rect x="324" y="0" width="1" height="12" fill="#505050"/><rect x="322" y="9" width="14" height="1" fill="#505050" /><rect x="334" y="8" width="1" height="3" fill="#505050"/><rect x="345" y="0" width="1" height="16" fill="#a0a0a0"/><rect x="346" y="0" width="1" height="16" fill="#fff"/><rect x="410" y="-2" width="8" height="6" fill="#3a9a22"/><rect x="418" y="-2" width="8" height="6" fill="#2a5ed0"/><rect x="410" y="4" width="8" height="8" fill="#2a5ed0"/><rect x="418" y="4" width="8" height="8" fill="#3a9a22"/><rect x="412" y="0" width="5" height="3" fill="#e8f6e0"/><rect x="420" y="0" width="5" height="3" fill="#e4ecfc"/><rect x="412" y="7" width="5" height="3" fill="#e4ecfc"/><rect x="420" y="7" width="5" height="3" fill="#e8f6e0"/><rect x="412" y="1" width="4" height="1" fill="#6ab84a"/><rect x="420" y="1" width="4" height="1" fill="#6a8ee0"/><rect x="412" y="8" width="4" height="1" fill="#6a8ee0"/><rect x="420" y="8" width="4" height="1" fill="#6ab84a"/><rect x="418" y="-2" width="1" height="14" fill="#f0f0f0"/><rect x="410" y="4" width="16" height="1" fill="#f0f0f0" /><rect x="435" y="0" width="1" height="16" fill="#a0a0a0"/><rect x="436" y="0" width="1" height="16" fill="#fff"/><rect x="440" y="0" width="1" height="14" fill="#d0d0d0"/><rect x="441" y="0" width="24" height="14" fill="#f6f6f6"/><rect x="448" y="0" width="1" height="12" fill="#505050"/><rect x="446" y="9" width="14" height="1" fill="#505050" /><rect x="458" y="8" width="1" height="3" fill="#505050"/><rect x="468" y="0" width="1" height="16" fill="#a0a0a0"/><rect x="469" y="0" width="1" height="16" fill="#fff"/><rect x="470" y="0" width="24" height="14" fill="#f6f6f6"/><rect x="476" y="0" width="1" height="12" fill="#505050"/><rect x="474" y="9" width="14" height="1" fill="#505050" /><rect x="486" y="8" width="1" height="3" fill="#505050"/><rect x="482" y="0" width="1" height="8" fill="#2a6ab8"/><rect x="497" y="0" width="1" height="16" fill="#a0a0a0"/><rect x="498" y="0" width="1" height="16" fill="#fff"/><rect x="584.5" y="-2" width="15" height="12.5" fill="#fff" stroke="#3a78d0" stroke-width="1"/><rect x="585" y="5" width="15" height="1" fill="#3a78d0" /><rect x="618" y="0" width="1" height="16" fill="#a0a0a0"/><rect x="619" y="0" width="1" height="16" fill="#fff"/><rect x="622" y="0" width="3" height="1" fill="#b0b0b0"/><rect x="622" y="2" width="3" height="1" fill="#b0b0b0"/><rect x="622" y="4" width="3" height="1" fill="#b0b0b0"/><rect x="622" y="6" width="3" height="1" fill="#b0b0b0"/><rect x="622" y="8" width="3" height="1" fill="#b0b0b0"/><rect x="622" y="10" width="3" height="1" fill="#b0b0b0"/><rect x="622" y="12" width="3" height="1" fill="#b0b0b0"/><rect x="630" y="0" width="23" height="14" fill="#f8f8f8"/><rect x="629" y="0" width="1" height="14" fill="#d0d0d0"/><rect x="668" y="0" width="1" height="12" fill="#404040"/><rect x="661" y="4" width="16" height="1" fill="#404040" /><rect x="667" y="3" width="3" height="3" fill="#f0f0f0"/><rect x="685" y="0" width="1" height="16" fill="#a0a0a0"/><rect x="686" y="0" width="1" height="16" fill="#fff"/><rect x="702" y="0" width="1" height="11" fill="#404040"/><rect x="725" y="4" width="13" height="1" fill="#404040" /><line x1="808" y1="0.5" x2="821" y2="0.5" stroke="#404040" stroke-dasharray="1 1"/><line x1="808" y1="4.5" x2="821" y2="4.5" stroke="#404040" stroke-dasharray="1 1"/><line x1="808" y1="8.5" x2="821" y2="8.5" stroke="#404040" stroke-dasharray="1 1"/><rect x="864.5" y="-2.5" width="12" height="13" fill="none" stroke="#555" stroke-dasharray="1 1"/><rect x="924" y="0" width="1" height="16" fill="#a0a0a0"/><rect x="925" y="0" width="1" height="16" fill="#fff"/><rect x="928" y="0" width="3" height="1" fill="#b0b0b0"/><rect x="928" y="2" width="3" height="1" fill="#b0b0b0"/><rect x="928" y="4" width="3" height="1" fill="#b0b0b0"/><rect x="928" y="6" width="3" height="1" fill="#b0b0b0"/><rect x="928" y="8" width="3" height="1" fill="#b0b0b0"/><rect x="928" y="10" width="3" height="1" fill="#b0b0b0"/><rect x="928" y="12" width="3" height="1" fill="#b0b0b0"/><rect x="1075" y="0" width="24" height="14" fill="#fafafa"/><rect x="1074" y="0" width="1" height="14" fill="#c0c0c0"/><rect x="1185" y="0" width="1" height="16" fill="#a0a0a0"/><rect x="1186" y="0" width="1" height="16" fill="#fff"/><g shape-rendering="auto" clip-path="url(#cpTb)"><circle cx="0" cy="1" r="4" fill="#dbe9f8" stroke="#6f9fd8" stroke-width="1.3"/><line x1="2.5" y1="7" x2="6.5" y2="12" stroke="#c89a28" stroke-width="2.4" stroke-linecap="round"/><rect x="24.5" y="-3" width="10" height="12" rx="1" fill="#fff" stroke="#8a8a8a" stroke-width="1"/><line x1="26.5" y1="3.5" x2="31" y2="3.5" stroke="#9a9a9a"/><line x1="26.5" y1="5.5" x2="31" y2="5.5" stroke="#9a9a9a"/><path d="M32.5 2.5 h3.5 v3.3 h3.7 v3.5 h-3.7 v4 h-3.5 v-4 h-3.7 v-3.5 h3.7 z" fill="#22c322" stroke="#0f8f12" stroke-width="0.8"/><path d="M91.3 5.6 L96 -2 L102 -2 L106.8 5 L98.7 11.6 Z" fill="url(#gGold)" stroke="#a87814" stroke-width="0.8"/><path d="M92.5 7.5 L98.7 12 L105.8 6.5" fill="none" stroke="#9a6a10" stroke-width="1"/><rect x="121.5" y="-3" width="10.5" height="8" fill="#2a90f4" stroke="#1e74d8" stroke-width="0.6"/><rect x="125.2" y="-3" width="1.2" height="7" fill="#dff0ff"/><rect x="127" y="0.6" width="4" height="0.8" fill="#dff0ff"/><path d="M122 11.5 a3 3 0 0 1 -0.2 -5.6 a4.2 4.2 0 0 1 7 -1.4 a3.5 3.5 0 0 1 4.4 2.8 a2.2 2.2 0 0 1 -0.4 4.2 z" fill="url(#gCloud)" stroke="#6f88bc" stroke-width="0.9"/><circle cx="155.2" cy="3.8" r="7" fill="none" stroke="#9db4dd" stroke-width="1.2"/><circle cx="155.2" cy="3.8" r="4.3" fill="none" stroke="#6f90d0" stroke-width="1.2"/><path d="M155.2 3.8 L155.2 11.5 A7.7 7.7 0 0 0 162.9 3.8 Z" fill="#5cb85c" opacity="0.55"/><rect x="154.6" y="4" width="1.4" height="7.6" fill="#22aa22"/><circle cx="155.2" cy="3.8" r="1.7" fill="#2d62c8"/><ellipse cx="182" cy="0.5" rx="7" ry="3" fill="#5aa8e6" stroke="#2a78c0" stroke-width="0.8"/><path d="M175 2.5 L189 2.5 L185 11 L180 11 Z" fill="#f1cf3c" stroke="#c59a16" stroke-width="0.8"/><circle cx="186.3" cy="8" r="4.2" fill="#d82a1e"/><rect x="184.6" y="6.3" width="3.4" height="3.4" fill="#fff"/><path d="M323.4 6.8 Q327 1 329.3 1.2 Q331.5 1.6 334.8 5.4" fill="none" stroke="#1fa01f" stroke-width="1.3"/><line x1="363.90000000000003" y1="6.2" x2="369.1" y2="11.2" stroke="#9a7418" stroke-width="3.2" stroke-linecap="round"/><line x1="363.90000000000003" y1="6.2" x2="369.1" y2="11.2" stroke="#f0c840" stroke-width="1.8" stroke-linecap="round"/><circle cx="360.1" cy="2" r="5.6" fill="#dcedfc" stroke="#4f8ddb" stroke-width="1.3"/><rect x="356.90000000000003" y="1.2" width="6.4" height="1.7" fill="#4a86d2"/><rect x="359.25" y="-1.2" width="1.7" height="6.4" fill="#4a86d2"/><line x1="392.40000000000003" y1="6.2" x2="397.6" y2="11.2" stroke="#9a7418" stroke-width="3.2" stroke-linecap="round"/><line x1="392.40000000000003" y1="6.2" x2="397.6" y2="11.2" stroke="#f0c840" stroke-width="1.8" stroke-linecap="round"/><circle cx="388.6" cy="2" r="5.6" fill="#dcedfc" stroke="#4f8ddb" stroke-width="1.3"/><rect x="385.40000000000003" y="1.2" width="6.4" height="1.7" fill="#4a86d2"/><path d="M453.3 -1 L453.3 6.5 L457.3 3 Z" fill="#7ae87a" stroke="#1d9a2a" stroke-width="1"/><path d="M483.2 3.3 L486.6 0.8 L486 3.3 L486.6 5.8 Z" fill="#e84a10"/><line x1="485" y1="3.3" x2="488.3" y2="3.3" stroke="#e84a10" stroke-width="1.1"/><rect x="508" y="-3" width="9" height="11" fill="#fff" stroke="#8a8a8a"/><path d="M515.5 1.5 h3.5 v3.5 h3.7 v3.5 h-3.7 v4 h-3.5 v-4 h-3.7 v-3.5 h3.7 z" fill="#22c322" stroke="#0f8f12" stroke-width="0.8"/><path d="M529 3 L534 3 L531.5 6 Z" fill="#000"/><circle cx="553.3" cy="3" r="7.4" fill="#2f6fd6" stroke="#1b4fb0" stroke-width="0.8"/><circle cx="553.3" cy="3" r="5" fill="#e6eefa"/><path d="M553.3 0 L553.3 3.4 L556 4.6" fill="none" stroke="#555" stroke-width="0.9"/><path d="M568 3 L573 3 L570.5 6 Z" fill="#000"/><polyline points="586,3 589,2 592,3 595,1.5 598,2" fill="none" stroke="#d04a2a" stroke-width="1"/><polyline points="586,8 589,7 592,8.5 595,6.5 598,7.5" fill="none" stroke="#2a9a2a" stroke-width="1"/><path d="M607 3 L612 3 L609.5 6 Z" fill="#000"/><path d="M636.5 -3 L636.5 8.5 L639 6.2 L641 11 L643 10.2 L641 5.6 L644.5 5.6 Z" fill="#222"/><line x1="752.5" y1="10.8" x2="764.5" y2="-0.5" stroke="#404040" stroke-width="1"/><g stroke="#404040" stroke-width="0.9"><line x1="779" y1="6" x2="791" y2="-1"/><line x1="781" y1="10" x2="793" y2="3"/><line x1="782" y1="3" x2="785" y2="9"/><line x1="785" y1="1" x2="788" y2="7"/><line x1="788" y1="0" x2="791" y2="5"/></g><path d="M892 1.5 l3 -3 l3 3 l-3 3 z" fill="#333"/><path d="M899 8 l3 -3 l3 3 l-3 3 z" fill="#333"/><path d="M893 6 l2 2.5 l4 -5" fill="none" stroke="#333" stroke-width="1.2"/><path d="M913 3 L918 3 L915.5 6 Z" fill="#000"/><circle cx="1655.8" cy="1.4" r="4" fill="#eef3fb" stroke="#3a6fd8" stroke-width="1.4"/><line x1="1653" y1="4.5" x2="1648.6" y2="8.8" stroke="#2f62cc" stroke-width="2.2" stroke-linecap="round"/><path d="M1672.5 4 a5 4.5 0 0 1 9 -3 l0 6 a5 4.5 0 0 1 -4.5 2.5 l-2 3 l-0.3 -3.2 a5 4.5 0 0 1 -2.2 -5.3 z" fill="#e4e6ee" stroke="#a8a8a8" stroke-width="0.9"/><circle cx="1686.6" cy="1.2" r="8.4" fill="#e0321c"/></g></g>
</g>
<g id="axtext" font-size="9.8" fill="#000"><text x="1659" y="27" textLength="32.5" lengthAdjust="spacingAndGlyphs" >35593.0</text><text x="1659" y="60" textLength="32.5" lengthAdjust="spacingAndGlyphs" >35527.0</text><text x="1659" y="93" textLength="32.5" lengthAdjust="spacingAndGlyphs" >35461.0</text><text x="1659" y="126" textLength="32.5" lengthAdjust="spacingAndGlyphs" >35395.0</text><text x="1659" y="159" textLength="32.5" lengthAdjust="spacingAndGlyphs" >35329.0</text><text x="1659" y="192" textLength="32.5" lengthAdjust="spacingAndGlyphs" >35263.0</text><text x="1659" y="225" textLength="32.5" lengthAdjust="spacingAndGlyphs" >35197.0</text><text x="1659" y="258" textLength="32.5" lengthAdjust="spacingAndGlyphs" >35131.0</text><text x="1659" y="291" textLength="32.5" lengthAdjust="spacingAndGlyphs" >35065.0</text><text x="1659" y="324" textLength="32.5" lengthAdjust="spacingAndGlyphs" >34999.0</text><text x="1659" y="357" textLength="32.5" lengthAdjust="spacingAndGlyphs" >34933.0</text><text x="1659" y="390" textLength="32.5" lengthAdjust="spacingAndGlyphs" >34867.0</text><text x="1659" y="423" textLength="32.5" lengthAdjust="spacingAndGlyphs" >34801.0</text><text x="1659" y="456" textLength="32.5" lengthAdjust="spacingAndGlyphs" >34733.5</text><text x="1659" y="489" textLength="32.5" lengthAdjust="spacingAndGlyphs" >34667.5</text><text x="1659" y="522" textLength="32.5" lengthAdjust="spacingAndGlyphs" >34601.5</text><text x="1659" y="555" textLength="32.5" lengthAdjust="spacingAndGlyphs" >34535.5</text><text x="1659" y="588" textLength="32.5" lengthAdjust="spacingAndGlyphs" >34469.5</text><text x="1656" y="600" textLength="27.8" lengthAdjust="spacingAndGlyphs" >130.96</text><text x="1656" y="660" textLength="18.5" lengthAdjust="spacingAndGlyphs" >0.00</text><text x="1656.3" y="742" textLength="31" lengthAdjust="spacingAndGlyphs" >-175.19</text><text x="1656" y="758" textLength="14.5" lengthAdjust="spacingAndGlyphs" >100</text><text x="1656" y="787" textLength="9.7" lengthAdjust="spacingAndGlyphs" >80</text><text x="1656" y="838" textLength="9.7" lengthAdjust="spacingAndGlyphs" >50</text><text x="1656" y="899" textLength="9.7" lengthAdjust="spacingAndGlyphs" >15</text><text x="1656" y="918" textLength="4.9" lengthAdjust="spacingAndGlyphs" >0</text><text x="57.8" y="934" textLength="50.6" lengthAdjust="spacingAndGlyphs" font-size="9.8">4 Aug 12:00</text><text x="121.8" y="934" textLength="50.6" lengthAdjust="spacingAndGlyphs" font-size="9.8">5 Aug 20:00</text><text x="185.8" y="934" textLength="50.6" lengthAdjust="spacingAndGlyphs" font-size="9.8">9 Aug 00:00</text><text x="249.8" y="934" textLength="55.4" lengthAdjust="spacingAndGlyphs" font-size="9.8">10 Aug 08:00</text><text x="313.8" y="934" textLength="55.4" lengthAdjust="spacingAndGlyphs" font-size="9.8">11 Aug 16:00</text><text x="377.8" y="934" textLength="55.4" lengthAdjust="spacingAndGlyphs" font-size="9.8">13 Aug 00:00</text><text x="441.8" y="934" textLength="55.4" lengthAdjust="spacingAndGlyphs" font-size="9.8">16 Aug 04:00</text><text x="505.8" y="934" textLength="55.4" lengthAdjust="spacingAndGlyphs" font-size="9.8">17 Aug 12:00</text><text x="569.8" y="934" textLength="55.4" lengthAdjust="spacingAndGlyphs" font-size="9.8">18 Aug 20:00</text><text x="633.8" y="934" textLength="55.4" lengthAdjust="spacingAndGlyphs" font-size="9.8">20 Aug 04:00</text><text x="697.8" y="934" textLength="55.4" lengthAdjust="spacingAndGlyphs" font-size="9.8">23 Aug 08:00</text><text x="761.8" y="934" textLength="55.4" lengthAdjust="spacingAndGlyphs" font-size="9.8">24 Aug 16:00</text><text x="825.8" y="934" textLength="55.4" lengthAdjust="spacingAndGlyphs" font-size="9.8">26 Aug 00:00</text><text x="889.8" y="934" textLength="55.4" lengthAdjust="spacingAndGlyphs" font-size="9.8">27 Aug 08:00</text><text x="953.8" y="934" textLength="55.4" lengthAdjust="spacingAndGlyphs" font-size="9.8">30 Aug 12:00</text><text x="1017.8" y="934" textLength="55.4" lengthAdjust="spacingAndGlyphs" font-size="9.8">31 Aug 20:00</text><text x="1081.8" y="934" textLength="49.3" lengthAdjust="spacingAndGlyphs" font-size="9.8">2 Sep 04:00</text><text x="1145.8" y="934" textLength="49.3" lengthAdjust="spacingAndGlyphs" font-size="9.8">3 Sep 12:00</text><text x="1209.8" y="934" textLength="49.3" lengthAdjust="spacingAndGlyphs" font-size="9.8">6 Sep 16:00</text><text x="1273.8" y="934" textLength="49.3" lengthAdjust="spacingAndGlyphs" font-size="9.8">8 Sep 00:00</text><text x="1337.8" y="934" textLength="49.3" lengthAdjust="spacingAndGlyphs" font-size="9.8">9 Sep 08:00</text><text x="1401.8" y="934" textLength="54.5" lengthAdjust="spacingAndGlyphs" font-size="9.8">10 Sep 16:00</text><text x="2.5" y="934" font-size="9.8">Aug 2021</text><text x="10.5" y="32" textLength="185.5" lengthAdjust="spacingAndGlyphs" >DJ30-,H4  34610.0 34640.0 34598.0 34634.0</text><text x="-0.7" y="602" textLength="133.5" lengthAdjust="spacingAndGlyphs" >MACD(12,26,9) -129.09 -105.44</text><text x="-0.7" y="760" textLength="67.5" lengthAdjust="spacingAndGlyphs" >RSI(14) 32.8129</text></g>
<g id="annotshape" shape-rendering="crispEdges"><rect x="1320" y="477" width="177" height="6" fill="#00ff00"/><rect x="964" y="64" width="62" height="19" fill="#ff0000"/><rect x="965" y="65" width="60" height="17" fill="#fff"/><rect x="1026" y="73" width="10" height="1" fill="#ff0000" /><rect x="987" y="80" width="1" height="3" fill="#000"/><rect x="804" y="255" width="62" height="19" fill="#ff0000"/><rect x="805" y="256" width="60" height="17" fill="#fff"/><rect x="866" y="264" width="10" height="1" fill="#ff0000" /><rect x="524" y="566" width="62" height="19" fill="#ff0000"/><rect x="525" y="567" width="60" height="17" fill="#fff"/><rect x="586" y="575" width="10" height="1" fill="#ff0000" /><rect x="1276" y="216" width="62" height="19" fill="#ff0000"/><rect x="1277" y="217" width="60" height="17" fill="#fff"/><rect x="1338" y="225" width="10" height="1" fill="#ff0000" /><rect x="1332" y="513" width="62" height="19" fill="#ff0000"/><rect x="1333" y="514" width="60" height="17" fill="#fff"/><rect x="1393" y="520" width="4" height="4" fill="#ff0000"/><rect x="1394" y="521" width="2" height="2" fill="#fff"/><rect x="1397" y="522" width="7" height="1" fill="#ff0000" /><rect x="1190" y="469" width="74" height="25" fill="#ff0000"/><rect x="1191" y="470" width="72" height="23" fill="#fff"/><rect x="1187" y="479" width="4" height="5" fill="#ff0000"/><rect x="1188" y="480" width="2" height="3" fill="#fff"/><rect x="1180" y="481" width="7" height="1" fill="#ff0000" /><rect x="1508" y="485" width="111" height="25" fill="#404040"/><rect x="1509" y="486" width="109" height="23" fill="#fff"/><rect x="1561" y="483" width="3" height="3" fill="#32cd32"/><rect x="1562" y="484" width="1" height="1" fill="#fff"/><rect x="1509" y="502" width="109" height="1" fill="#c0c0c0" /><rect x="1655" y="420" width="41" height="11" fill="#ff0000"/><rect x="1648" y="424" width="5" height="5" fill="#ff0000"/><rect x="1649" y="425" width="3" height="3" fill="#fff"/><rect x="1655" y="450" width="41" height="11" fill="#ff0000"/><rect x="1648" y="454" width="5" height="5" fill="#ff0000"/><rect x="1649" y="455" width="3" height="3" fill="#fff"/><rect x="1655" y="475" width="41" height="11" fill="#32cd32"/><rect x="1648" y="479" width="5" height="5" fill="#32cd32"/><rect x="1649" y="480" width="3" height="3" fill="#fff"/><rect x="1655" y="496" width="41" height="11" fill="#000000"/><rect x="1655" y="528" width="41" height="11" fill="#0000ff"/><rect x="1648" y="532" width="5" height="5" fill="#0000ff"/><rect x="1649" y="533" width="3" height="3" fill="#fff"/><rect x="1655" y="557" width="41" height="11" fill="#0000ff"/><rect x="1648" y="561" width="5" height="5" fill="#0000ff"/><rect x="1649" y="562" width="3" height="3" fill="#fff"/><line x1="1204.5" y1="88.5" x2="1326.8" y2="436.8" stroke="#ff0000" stroke-width="3.2"/><polygon points="1328.5,441.5 1318.3,429.2 1324.1,429.0 1328.7,425.5" fill="#ff0000"/><line x1="1328.5" y1="438.0" x2="1348.3" y2="250.0" stroke="#ff0000" stroke-width="3.2"/><polygon points="1348.8,245.0 1352.7,260.5 1347.4,258.1 1341.8,259.3" fill="#ff0000"/><line x1="1348.8" y1="245.0" x2="1420.6" y2="539.1" stroke="#ff0000" stroke-width="3.2"/><polygon points="1421.8,544.0 1412.9,530.7 1418.7,531.2 1423.6,528.1" fill="#ff0000"/><line x1="1250.4" y1="651.2" x2="1282.7" y2="703.9" stroke="#ff0000" stroke-width="3.2"/><polygon points="1285.3,708.2 1274.8,701.2 1280.0,699.6 1283.8,695.6" fill="#ff0000"/><line x1="1285.3" y1="707.6" x2="1390.3" y2="701.5" stroke="#ff0000" stroke-width="3.2"/><polygon points="1395.3,701.2 1384.1,707.2 1385.2,701.8 1383.5,696.6" fill="#ff0000"/><line x1="1395.3" y1="701.2" x2="1415.9" y2="722.3" stroke="#ff0000" stroke-width="3.2"/><polygon points="1419.4,725.9 1407.6,721.4 1412.3,718.7 1415.2,714.0" fill="#ff0000"/><line x1="1377.4" y1="835.0" x2="1415.3" y2="873.6" stroke="#ff0000" stroke-width="3.2"/><polygon points="1418.8,877.2 1407.0,872.7 1411.7,870.0 1414.5,865.3" fill="#ff0000"/><path d="M1413 21 L1424 21 L1418.5 26.5 Z" fill="#c0c0c0"/></g>
<g id="panel"><g shape-rendering="crispEdges"><rect x="0" y="40" width="217" height="57" fill="#fff"/><rect x="0" y="40" width="50" height="24" fill="#b80808"/><rect x="0" y="41" width="49" height="23" fill="url(#gTop)"/><rect x="165" y="40" width="52" height="24" fill="#b80808"/><rect x="166" y="41" width="50" height="23" fill="url(#gTop)"/><rect x="0" y="64" width="107" height="33" fill="#a80000"/><rect x="0" y="64" width="106" height="32" fill="url(#gBot)"/><rect x="109" y="64" width="108" height="33" fill="#a80000"/><rect x="110" y="64" width="106" height="32" fill="url(#gBot)"/><rect x="2" y="63" width="44" height="1" fill="#9c0000"/><rect x="2" y="64" width="44" height="1" fill="#f08080"/><rect x="170" y="63" width="44" height="1" fill="#9c0000"/><rect x="170" y="64" width="44" height="1" fill="#f08080"/><rect x="52" y="40" width="111" height="22" fill="#a4a6ae"/><rect x="53" y="41" width="109" height="20" fill="#fff"/><rect x="54" y="42" width="19" height="18" fill="url(#gBtn)"/><rect x="73" y="41" width="1" height="20" fill="#a4a6ae"/><rect x="142" y="42" width="19" height="18" fill="url(#gBtn)"/><rect x="141" y="41" width="1" height="20" fill="#a4a6ae"/></g><path d="M59.8 49 L65.2 49 L62.5 52.3 Z" fill="#4a62c4"/><path d="M148.8 52.3 L154.2 52.3 L151.5 49 Z" fill="#4a62c4"/><text x="10.2" y="56.2" font-size="12.4" fill="#fff" textLength="25.7" lengthAdjust="spacingAndGlyphs">SELL</text><text x="178.6" y="56.2" font-size="12.4" fill="#fff" textLength="23" lengthAdjust="spacingAndGlyphs">BUY</text><text x="137.8" y="55.3" font-size="12.4" fill="#000" text-anchor="end" textLength="22.5" lengthAdjust="spacingAndGlyphs">1.00</text><text x="14.6" y="92" font-size="12.4" font-weight="bold" fill="#fff" textLength="34" lengthAdjust="spacingAndGlyphs">34632</text><text x="124.5" y="92" font-size="12.4" font-weight="bold" fill="#fff" textLength="34" lengthAdjust="spacingAndGlyphs">34642</text><text x="50.2" y="92" font-size="36" fill="#fff">.</text><text x="161" y="92" font-size="36" fill="#fff">.</text><text x="60.5" y="91.7" font-size="33" fill="#fff" textLength="15.5" lengthAdjust="spacingAndGlyphs" stroke="#d02020" stroke-width="0.6" paint-order="stroke">5</text><text x="171.3" y="91.7" font-size="33" fill="#fff" textLength="15.5" lengthAdjust="spacingAndGlyphs" stroke="#d02020" stroke-width="0.6" paint-order="stroke">5</text></g>
<g id="annottext"><text x="965.8" y="80" font-size="16" fill="#ff0000" textLength="58" lengthAdjust="spacingAndGlyphs">35493.0</text><text x="805.8" y="271" font-size="16" fill="#ff0000" textLength="58" lengthAdjust="spacingAndGlyphs">35112.1</text><text x="525.8" y="582" font-size="16" fill="#ff0000" textLength="58" lengthAdjust="spacingAndGlyphs">34489.0</text><text x="1277.8" y="232" font-size="16" fill="#ff0000" textLength="58" lengthAdjust="spacingAndGlyphs">35189.0</text><text x="1333.8" y="529" font-size="16" fill="#ff0000" textLength="58" lengthAdjust="spacingAndGlyphs">34595.0</text><text x="1192" y="490" font-size="23" fill="#ff0000" textLength="70" lengthAdjust="spacingAndGlyphs">34677.0</text><text x="1509.5" y="504.3" font-size="20" fill="#00ff00" font-family="'Liberation Serif','Noto Serif CJK SC',serif" font-weight="200" textLength="108" lengthAdjust="spacing">多空转折点</text><text x="1659" y="429" font-size="9.8" fill="#fff" textLength="32.5" lengthAdjust="spacingAndGlyphs">34787.0</text><text x="1659" y="459" font-size="9.8" fill="#fff" textLength="32.5" lengthAdjust="spacingAndGlyphs">34727.0</text><text x="1659" y="484" font-size="9.8" fill="#fff" textLength="32.5" lengthAdjust="spacingAndGlyphs">34677.0</text><text x="1659" y="505" font-size="9.8" fill="#fff" textLength="32.5" lengthAdjust="spacingAndGlyphs">34634.0</text><text x="1659" y="537" font-size="9.8" fill="#fff" textLength="32.5" lengthAdjust="spacingAndGlyphs">34571.0</text><text x="1659" y="566" font-size="9.8" fill="#fff" textLength="32.5" lengthAdjust="spacingAndGlyphs">34513.0</text></g>
<g id="tbtext"><text x="43" y="6.8" font-size="12" fill="#000" font-family="'Liberation Sans','Noto Sans CJK SC',sans-serif" textLength="35.5" lengthAdjust="spacing">新订单</text><text x="196" y="6.8" font-size="12" fill="#000" font-family="'Liberation Sans','Noto Sans CJK SC',sans-serif" textLength="46.5" lengthAdjust="spacing">自动交易</text><text x="790" y="13" font-size="7" font-weight="bold" fill="#222">E</text><text x="817.5" y="13" font-size="7" font-weight="bold" fill="#222">F</text><text x="838.3" y="8.6" font-size="13" fill="#333">A</text><text x="867.6" y="8.6" font-size="10" font-weight="bold" fill="#444">T</text><text x="939.3" y="7.8" font-size="9.3" fill="#333" textLength="13.2" lengthAdjust="spacingAndGlyphs">M1</text><text x="967.5" y="7.8" font-size="9.3" fill="#333" textLength="13.2" lengthAdjust="spacingAndGlyphs">M5</text><text x="993" y="7.8" font-size="9.3" fill="#333" textLength="17.8" lengthAdjust="spacingAndGlyphs">M15</text><text x="1021.2" y="7.8" font-size="9.3" fill="#333" textLength="17.8" lengthAdjust="spacingAndGlyphs">M30</text><text x="1052.2" y="7.8" font-size="9.3" fill="#333" textLength="12.3" lengthAdjust="spacingAndGlyphs">H1</text><text x="1079.5" y="7.8" font-size="9.3" fill="#333" textLength="13.2" lengthAdjust="spacingAndGlyphs">H4</text><text x="1108.7" y="7.8" font-size="9.3" fill="#333" textLength="11.3" lengthAdjust="spacingAndGlyphs">D1</text><text x="1136" y="7.8" font-size="9.3" fill="#333" textLength="14" lengthAdjust="spacingAndGlyphs">W1</text><text x="1162.4" y="7.8" font-size="9.3" fill="#333" textLength="15" lengthAdjust="spacingAndGlyphs">MN</text><text x="1683.4" y="5.8" font-size="13" fill="#fff" font-family="'Liberation Serif',serif">1</text></g>
</svg>
</body></html>
